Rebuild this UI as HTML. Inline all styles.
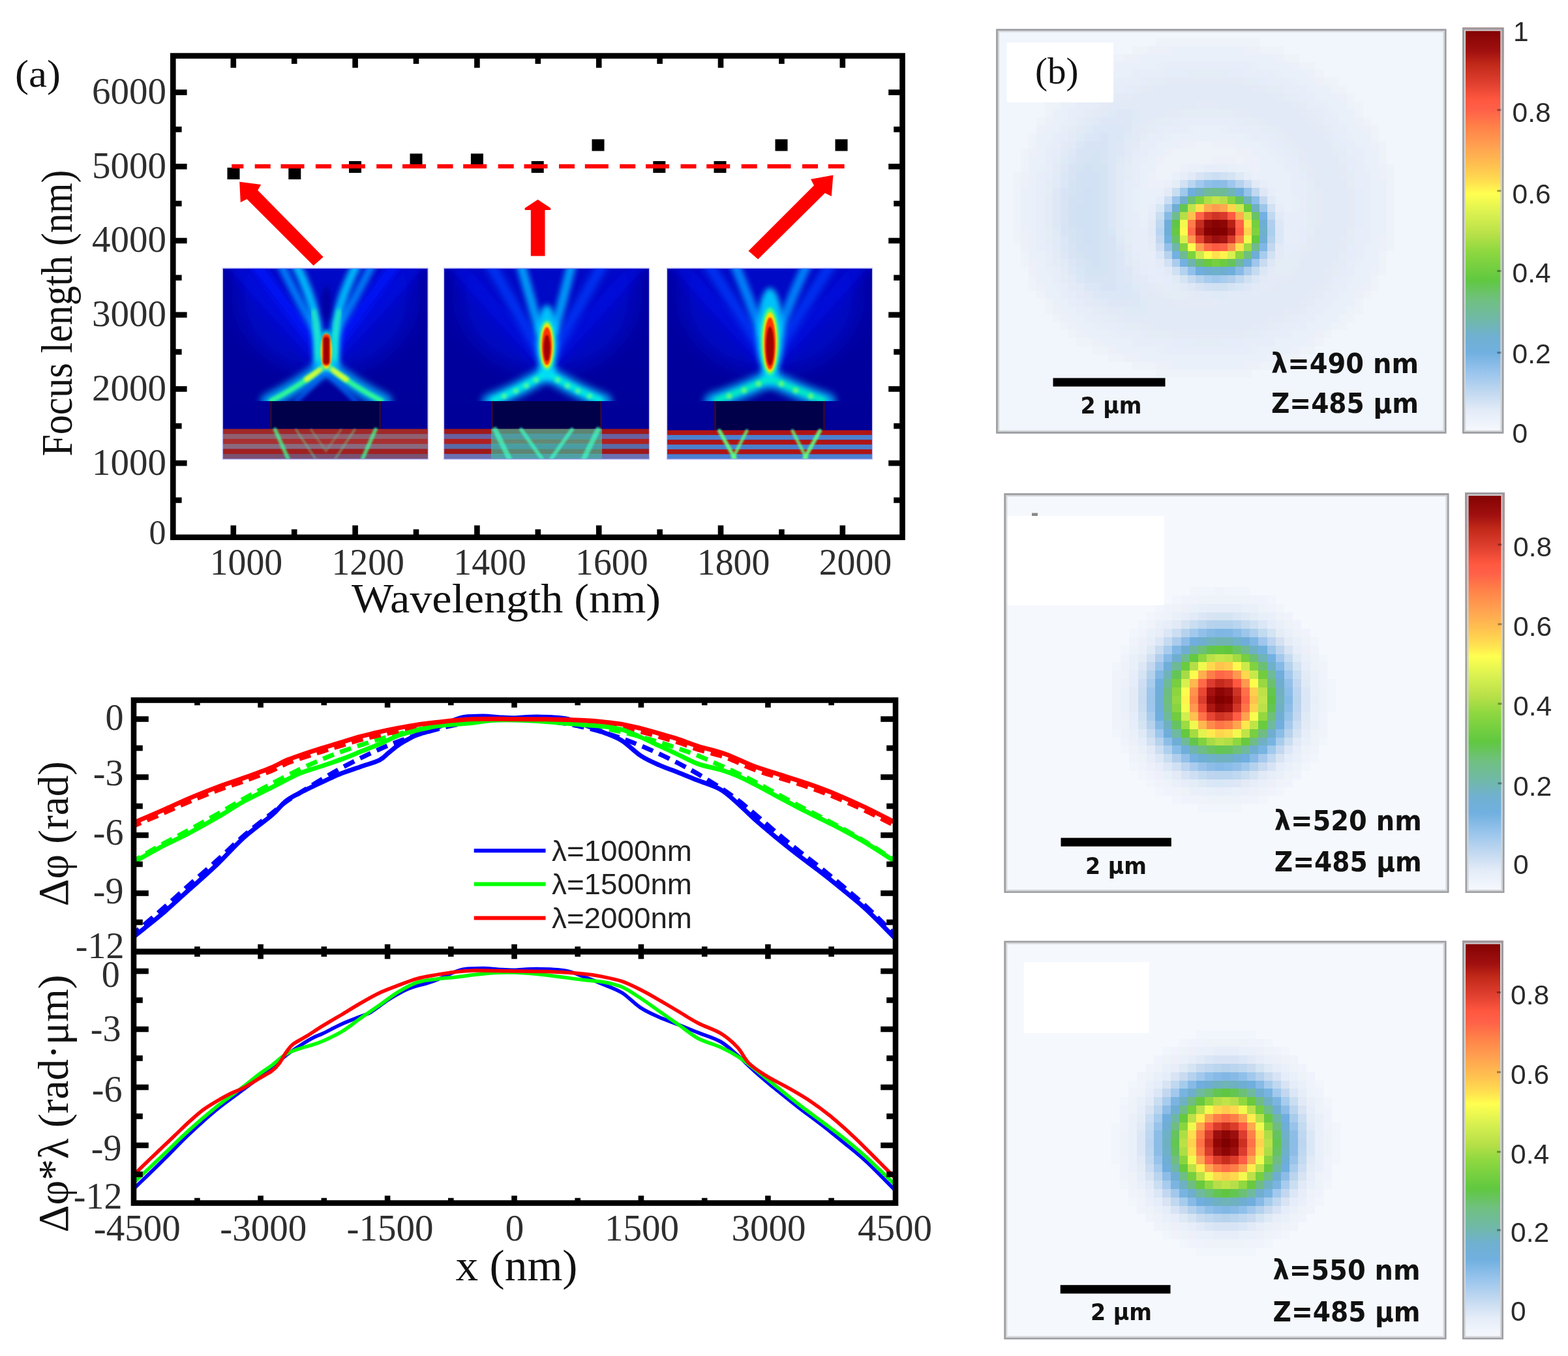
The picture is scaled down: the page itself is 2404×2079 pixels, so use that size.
<!DOCTYPE html>
<html><head><meta charset="utf-8"><title>Figure</title>
<style>html,body{margin:0;padding:0;background:#fff;}svg{display:block;}</style>
</head><body>
<svg xmlns="http://www.w3.org/2000/svg" width="2404" height="2079" viewBox="0 0 2404 2079">
<defs><filter id="g1" x="-50%" y="-50%" width="200%" height="200%"><feGaussianBlur stdDeviation="1"/></filter><filter id="g1_5" x="-50%" y="-50%" width="200%" height="200%"><feGaussianBlur stdDeviation="1.5"/></filter><filter id="g2" x="-50%" y="-50%" width="200%" height="200%"><feGaussianBlur stdDeviation="2"/></filter><filter id="g3" x="-50%" y="-50%" width="200%" height="200%"><feGaussianBlur stdDeviation="3"/></filter><filter id="g4" x="-50%" y="-50%" width="200%" height="200%"><feGaussianBlur stdDeviation="4"/></filter><filter id="g6" x="-50%" y="-50%" width="200%" height="200%"><feGaussianBlur stdDeviation="6"/></filter><filter id="g9" x="-50%" y="-50%" width="200%" height="200%"><feGaussianBlur stdDeviation="9"/></filter><filter id="g16" x="-50%" y="-50%" width="200%" height="200%"><feGaussianBlur stdDeviation="16"/></filter><clipPath id="ci"><rect x="0" y="0" width="314" height="292"/></clipPath><clipPath id="cf"><rect x="0" y="0" width="314" height="203.5"/></clipPath><linearGradient id="ibg" x1="0" y1="0" x2="0" y2="1"><stop offset="0" stop-color="#0000a6"/><stop offset="0.7" stop-color="#00009a"/><stop offset="1" stop-color="#000094"/></linearGradient><linearGradient id="cb" x1="0" y1="0" x2="0" y2="1"><stop offset="0.0" stop-color="#800000"/><stop offset="0.057" stop-color="#a01010"/><stop offset="0.089" stop-color="#c02818"/><stop offset="0.137" stop-color="#e04030"/><stop offset="0.178" stop-color="#ff5840"/><stop offset="0.202" stop-color="#ff6048"/><stop offset="0.242" stop-color="#ff8048"/><stop offset="0.291" stop-color="#ffa050"/><stop offset="0.339" stop-color="#ffc050"/><stop offset="0.38" stop-color="#ffe050"/><stop offset="0.409" stop-color="#ffff50"/><stop offset="0.46" stop-color="#d8f050"/><stop offset="0.509" stop-color="#b8e048"/><stop offset="0.549" stop-color="#90d840"/><stop offset="0.622" stop-color="#60c840"/><stop offset="0.67" stop-color="#70c080"/><stop offset="0.719" stop-color="#70b8a8"/><stop offset="0.759" stop-color="#70b0d0"/><stop offset="0.8" stop-color="#70b0e0"/><stop offset="0.848" stop-color="#98c4ec"/><stop offset="0.897" stop-color="#c0d8f0"/><stop offset="0.945" stop-color="#e4ecf8"/><stop offset="1.0" stop-color="#f8fafe"/></linearGradient></defs>
<rect width="2404" height="2079" fill="#fff"/>
<g transform="translate(341.8,411.6)"><g clip-path="url(#ci)">
<rect width="314" height="292" fill="url(#ibg)"/>
<g clip-path="url(#cf)">
<ellipse cx="158" cy="40" rx="135" ry="120" fill="#0018f0" opacity="0.45" filter="url(#g16)"/>
<path d="M150,140 L15,-8" fill="none" stroke="#0010f0" stroke-width="20" stroke-linecap="round" opacity="0.6" filter="url(#g9)"/>
<path d="M166,140 L300,-8" fill="none" stroke="#0010f0" stroke-width="20" stroke-linecap="round" opacity="0.6" filter="url(#g9)"/>
<path d="M150,125 L48,-8" fill="none" stroke="#0018ff" stroke-width="18" stroke-linecap="round" opacity="0.85" filter="url(#g6)"/>
<path d="M166,125 L266,-8" fill="none" stroke="#0018ff" stroke-width="18" stroke-linecap="round" opacity="0.85" filter="url(#g6)"/>
<path d="M147,105 Q118,55 88,-8" fill="none" stroke="#0090ff" stroke-width="12" stroke-linecap="round" opacity="0.9" filter="url(#g4)"/>
<path d="M169,105 Q198,55 230,-8" fill="none" stroke="#0090ff" stroke-width="12" stroke-linecap="round" opacity="0.9" filter="url(#g4)"/>
<path d="M146,150 L144,82 Q134,38 111,-8" fill="none" stroke="#00c8ff" stroke-width="14" stroke-linecap="round" opacity="0.95" filter="url(#g4)"/>
<path d="M171,150 L173,82 Q183,38 206,-8" fill="none" stroke="#00c8ff" stroke-width="14" stroke-linecap="round" opacity="0.95" filter="url(#g4)"/>
<path d="M146,140 L144.5,100 Q142.5,82 139,66" fill="none" stroke="#30ffb0" stroke-width="8" stroke-linecap="round" opacity="0.75" filter="url(#g3)"/>
<path d="M171,140 L172.5,100 Q174.5,82 178,66" fill="none" stroke="#30ffb0" stroke-width="8" stroke-linecap="round" opacity="0.75" filter="url(#g3)"/>
<ellipse cx="158.5" cy="55" rx="7" ry="28" fill="#00009a" opacity="0.9" filter="url(#g4)"/>
<path d="M70,204 Q112,184 156,150" fill="none" stroke="#00b8ff" stroke-width="24" stroke-linecap="round" opacity="0.85" filter="url(#g6)"/>
<path d="M247,204 Q205,184 161,150" fill="none" stroke="#00b8ff" stroke-width="24" stroke-linecap="round" opacity="0.85" filter="url(#g6)"/>
<path d="M74,203 Q114,182 156,151" fill="none" stroke="#30ff90" stroke-width="8" stroke-linecap="round" opacity="0.95" filter="url(#g2)"/>
<path d="M243,203 Q203,182 161,151" fill="none" stroke="#30ff90" stroke-width="8" stroke-linecap="round" opacity="0.95" filter="url(#g2)"/>
<path d="M128,170 Q142,161 156,151" fill="none" stroke="#e0ff30" stroke-width="8" stroke-linecap="round" opacity="0.95" filter="url(#g2)"/>
<path d="M189,170 Q175,161 161,151" fill="none" stroke="#e0ff30" stroke-width="8" stroke-linecap="round" opacity="0.95" filter="url(#g2)"/>
<path d="M112,204 L158,158 L204,204" fill="none" stroke="#0070ff" stroke-width="7" stroke-linecap="round" opacity="0.75" filter="url(#g3)"/>
<path d="M158.5,160 L158.5,186" fill="none" stroke="#0080ff" stroke-width="8" stroke-linecap="round" opacity="0.8" filter="url(#g3)"/>
<ellipse cx="158.5" cy="126" rx="13" ry="32" fill="#00e8e0" opacity="0.85" filter="url(#g3)"/>
<ellipse cx="158.5" cy="127" rx="8.5" ry="27" fill="#ffe000" filter="url(#g1_5)"/>
<rect x="152.5" y="100.5" width="12" height="49" rx="6" fill="#ff3a00" filter="url(#g1)"/>
<rect x="154" y="105" width="9" height="42" rx="4.5" fill="#a00000" filter="url(#g1)"/>
</g>
<rect x="72" y="203.5" width="170.5" height="42.5" fill="#00004a"/>
<rect x="72" y="203.5" width="3" height="42.5" fill="#3a0a30" opacity="0.8"/>
<rect x="239.5" y="203.5" width="3" height="42.5" fill="#3a0a30" opacity="0.8"/>
<rect x="0" y="246" width="314" height="8.2" fill="#a02828"/>
<rect x="0" y="253.7" width="314" height="8.2" fill="#906070"/>
<rect x="0" y="261.3" width="314" height="8.2" fill="#a83030"/>
<rect x="0" y="269" width="314" height="8.2" fill="#8a6a80"/>
<rect x="0" y="276.7" width="314" height="8.2" fill="#a02020"/>
<rect x="0" y="284.3" width="314" height="8.2" fill="#7a5070"/>
<path d="M80,247 L100,292" fill="none" stroke="#40ff90" stroke-width="6" stroke-linecap="round" opacity="0.75" filter="url(#g1_5)"/>
<path d="M234,247 L214,292" fill="none" stroke="#40ff90" stroke-width="6" stroke-linecap="round" opacity="0.75" filter="url(#g1_5)"/>
<path d="M112,247 L142,292" fill="none" stroke="#70c090" stroke-width="3" stroke-linecap="round" opacity="0.6" filter="url(#g1_5)"/>
<path d="M202,247 L172,292" fill="none" stroke="#70c090" stroke-width="3" stroke-linecap="round" opacity="0.6" filter="url(#g1_5)"/>
<path d="M135,247 L158,280 L181,247" fill="none" stroke="#80b080" stroke-width="3" stroke-linecap="round" opacity="0.5" filter="url(#g1_5)"/>
</g>
<rect x="-0.5" y="-0.5" width="315" height="293" fill="none" stroke="#9090ff" stroke-width="1.5" opacity="0.5"/>
</g>
<g transform="translate(681,411.6)"><g clip-path="url(#ci)">
<rect width="314" height="292" fill="url(#ibg)"/>
<g clip-path="url(#cf)">
<ellipse cx="158" cy="40" rx="135" ry="120" fill="#0018f0" opacity="0.45" filter="url(#g16)"/>
<path d="M150,140 L15,-8" fill="none" stroke="#0010f0" stroke-width="20" stroke-linecap="round" opacity="0.6" filter="url(#g9)"/>
<path d="M166,140 L300,-8" fill="none" stroke="#0010f0" stroke-width="20" stroke-linecap="round" opacity="0.6" filter="url(#g9)"/>
<path d="M148,130 L70,-8" fill="none" stroke="#0040ff" stroke-width="16" stroke-linecap="round" opacity="0.8" filter="url(#g6)"/>
<path d="M166,130 L244,-8" fill="none" stroke="#0040ff" stroke-width="16" stroke-linecap="round" opacity="0.8" filter="url(#g6)"/>
<path d="M146,95 Q132,45 117,-8" fill="none" stroke="#00b0ff" stroke-width="14" stroke-linecap="round" opacity="0.9" filter="url(#g4)"/>
<path d="M169,95 Q183,45 196,-8" fill="none" stroke="#00b0ff" stroke-width="14" stroke-linecap="round" opacity="0.9" filter="url(#g4)"/>
<path d="M70,204 Q112,188 157,160" fill="none" stroke="#00c0ff" stroke-width="24" stroke-linecap="round" opacity="0.85" filter="url(#g6)"/>
<path d="M245,204 Q203,188 158,160" fill="none" stroke="#00c0ff" stroke-width="24" stroke-linecap="round" opacity="0.85" filter="url(#g6)"/>
<path d="M76,202 Q114,186 156,161" fill="none" stroke="#00f0e0" stroke-width="10" stroke-linecap="round" opacity="0.95" filter="url(#g3)"/>
<path d="M239,202 Q201,186 159,161" fill="none" stroke="#00f0e0" stroke-width="10" stroke-linecap="round" opacity="0.95" filter="url(#g3)"/>
<ellipse cx="92" cy="196" rx="4" ry="4" fill="#60ff90" opacity="0.8" filter="url(#g2)"/>
<ellipse cx="223" cy="196" rx="4" ry="4" fill="#60ff90" opacity="0.8" filter="url(#g2)"/>
<ellipse cx="110" cy="188" rx="4" ry="4" fill="#60ff90" opacity="0.8" filter="url(#g2)"/>
<ellipse cx="205" cy="188" rx="4" ry="4" fill="#60ff90" opacity="0.8" filter="url(#g2)"/>
<ellipse cx="126" cy="180" rx="4" ry="4" fill="#60ff90" opacity="0.8" filter="url(#g2)"/>
<ellipse cx="189" cy="180" rx="4" ry="4" fill="#60ff90" opacity="0.8" filter="url(#g2)"/>
<ellipse cx="141" cy="171" rx="4" ry="4" fill="#60ff90" opacity="0.8" filter="url(#g2)"/>
<ellipse cx="174" cy="171" rx="4" ry="4" fill="#60ff90" opacity="0.8" filter="url(#g2)"/>
<ellipse cx="157.5" cy="112" rx="16" ry="56" fill="#00d8ff" opacity="0.9" filter="url(#g4)"/>
<ellipse cx="157.5" cy="118" rx="12" ry="38" fill="#50ff80" filter="url(#g2)"/>
<ellipse cx="157.5" cy="118" rx="9.5" ry="34" fill="#ffe000" filter="url(#g1_5)"/>
<ellipse cx="157.5" cy="119" rx="7.5" ry="29" fill="#ff3000" filter="url(#g1)"/>
<ellipse cx="157.5" cy="122" rx="5" ry="20" fill="#a00000" filter="url(#g1)"/>
</g>
<rect x="72" y="203.5" width="170" height="42.5" fill="#00004a"/>
<rect x="72" y="203.5" width="3" height="42.5" fill="#3a0a30" opacity="0.8"/>
<rect x="239" y="203.5" width="3" height="42.5" fill="#3a0a30" opacity="0.8"/>
<rect x="0" y="246" width="314" height="8.2" fill="#a01818"/>
<rect x="0" y="253.7" width="314" height="8.2" fill="#6a60a0"/>
<rect x="0" y="261.3" width="314" height="8.2" fill="#b02020"/>
<rect x="0" y="269" width="314" height="8.2" fill="#5a6aa8"/>
<rect x="0" y="276.7" width="314" height="8.2" fill="#a01818"/>
<rect x="0" y="284.3" width="314" height="8.2" fill="#6a70b0"/>
<rect x="72" y="246" width="170" height="8.2" fill="#30d0b0" opacity="0.6"/>
<rect x="72" y="253.7" width="170" height="8.2" fill="#40c0a0" opacity="0.6"/>
<rect x="72" y="261.3" width="170" height="8.2" fill="#30d0b0" opacity="0.6"/>
<rect x="72" y="269" width="170" height="8.2" fill="#40c0a0" opacity="0.6"/>
<rect x="72" y="276.7" width="170" height="8.2" fill="#30d0b0" opacity="0.6"/>
<rect x="72" y="284.3" width="170" height="8.2" fill="#40c0a0" opacity="0.6"/>
<path d="M78,247 L100,292" fill="none" stroke="#40ffc0" stroke-width="8" stroke-linecap="round" opacity="0.7" filter="url(#g1_5)"/>
<path d="M236,247 L214,292" fill="none" stroke="#40ffc0" stroke-width="8" stroke-linecap="round" opacity="0.7" filter="url(#g1_5)"/>
<path d="M118,247 L150,292" fill="none" stroke="#40ffc0" stroke-width="6" stroke-linecap="round" opacity="0.7" filter="url(#g1_5)"/>
<path d="M196,247 L164,292" fill="none" stroke="#40ffc0" stroke-width="6" stroke-linecap="round" opacity="0.7" filter="url(#g1_5)"/>
</g>
<rect x="-0.5" y="-0.5" width="315" height="293" fill="none" stroke="#9090ff" stroke-width="1.5" opacity="0.5"/>
</g>
<g transform="translate(1023,411.6)"><g clip-path="url(#ci)">
<rect width="314" height="292" fill="url(#ibg)"/>
<g clip-path="url(#cf)">
<ellipse cx="158" cy="40" rx="135" ry="120" fill="#0018f0" opacity="0.45" filter="url(#g16)"/>
<path d="M150,140 L15,-8" fill="none" stroke="#0010f0" stroke-width="20" stroke-linecap="round" opacity="0.6" filter="url(#g9)"/>
<path d="M166,140 L300,-8" fill="none" stroke="#0010f0" stroke-width="20" stroke-linecap="round" opacity="0.6" filter="url(#g9)"/>
<path d="M150,130 L62,-8" fill="none" stroke="#0040ff" stroke-width="16" stroke-linecap="round" opacity="0.8" filter="url(#g6)"/>
<path d="M165,130 L252,-8" fill="none" stroke="#0040ff" stroke-width="16" stroke-linecap="round" opacity="0.8" filter="url(#g6)"/>
<path d="M145,100 Q125,45 103,-8" fill="none" stroke="#0090ff" stroke-width="15" stroke-linecap="round" opacity="0.9" filter="url(#g4)"/>
<path d="M170,100 Q190,45 215,-8" fill="none" stroke="#0090ff" stroke-width="15" stroke-linecap="round" opacity="0.9" filter="url(#g4)"/>
<path d="M70,204 Q112,190 157,168" fill="none" stroke="#00c0ff" stroke-width="26" stroke-linecap="round" opacity="0.85" filter="url(#g6)"/>
<path d="M245,204 Q203,190 158,168" fill="none" stroke="#00c0ff" stroke-width="26" stroke-linecap="round" opacity="0.85" filter="url(#g6)"/>
<path d="M76,202 Q114,188 156,169" fill="none" stroke="#00f0c0" stroke-width="10" stroke-linecap="round" opacity="0.95" filter="url(#g3)"/>
<path d="M239,202 Q201,188 159,169" fill="none" stroke="#00f0c0" stroke-width="10" stroke-linecap="round" opacity="0.95" filter="url(#g3)"/>
<ellipse cx="95" cy="196" rx="4.5" ry="4.5" fill="#70ff70" opacity="0.8" filter="url(#g2)"/>
<ellipse cx="220" cy="196" rx="4.5" ry="4.5" fill="#70ff70" opacity="0.8" filter="url(#g2)"/>
<ellipse cx="118" cy="187" rx="4.5" ry="4.5" fill="#70ff70" opacity="0.8" filter="url(#g2)"/>
<ellipse cx="197" cy="187" rx="4.5" ry="4.5" fill="#70ff70" opacity="0.8" filter="url(#g2)"/>
<ellipse cx="140" cy="177" rx="4.5" ry="4.5" fill="#70ff70" opacity="0.8" filter="url(#g2)"/>
<ellipse cx="175" cy="177" rx="4.5" ry="4.5" fill="#70ff70" opacity="0.8" filter="url(#g2)"/>
<ellipse cx="157.5" cy="100" rx="20" ry="70" fill="#00d8ff" opacity="0.9" filter="url(#g4)"/>
<ellipse cx="157.5" cy="112" rx="14" ry="52" fill="#40ff80" filter="url(#g2)"/>
<ellipse cx="157.5" cy="113" rx="11" ry="46" fill="#ffe000" filter="url(#g1_5)"/>
<ellipse cx="157.5" cy="115" rx="8.5" ry="40" fill="#ff3000" filter="url(#g1)"/>
<ellipse cx="157.5" cy="119" rx="6" ry="30" fill="#a00000" filter="url(#g1)"/>
</g>
<rect x="72" y="203.5" width="170" height="44.5" fill="#00004a"/>
<rect x="72" y="203.5" width="3" height="44.5" fill="#3a0a30" opacity="0.8"/>
<rect x="239" y="203.5" width="3" height="44.5" fill="#3a0a30" opacity="0.8"/>
<rect x="0" y="248" width="314" height="7.8" fill="#b01414"/>
<rect x="0" y="255.3" width="314" height="7.8" fill="#4a80d0"/>
<rect x="0" y="262.7" width="314" height="7.8" fill="#b01414"/>
<rect x="0" y="270" width="314" height="7.8" fill="#4a80d0"/>
<rect x="0" y="277.3" width="314" height="7.8" fill="#b01414"/>
<rect x="0" y="284.7" width="314" height="7.8" fill="#4a80d0"/>
<path d="M80,249 L104,292" fill="none" stroke="#60ff80" stroke-width="6" stroke-linecap="round" opacity="0.9" filter="url(#g1_5)"/>
<path d="M234,249 L210,292" fill="none" stroke="#60ff80" stroke-width="6" stroke-linecap="round" opacity="0.9" filter="url(#g1_5)"/>
<path d="M122,249 L100,292" fill="none" stroke="#60ff80" stroke-width="5" stroke-linecap="round" opacity="0.8" filter="url(#g1_5)"/>
<path d="M192,249 L214,292" fill="none" stroke="#60ff80" stroke-width="5" stroke-linecap="round" opacity="0.8" filter="url(#g1_5)"/>
</g>
<rect x="-0.5" y="-0.5" width="315" height="293" fill="none" stroke="#9090ff" stroke-width="1.5" opacity="0.5"/>
</g>
<path d="M348.5 257h19v18h-19zM442.3 257h19v18h-19zM535 247h19v18h-19zM628.5 235.5h19v18h-19zM721.9 235.5h19v18h-19zM814.7 247h19v18h-19zM907.5 213.6h19v18h-19zM1001.3 247h19v18h-19zM1094.5 247h19v18h-19zM1188.5 213.6h19v18h-19zM1280.5 213.6h19v18h-19z" fill="#000"/>
<path d="M355.2 251.7h18.1v6.6h-18.1zM430.5 251.7h36v6.6h-36zM390.7 251.7h24v6.6h-24zM523.8 251.7h36v6.6h-36zM483.9 251.7h24v6.6h-24zM617 251.7h36v6.6h-36zM577.2 251.7h24v6.6h-24zM710.2 251.7h36v6.6h-36zM670.5 251.7h24v6.6h-24zM803.5 251.7h36v6.6h-36zM763.7 251.7h24v6.6h-24zM896.8 251.7h36v6.6h-36zM857 251.7h24v6.6h-24zM990 251.7h36v6.6h-36zM950.2 251.7h24v6.6h-24zM1083.2 251.7h36v6.6h-36zM1043.5 251.7h24v6.6h-24zM1176.5 251.7h36v6.6h-36zM1136.7 251.7h24v6.6h-24zM1269.8 251.7h24.8v6.6h-24.8zM1230 251.7h24v6.6h-24z" fill="#ff0000"/>
<polygon points="367.2,278.8 400.2,283 395.2,291.8 495.7,394 480.6,407.3 378.5,305.2 368.8,310.2" fill="#ff0000"/>
<polygon points="824.5,306 844.2,319 844.2,322 835.5,322 835.5,392.4 813.8,392.4 813.8,322 804.7,322 804.7,319" fill="#ff0000"/>
<polygon points="1277.4,268.4 1274.8,301 1264.8,296 1162.2,397.4 1147.5,384.8 1248,284.3 1243,274.7" fill="#ff0000"/>
<line x1="357.8" y1="823.8" x2="357.8" y2="805.5" stroke="#000" stroke-width="8.6"/>
<line x1="357.8" y1="85.6" x2="357.8" y2="103.9" stroke="#000" stroke-width="8.6"/>
<line x1="451.2" y1="823.8" x2="451.2" y2="811.5" stroke="#000" stroke-width="8.6"/>
<line x1="451.2" y1="85.6" x2="451.2" y2="97.9" stroke="#000" stroke-width="8.6"/>
<line x1="544.6" y1="823.8" x2="544.6" y2="805.5" stroke="#000" stroke-width="8.6"/>
<line x1="544.6" y1="85.6" x2="544.6" y2="103.9" stroke="#000" stroke-width="8.6"/>
<line x1="638" y1="823.8" x2="638" y2="811.5" stroke="#000" stroke-width="8.6"/>
<line x1="638" y1="85.6" x2="638" y2="97.9" stroke="#000" stroke-width="8.6"/>
<line x1="731.4" y1="823.8" x2="731.4" y2="805.5" stroke="#000" stroke-width="8.6"/>
<line x1="731.4" y1="85.6" x2="731.4" y2="103.9" stroke="#000" stroke-width="8.6"/>
<line x1="824.8" y1="823.8" x2="824.8" y2="811.5" stroke="#000" stroke-width="8.6"/>
<line x1="824.8" y1="85.6" x2="824.8" y2="97.9" stroke="#000" stroke-width="8.6"/>
<line x1="918.2" y1="823.8" x2="918.2" y2="805.5" stroke="#000" stroke-width="8.6"/>
<line x1="918.2" y1="85.6" x2="918.2" y2="103.9" stroke="#000" stroke-width="8.6"/>
<line x1="1011.6" y1="823.8" x2="1011.6" y2="811.5" stroke="#000" stroke-width="8.6"/>
<line x1="1011.6" y1="85.6" x2="1011.6" y2="97.9" stroke="#000" stroke-width="8.6"/>
<line x1="1105" y1="823.8" x2="1105" y2="805.5" stroke="#000" stroke-width="8.6"/>
<line x1="1105" y1="85.6" x2="1105" y2="103.9" stroke="#000" stroke-width="8.6"/>
<line x1="1198.4" y1="823.8" x2="1198.4" y2="811.5" stroke="#000" stroke-width="8.6"/>
<line x1="1198.4" y1="85.6" x2="1198.4" y2="97.9" stroke="#000" stroke-width="8.6"/>
<line x1="1291.8" y1="823.8" x2="1291.8" y2="805.5" stroke="#000" stroke-width="8.6"/>
<line x1="1291.8" y1="85.6" x2="1291.8" y2="103.9" stroke="#000" stroke-width="8.6"/>
<line x1="265.3" y1="766.9" x2="278.6" y2="766.9" stroke="#000" stroke-width="8.6"/>
<line x1="1383.5" y1="766.9" x2="1370.2" y2="766.9" stroke="#000" stroke-width="8.6"/>
<line x1="265.3" y1="710.1" x2="286.6" y2="710.1" stroke="#000" stroke-width="8.6"/>
<line x1="1383.5" y1="710.1" x2="1362.2" y2="710.1" stroke="#000" stroke-width="8.6"/>
<line x1="265.3" y1="653.2" x2="278.6" y2="653.2" stroke="#000" stroke-width="8.6"/>
<line x1="1383.5" y1="653.2" x2="1370.2" y2="653.2" stroke="#000" stroke-width="8.6"/>
<line x1="265.3" y1="596.4" x2="286.6" y2="596.4" stroke="#000" stroke-width="8.6"/>
<line x1="1383.5" y1="596.4" x2="1362.2" y2="596.4" stroke="#000" stroke-width="8.6"/>
<line x1="265.3" y1="539.5" x2="278.6" y2="539.5" stroke="#000" stroke-width="8.6"/>
<line x1="1383.5" y1="539.5" x2="1370.2" y2="539.5" stroke="#000" stroke-width="8.6"/>
<line x1="265.3" y1="482.7" x2="286.6" y2="482.7" stroke="#000" stroke-width="8.6"/>
<line x1="1383.5" y1="482.7" x2="1362.2" y2="482.7" stroke="#000" stroke-width="8.6"/>
<line x1="265.3" y1="425.8" x2="278.6" y2="425.8" stroke="#000" stroke-width="8.6"/>
<line x1="1383.5" y1="425.8" x2="1370.2" y2="425.8" stroke="#000" stroke-width="8.6"/>
<line x1="265.3" y1="369" x2="286.6" y2="369" stroke="#000" stroke-width="8.6"/>
<line x1="1383.5" y1="369" x2="1362.2" y2="369" stroke="#000" stroke-width="8.6"/>
<line x1="265.3" y1="312.1" x2="278.6" y2="312.1" stroke="#000" stroke-width="8.6"/>
<line x1="1383.5" y1="312.1" x2="1370.2" y2="312.1" stroke="#000" stroke-width="8.6"/>
<line x1="265.3" y1="255.3" x2="286.6" y2="255.3" stroke="#000" stroke-width="8.6"/>
<line x1="1383.5" y1="255.3" x2="1362.2" y2="255.3" stroke="#000" stroke-width="8.6"/>
<line x1="265.3" y1="198.4" x2="278.6" y2="198.4" stroke="#000" stroke-width="8.6"/>
<line x1="1383.5" y1="198.4" x2="1370.2" y2="198.4" stroke="#000" stroke-width="8.6"/>
<line x1="265.3" y1="141.6" x2="286.6" y2="141.6" stroke="#000" stroke-width="8.6"/>
<line x1="1383.5" y1="141.6" x2="1362.2" y2="141.6" stroke="#000" stroke-width="8.6"/>
<rect x="265.3" y="85.6" width="1118.2" height="738.2" fill="none" stroke="#000" stroke-width="8.6"/>
<g font-family="'Liberation Serif','Times New Roman',serif" font-size="56" fill="#2e2e2e">
<text x="377.4" y="881" text-anchor="middle" textLength="111.5" lengthAdjust="spacingAndGlyphs">1000</text>
<text x="564.2" y="881" text-anchor="middle" textLength="111.5" lengthAdjust="spacingAndGlyphs">1200</text>
<text x="751" y="881" text-anchor="middle" textLength="111.5" lengthAdjust="spacingAndGlyphs">1400</text>
<text x="937.8" y="881" text-anchor="middle" textLength="111.5" lengthAdjust="spacingAndGlyphs">1600</text>
<text x="1124.6" y="881" text-anchor="middle" textLength="111.5" lengthAdjust="spacingAndGlyphs">1800</text>
<text x="1311.4" y="881" text-anchor="middle" textLength="111.5" lengthAdjust="spacingAndGlyphs">2000</text>
<text x="255" y="727.5" text-anchor="end" textLength="114" lengthAdjust="spacingAndGlyphs">1000</text>
<text x="255" y="613.8" text-anchor="end" textLength="114" lengthAdjust="spacingAndGlyphs">2000</text>
<text x="255" y="500.1" text-anchor="end" textLength="114" lengthAdjust="spacingAndGlyphs">3000</text>
<text x="255" y="386.4" text-anchor="end" textLength="114" lengthAdjust="spacingAndGlyphs">4000</text>
<text x="255" y="272.7" text-anchor="end" textLength="114" lengthAdjust="spacingAndGlyphs">5000</text>
<text x="255" y="159" text-anchor="end" textLength="114" lengthAdjust="spacingAndGlyphs">6000</text>
<text x="254.5" y="834" text-anchor="end" font-size="52">0</text>
</g>
<text x="539" y="938.5" font-family="'Liberation Serif','Times New Roman',serif" font-size="63" fill="#111" textLength="474" lengthAdjust="spacingAndGlyphs">Wavelength (nm)</text>
<text transform="translate(109.5,699.5) rotate(-90)" font-family="'Liberation Serif','Times New Roman',serif" font-size="67" fill="#111" textLength="439" lengthAdjust="spacingAndGlyphs">Focus length (nm)</text>
<text x="23" y="132.5" font-family="'Liberation Serif','Times New Roman',serif" font-size="60" fill="#111" textLength="70" lengthAdjust="spacingAndGlyphs">(a)</text>
<defs><clipPath id="cu"><rect x="205" y="1073" width="1168" height="386"/></clipPath><clipPath id="cl"><rect x="205" y="1459" width="1168" height="386"/></clipPath></defs>
<g clip-path="url(#cu)" fill="none" stroke-linejoin="round">
<path d="M201.3 1435.7C201.9 1435 197.3 1438.4 205 1431.6C212.7 1424.8 233.3 1407.6 247.4 1395.1C261.6 1382.7 275.7 1369.7 289.8 1357.1C303.9 1344.5 318.1 1332.4 332.2 1319.7C346.3 1306.9 360.5 1292.8 374.6 1280.6C388.7 1268.4 406.4 1255.3 417 1246.7C427.6 1238.2 431.2 1234.6 438.2 1229.4C445.3 1224.3 449.9 1221.7 459.4 1215.8C468.8 1209.9 484.2 1200.2 495 1193.8C505.8 1187.3 514.4 1182.4 524.1 1177.1C533.7 1171.8 543.3 1166.9 553 1162.1C562.6 1157.4 574.7 1152 581.9 1148.7C589.1 1145.5 591.4 1144.6 596.3 1142.6C601.1 1140.7 605.9 1138.7 610.8 1136.9C615.6 1135.1 620.5 1133.3 625.3 1131.6C630.1 1129.9 635 1128.3 639.8 1126.7C644.7 1125.2 649 1123.8 654.3 1122.3C659.7 1120.7 665.7 1119 671.8 1117.5C678 1115.9 684.7 1114.3 691.3 1112.9C697.8 1111.5 703.1 1110.4 711.2 1109.1C719.4 1107.8 730.4 1106.1 740.1 1105.1C749.9 1104.1 761.9 1103.3 770 1102.9C778 1102.4 779.6 1102.3 788.5 1102.5C797.4 1102.7 810.3 1102.7 823.4 1103.8C836.4 1105 854.8 1107.4 866.9 1109.3C879 1111.2 886.5 1113 896.1 1115.3C905.7 1117.5 915.1 1120 924.7 1122.9C934.4 1125.7 944.1 1128.9 953.8 1132.3C963.4 1135.8 973 1139.5 982.7 1143.4C992.3 1147.4 1001.9 1151.7 1011.6 1156.2C1021.3 1160.7 1030.9 1165.5 1040.6 1170.5C1050.4 1175.6 1059.4 1180.4 1070.1 1186.6C1080.7 1192.9 1094.6 1201.3 1104.7 1207.9C1114.8 1214.5 1122 1219.6 1130.6 1226.2C1139.2 1232.8 1146.4 1238.9 1156.5 1247.4C1166.6 1255.9 1179.6 1267.4 1191.1 1277.1C1202.7 1286.8 1214.2 1296.2 1225.7 1305.4C1237.3 1314.7 1248.8 1323.3 1260.4 1332.5C1271.9 1341.8 1283.3 1351.3 1294.8 1361C1306.4 1370.8 1316.2 1378.8 1329.4 1391.2C1342.7 1403.5 1366.5 1427.4 1374.4 1435.2C1382.4 1443 1376.6 1437.5 1377 1438" stroke="#0000ff" stroke-width="7" stroke-dasharray="18 10"/>
<path d="M201.3 1322C201.9 1321.6 197.3 1324.4 205 1319.9C212.7 1315.5 233.3 1303.1 247.4 1295.2C261.6 1287.3 275.7 1280.2 289.8 1272.4C303.9 1264.7 318.1 1256.7 332.2 1248.7C346.3 1240.7 360.5 1232.2 374.6 1224.3C388.7 1216.4 402.9 1208.7 417 1201.3C431.1 1193.9 446.4 1185.9 459.4 1179.6C472.4 1173.3 484.2 1168.2 495 1163.6C505.8 1159.1 514.4 1155.8 524.1 1152.2C533.7 1148.7 543.3 1145.4 553 1142.3C562.6 1139.1 572.2 1136.1 581.9 1133.3C591.5 1130.5 601.1 1127.9 610.8 1125.4C620.4 1123 630.2 1120.7 639.8 1118.6C649.5 1116.6 659.1 1114.7 668.7 1113C678.4 1111.3 688.1 1109.8 697.8 1108.6C707.4 1107.3 717 1106.2 726.7 1105.3C736.3 1104.4 745.4 1103.8 755.7 1103.3C766 1102.8 774.8 1102.3 788.5 1102.5C802.2 1102.7 820 1102.9 837.9 1104.3C855.8 1105.7 881.4 1109 895.8 1111C910.3 1112.9 915.1 1114.2 924.7 1116.1C934.4 1118 944.1 1120.1 953.8 1122.4C963.4 1124.7 973 1127.1 982.7 1129.8C992.3 1132.4 1001.9 1135.3 1011.6 1138.3C1021.3 1141.3 1030.9 1144.5 1040.6 1147.9C1050.4 1151.2 1059.4 1154.3 1070.1 1158.6C1080.7 1162.9 1094.6 1169.2 1104.7 1173.6C1114.8 1178 1122 1181.2 1130.6 1185.3C1139.2 1189.4 1146.4 1192.9 1156.5 1198.2C1166.6 1203.5 1179.6 1210.8 1191.1 1217.1C1202.7 1223.3 1214.2 1229.7 1225.7 1235.8C1237.3 1241.9 1248.8 1247.7 1260.4 1253.7C1271.9 1259.8 1283.3 1265.7 1294.8 1272.1C1306.4 1278.5 1316.2 1284.1 1329.4 1292.2C1342.7 1300.3 1366.5 1315.8 1374.4 1320.9C1382.4 1325.9 1376.6 1322.3 1377 1322.6" stroke="#00ff00" stroke-width="7" stroke-dasharray="18 10"/>
<path d="M201.3 1267.8C201.9 1267.5 197.3 1269.5 205 1266.3C212.7 1263 233.3 1254.4 247.4 1248.2C261.6 1242 275.7 1235.2 289.8 1229.2C303.9 1223.2 318.1 1217.6 332.2 1212.3C346.3 1207 360.5 1202.6 374.6 1197.4C388.7 1192.3 406.4 1185.8 417 1181.4C427.6 1177 431.2 1174.1 438.2 1171C445.3 1168 449.9 1166.5 459.4 1163.3C468.8 1160.1 484.2 1155.2 495 1151.8C505.8 1148.3 514.4 1145.8 524.1 1142.9C533.7 1139.9 543.3 1136.9 553 1134.2C562.6 1131.6 572.2 1129.3 581.9 1127.1C591.5 1125 601.1 1123 610.8 1121.2C620.4 1119.4 630.2 1117.6 639.8 1116.1C649.5 1114.7 659.1 1113.5 668.7 1112.2C678.4 1110.9 688.1 1109.3 697.8 1108.1C707.4 1106.9 713 1105.8 726.7 1104.9C740.4 1104 761.4 1102.7 779.9 1102.7C798.5 1102.7 818.6 1103.7 837.9 1104.7C857.2 1105.7 881.4 1107.6 895.8 1108.8C910.3 1109.9 915.1 1110.7 924.7 1111.8C934.4 1113 944.1 1113.7 953.8 1115.4C963.4 1117.1 973 1119.5 982.7 1121.9C992.3 1124.4 1001.9 1127.2 1011.6 1129.9C1021.3 1132.7 1030.9 1135.4 1040.6 1138.5C1050.4 1141.7 1058.1 1145.3 1070.1 1149.1C1082 1152.9 1098.3 1156.2 1112.4 1161.2C1126.6 1166.3 1140.7 1174 1154.8 1179.3C1169 1184.7 1183.1 1188.7 1197.2 1193.3C1211.4 1197.9 1225.5 1202 1239.6 1206.9C1253.7 1211.9 1267.9 1217.1 1282 1223C1296.2 1228.8 1309.7 1234.9 1324.5 1241.9C1339.4 1249 1362.3 1261 1371.1 1265.4C1379.8 1269.8 1376 1267.9 1377 1268.4" stroke="#ff0000" stroke-width="7" stroke-dasharray="18 10"/>
<path d="M201.3 1440.7C201.9 1440 197.3 1442.7 205 1436.3C212.7 1429.9 233.3 1414.2 247.4 1402.2C261.6 1390.2 275.7 1376.9 289.8 1364.2C303.9 1351.5 318.1 1339.4 332.2 1325.9C346.3 1312.5 360.5 1296.2 374.6 1283.5C388.7 1270.8 406.4 1258.9 417 1249.7C427.6 1240.5 431.2 1233.9 438.2 1228.3C445.3 1222.7 449.9 1220.8 459.4 1215.8C468.8 1210.9 484.2 1203.7 495 1198.6C505.8 1193.6 514.4 1189.4 524.1 1185.6C533.7 1181.7 543.3 1178.9 553 1175.5C562.6 1172.1 574.7 1169 581.9 1165.4C589.1 1161.8 591.4 1157.7 596.3 1153.8C601.1 1150 605.9 1145.6 610.8 1142.3C615.6 1138.9 620.5 1136.3 625.3 1133.7C630.1 1131 635 1128.2 639.8 1126.2C644.7 1124.3 649 1124 654.3 1122.1C659.7 1120.2 665.7 1117.6 671.8 1115C678 1112.3 684.7 1108.6 691.3 1106.1C697.8 1103.5 703.1 1100.9 711.2 1099.5C719.4 1098.2 730.4 1098 740.1 1098C749.9 1098.1 761.9 1099.7 770 1100.1C778 1100.6 779.6 1100.9 788.5 1100.7C797.4 1100.5 810.3 1098.8 823.4 1098.9C836.4 1099.1 854.8 1099.5 866.9 1101.6C879 1103.7 886.5 1107.9 896.1 1111.4C905.7 1114.9 915.1 1118.6 924.7 1122.7C934.4 1126.7 944.1 1129.7 953.8 1135.7C963.4 1141.8 973 1152.6 982.7 1158.9C992.3 1165.2 1001.9 1169.1 1011.6 1173.4C1021.3 1177.7 1030.9 1180.8 1040.6 1184.7C1050.4 1188.5 1059.4 1192.3 1070.1 1196.6C1080.7 1200.9 1094.6 1204.7 1104.7 1210.5C1114.8 1216.3 1122 1223.8 1130.6 1231.3C1139.2 1238.8 1146.4 1246.6 1156.5 1255.6C1166.6 1264.5 1179.6 1275.5 1191.1 1285C1202.7 1294.5 1214.2 1303.6 1225.7 1312.6C1237.3 1321.5 1248.8 1329.7 1260.4 1338.7C1271.9 1347.6 1283.3 1356.8 1294.8 1366.3C1306.4 1375.8 1316.2 1383.2 1329.4 1395.6C1342.7 1408.1 1366.5 1432.7 1374.4 1440.7C1382.4 1448.7 1376.6 1443.2 1377 1443.7" stroke="#0000ff" stroke-width="7"/>
<path d="M201.3 1323.5C201.9 1323.2 197.3 1326 205 1321.8C212.7 1317.6 233.3 1305.7 247.4 1298.3C261.6 1290.9 275.7 1284.7 289.8 1277.3C303.9 1269.8 318.1 1262 332.2 1253.8C346.3 1245.7 360.5 1236.1 374.6 1228.3C388.7 1220.5 402.9 1214.3 417 1207.2C431.1 1200.2 446.4 1191.4 459.4 1185.9C472.4 1180.3 484.2 1177.7 495 1174C505.8 1170.3 514.4 1167.5 524.1 1163.9C533.7 1160.3 543.3 1156.2 553 1152.3C562.6 1148.5 572.2 1144.9 581.9 1140.8C591.5 1136.7 601.1 1131.2 610.8 1127.7C620.4 1124.2 630.2 1122.1 639.8 1119.7C649.5 1117.3 659.1 1114.7 668.7 1113.2C678.4 1111.6 688.1 1111.4 697.8 1110.5C707.4 1109.7 717 1109.2 726.7 1108.1C736.3 1107.1 745.4 1105 755.7 1104.3C766 1103.6 774.8 1103.5 788.5 1103.9C802.2 1104.2 820 1105.2 837.9 1106.5C855.8 1107.7 881.4 1110.4 895.8 1111.6C910.3 1112.8 915.1 1112.4 924.7 1113.6C934.4 1114.8 944.1 1115.9 953.8 1118.7C963.4 1121.5 973 1126.2 982.7 1130.4C992.3 1134.6 1001.9 1139.4 1011.6 1143.8C1021.3 1148.3 1030.9 1152.7 1040.6 1157.3C1050.4 1161.8 1059.4 1167.3 1070.1 1171.1C1080.7 1175 1094.6 1177.2 1104.7 1180.2C1114.8 1183.3 1122 1185.9 1130.6 1189.5C1139.2 1193.2 1146.4 1197 1156.5 1202.2C1166.6 1207.4 1179.6 1214.6 1191.1 1220.8C1202.7 1226.9 1214.2 1233.2 1225.7 1239.2C1237.3 1245.1 1248.8 1250.6 1260.4 1256.4C1271.9 1262.2 1283.3 1267.6 1294.8 1273.8C1306.4 1280 1316.2 1285.3 1329.4 1293.4C1342.7 1301.5 1366.5 1317.1 1374.4 1322.3C1382.4 1327.4 1376.6 1323.7 1377 1324" stroke="#00ff00" stroke-width="7"/>
<path d="M201.3 1262.7C201.9 1262.5 197.3 1264.5 205 1261.2C212.7 1258 233.3 1249.3 247.4 1243.1C261.6 1237 275.7 1230.1 289.8 1224.1C303.9 1218.2 318.1 1212.5 332.2 1207.2C346.3 1201.9 360.5 1197.5 374.6 1192.4C388.7 1187.3 406.4 1180.8 417 1176.4C427.6 1172 431.2 1169 438.2 1166C445.3 1163 449.9 1161.5 459.4 1158.3C468.8 1155.1 484.2 1150.1 495 1146.7C505.8 1143.3 514.4 1140.7 524.1 1137.8C533.7 1134.9 543.3 1131.8 553 1129.2C562.6 1126.6 572.2 1124.3 581.9 1122.1C591.5 1119.9 601.1 1118 610.8 1116.1C620.4 1114.3 630.2 1112.5 639.8 1111.1C649.5 1109.7 659.1 1108.6 668.7 1107.5C678.4 1106.5 688.1 1105.4 697.8 1104.6C707.4 1103.7 713 1102.9 726.7 1102.5C740.4 1102.1 761.4 1102.3 779.9 1102.4C798.5 1102.4 818.6 1102.4 837.9 1102.8C857.2 1103.2 881.4 1103.9 895.8 1104.6C910.3 1105.2 915.1 1105.8 924.7 1106.8C934.4 1107.8 944.1 1108.7 953.8 1110.4C963.4 1112 973 1114.5 982.7 1116.9C992.3 1119.3 1001.9 1122.1 1011.6 1124.9C1021.3 1127.7 1030.9 1130.3 1040.6 1133.5C1050.4 1136.7 1058.1 1140.3 1070.1 1144C1082 1147.8 1098.3 1151.2 1112.4 1156.2C1126.6 1161.2 1140.7 1169 1154.8 1174.3C1169 1179.6 1183.1 1183.6 1197.2 1188.2C1211.4 1192.8 1225.5 1196.9 1239.6 1201.9C1253.7 1206.8 1267.9 1212.1 1282 1217.9C1296.2 1223.8 1309.7 1229.8 1324.5 1236.9C1339.4 1244 1362.3 1255.9 1371.1 1260.3C1379.8 1264.7 1376 1262.8 1377 1263.3" stroke="#ff0000" stroke-width="7"/>
</g>
<g clip-path="url(#cl)" fill="none" stroke-linejoin="round">
<path d="M201.3 1827.2C201.9 1826.5 197.3 1830.4 205 1822.8C212.7 1815.2 233.3 1795.5 247.4 1781.5C261.6 1767.6 275.7 1752.5 289.8 1739.1C303.9 1725.7 318.1 1712.8 332.2 1701.1C346.3 1689.5 364 1677.4 374.6 1669.4C385.2 1661.4 388.8 1658.7 395.9 1653.4C402.9 1648 409.9 1643.2 417 1637.3C424 1631.5 431.2 1624 438.2 1618.4C445.3 1612.7 452.3 1608.1 459.4 1603.5C466.4 1598.9 474.7 1593.9 480.6 1590.8C486.6 1587.6 487.8 1588 495 1584.5C502.3 1581.1 514.4 1574.4 524.1 1570C533.7 1565.6 545.7 1561.3 553 1558.4C560.2 1555.5 562.5 1555.2 567.4 1552.5C572.2 1549.8 577.1 1545.8 581.9 1542.4C586.7 1539 591.4 1535.4 596.3 1532.3C601.1 1529.2 605.9 1526.4 610.8 1523.7C615.6 1521 620.5 1518.4 625.3 1516.3C630.1 1514.2 635 1512.7 639.8 1511.3C644.7 1509.8 649 1509.3 654.3 1507.7C659.7 1506.1 665.7 1504 671.8 1501.5C678 1498.9 684.7 1495.1 691.3 1492.6C697.8 1490 703.1 1487.4 711.2 1486C719.4 1484.7 730.4 1484.5 740.1 1484.5C749.9 1484.6 761.9 1486.2 770 1486.6C778 1487.1 779.6 1487.4 788.5 1487.2C797.4 1487 810.3 1485.3 823.4 1485.4C836.4 1485.6 854.8 1486 866.9 1488.1C879 1490.2 886.5 1494.4 896.1 1497.9C905.7 1501.4 915.1 1505.1 924.7 1509.2C934.4 1513.2 944.1 1516.2 953.8 1522.2C963.4 1528.3 973 1539.1 982.7 1545.4C992.3 1551.7 1001.9 1555.6 1011.6 1559.9C1021.3 1564.2 1030.9 1567.3 1040.6 1571.2C1050.4 1575 1059.4 1578.8 1070.1 1583.1C1080.7 1587.4 1094.6 1591.2 1104.7 1597C1114.8 1602.8 1122 1610.3 1130.6 1617.8C1139.2 1625.3 1146.4 1633.1 1156.5 1642.1C1166.6 1651 1179.6 1662 1191.1 1671.5C1202.7 1681 1214.2 1690.1 1225.7 1699.1C1237.3 1708 1248.8 1716.2 1260.4 1725.2C1271.9 1734.1 1283.3 1743.3 1294.8 1752.8C1306.4 1762.3 1316.2 1769.7 1329.4 1782.1C1342.7 1794.6 1366.5 1819.2 1374.4 1827.2C1382.4 1835.2 1376.6 1829.7 1377 1830.2" stroke="#0000ff" stroke-width="5.5"/>
<path d="M201.3 1816.9C201.9 1816.3 197.3 1820.6 205 1813.3C212.7 1806 233.3 1786.6 247.4 1773.2C261.6 1759.8 275.7 1745.6 289.8 1732.9C303.9 1720.1 318.1 1708 332.2 1696.7C346.3 1685.4 364 1673.1 374.6 1664.9C385.2 1656.8 388.8 1653.3 395.9 1648C402.9 1642.7 409.9 1638.5 417 1633.2C424 1627.9 431.2 1620.5 438.2 1616.3C445.3 1612 452.3 1610.2 459.4 1607.7C466.4 1605.2 474.7 1603.4 480.6 1601.4C486.6 1599.5 487.8 1599.4 495 1596.1C502.3 1592.8 514.4 1587.4 524.1 1581.6C533.7 1575.7 543.3 1567.9 553 1561.1C562.6 1554.3 572.2 1547.6 581.9 1540.9C591.5 1534.2 601.1 1526.5 610.8 1520.7C620.4 1515 630.2 1509.5 639.8 1506.2C649.5 1502.9 659.1 1502.5 668.7 1501.2C678.4 1499.8 688.1 1499.3 697.8 1498.2C707.4 1497.1 717 1495.7 726.7 1494.6C736.3 1493.5 745.4 1492.3 755.7 1491.7C766 1491.1 774.8 1490.5 788.5 1491.1C802.2 1491.6 820 1493 837.9 1494.9C855.8 1496.9 881.4 1500.9 895.8 1502.6C910.3 1504.4 915.1 1503.8 924.7 1505.6C934.4 1507.4 944.1 1509.1 953.8 1513.3C963.4 1517.5 973 1524.6 982.7 1530.8C992.3 1537.1 1001.9 1544.3 1011.6 1551C1021.3 1557.7 1030.9 1564.4 1040.6 1571.2C1050.4 1578 1059.4 1586.2 1070.1 1592C1080.7 1597.7 1094.6 1601 1104.7 1605.6C1114.8 1610.2 1122 1614.1 1130.6 1619.5C1139.2 1625 1146.4 1630.7 1156.5 1638.5C1166.6 1646.3 1179.6 1657.2 1191.1 1666.4C1202.7 1675.7 1214.2 1685.1 1225.7 1694C1237.3 1702.9 1248.8 1711.2 1260.4 1719.8C1271.9 1728.5 1283.3 1736.7 1294.8 1745.9C1306.4 1755.2 1316.2 1763.2 1329.4 1775.3C1342.7 1787.4 1366.5 1811 1374.4 1818.6C1382.4 1826.3 1376.6 1820.9 1377 1821.3" stroke="#00ff00" stroke-width="5.5"/>
<path d="M201.3 1806.5C201.9 1805.7 200.9 1806 205 1801.7C209.2 1797.4 219.1 1787.5 226.2 1780.7C233.2 1773.8 240.4 1767.2 247.4 1760.5C254.5 1753.8 261.5 1747 268.6 1740.3C275.6 1733.6 282.7 1726.5 289.8 1720.1C296.9 1713.8 303.9 1707.3 310.9 1702C318 1696.7 325.1 1692.6 332.2 1688.4C339.3 1684.2 346.3 1680.3 353.3 1676.8C360.4 1673.3 367.5 1671.1 374.6 1667.3C381.7 1663.6 388.8 1658.5 395.9 1654.3C402.9 1650 411.7 1645.7 417 1641.8C422.3 1637.9 424.1 1635.7 427.6 1631.1C431.2 1626.5 434.7 1619.2 438.2 1614.2C441.8 1609.3 443.4 1605.7 448.7 1601.4C454 1597.2 462.3 1593.5 470 1588.7C477.7 1583.9 486 1578.2 495 1572.7C504 1567.1 514.4 1561.2 524.1 1555.5C533.7 1549.7 543.3 1543.5 553 1538C562.6 1532.4 572.2 1526.8 581.9 1522.2C591.5 1517.7 601.1 1514.3 610.8 1510.7C620.4 1507 630.2 1502.9 639.8 1500.3C649.5 1497.6 659.1 1496.3 668.7 1494.6C678.4 1493 688.1 1491.3 697.8 1490.2C707.4 1489.1 713 1488.4 726.7 1488.1C740.4 1487.9 761.4 1488.5 779.9 1488.7C798.5 1489 818.6 1488.9 837.9 1489.6C857.2 1490.3 881.4 1491.8 895.8 1493.2C910.3 1494.5 915.1 1495.7 924.7 1497.6C934.4 1499.5 944.1 1501.4 953.8 1504.7C963.4 1508.1 973 1512.9 982.7 1517.8C992.3 1522.6 1001.9 1528.3 1011.6 1533.8C1021.3 1539.3 1030.9 1545.2 1040.6 1551C1050.4 1556.8 1059.4 1563 1070.1 1568.5C1080.7 1574.1 1094.6 1578.1 1104.7 1584.2C1114.8 1590.4 1123.4 1598 1130.6 1605.6C1137.8 1613.2 1140.8 1622.7 1148 1629.9C1155.2 1637.2 1163.7 1642.6 1173.8 1648.9C1183.8 1655.3 1196.8 1661.3 1208.4 1667.9C1219.9 1674.5 1231.4 1680.9 1243 1688.7C1254.5 1696.5 1266.1 1705.2 1277.6 1714.8C1289.1 1724.3 1300.7 1735 1312.2 1745.9C1323.7 1756.9 1336.4 1770 1346.8 1780.4C1357.2 1790.7 1369.4 1803.2 1374.4 1808.2C1379.5 1813.3 1376.6 1810.5 1377 1810.9" stroke="#ff0000" stroke-width="5.5"/>
</g>
<line x1="302.4" y1="1073.5" x2="302.4" y2="1081.3" stroke="#000" stroke-width="8.6"/>
<line x1="302.4" y1="1451.2" x2="302.4" y2="1466.8" stroke="#000" stroke-width="8.6"/>
<line x1="302.4" y1="1844.5" x2="302.4" y2="1836.7" stroke="#000" stroke-width="8.6"/>
<line x1="399.6" y1="1073.5" x2="399.6" y2="1084.8" stroke="#000" stroke-width="8.6"/>
<line x1="399.6" y1="1447.7" x2="399.6" y2="1470.3" stroke="#000" stroke-width="8.6"/>
<line x1="399.6" y1="1844.5" x2="399.6" y2="1833.2" stroke="#000" stroke-width="8.6"/>
<line x1="496.8" y1="1073.5" x2="496.8" y2="1081.3" stroke="#000" stroke-width="8.6"/>
<line x1="496.8" y1="1451.2" x2="496.8" y2="1466.8" stroke="#000" stroke-width="8.6"/>
<line x1="496.8" y1="1844.5" x2="496.8" y2="1836.7" stroke="#000" stroke-width="8.6"/>
<line x1="594.1" y1="1073.5" x2="594.1" y2="1084.8" stroke="#000" stroke-width="8.6"/>
<line x1="594.1" y1="1447.7" x2="594.1" y2="1470.3" stroke="#000" stroke-width="8.6"/>
<line x1="594.1" y1="1844.5" x2="594.1" y2="1833.2" stroke="#000" stroke-width="8.6"/>
<line x1="691.3" y1="1073.5" x2="691.3" y2="1081.3" stroke="#000" stroke-width="8.6"/>
<line x1="691.3" y1="1451.2" x2="691.3" y2="1466.8" stroke="#000" stroke-width="8.6"/>
<line x1="691.3" y1="1844.5" x2="691.3" y2="1836.7" stroke="#000" stroke-width="8.6"/>
<line x1="788.5" y1="1073.5" x2="788.5" y2="1084.8" stroke="#000" stroke-width="8.6"/>
<line x1="788.5" y1="1447.7" x2="788.5" y2="1470.3" stroke="#000" stroke-width="8.6"/>
<line x1="788.5" y1="1844.5" x2="788.5" y2="1833.2" stroke="#000" stroke-width="8.6"/>
<line x1="885.7" y1="1073.5" x2="885.7" y2="1081.3" stroke="#000" stroke-width="8.6"/>
<line x1="885.7" y1="1451.2" x2="885.7" y2="1466.8" stroke="#000" stroke-width="8.6"/>
<line x1="885.7" y1="1844.5" x2="885.7" y2="1836.7" stroke="#000" stroke-width="8.6"/>
<line x1="982.9" y1="1073.5" x2="982.9" y2="1084.8" stroke="#000" stroke-width="8.6"/>
<line x1="982.9" y1="1447.7" x2="982.9" y2="1470.3" stroke="#000" stroke-width="8.6"/>
<line x1="982.9" y1="1844.5" x2="982.9" y2="1833.2" stroke="#000" stroke-width="8.6"/>
<line x1="1080.2" y1="1073.5" x2="1080.2" y2="1081.3" stroke="#000" stroke-width="8.6"/>
<line x1="1080.2" y1="1451.2" x2="1080.2" y2="1466.8" stroke="#000" stroke-width="8.6"/>
<line x1="1080.2" y1="1844.5" x2="1080.2" y2="1836.7" stroke="#000" stroke-width="8.6"/>
<line x1="1177.4" y1="1073.5" x2="1177.4" y2="1084.8" stroke="#000" stroke-width="8.6"/>
<line x1="1177.4" y1="1447.7" x2="1177.4" y2="1470.3" stroke="#000" stroke-width="8.6"/>
<line x1="1177.4" y1="1844.5" x2="1177.4" y2="1833.2" stroke="#000" stroke-width="8.6"/>
<line x1="1274.6" y1="1073.5" x2="1274.6" y2="1081.3" stroke="#000" stroke-width="8.6"/>
<line x1="1274.6" y1="1451.2" x2="1274.6" y2="1466.8" stroke="#000" stroke-width="8.6"/>
<line x1="1274.6" y1="1844.5" x2="1274.6" y2="1836.7" stroke="#000" stroke-width="8.6"/>
<line x1="205" y1="1102.5" x2="227.8" y2="1102.5" stroke="#000" stroke-width="8.6"/>
<line x1="1373" y1="1102.5" x2="1350.2" y2="1102.5" stroke="#000" stroke-width="8.6"/>
<line x1="205" y1="1147" x2="218.8" y2="1147" stroke="#000" stroke-width="8.6"/>
<line x1="1373" y1="1147" x2="1359.2" y2="1147" stroke="#000" stroke-width="8.6"/>
<line x1="205" y1="1191.5" x2="227.8" y2="1191.5" stroke="#000" stroke-width="8.6"/>
<line x1="1373" y1="1191.5" x2="1350.2" y2="1191.5" stroke="#000" stroke-width="8.6"/>
<line x1="205" y1="1236" x2="218.8" y2="1236" stroke="#000" stroke-width="8.6"/>
<line x1="1373" y1="1236" x2="1359.2" y2="1236" stroke="#000" stroke-width="8.6"/>
<line x1="205" y1="1280.5" x2="227.8" y2="1280.5" stroke="#000" stroke-width="8.6"/>
<line x1="1373" y1="1280.5" x2="1350.2" y2="1280.5" stroke="#000" stroke-width="8.6"/>
<line x1="205" y1="1325" x2="218.8" y2="1325" stroke="#000" stroke-width="8.6"/>
<line x1="1373" y1="1325" x2="1359.2" y2="1325" stroke="#000" stroke-width="8.6"/>
<line x1="205" y1="1369.5" x2="227.8" y2="1369.5" stroke="#000" stroke-width="8.6"/>
<line x1="1373" y1="1369.5" x2="1350.2" y2="1369.5" stroke="#000" stroke-width="8.6"/>
<line x1="205" y1="1414" x2="218.8" y2="1414" stroke="#000" stroke-width="8.6"/>
<line x1="1373" y1="1414" x2="1359.2" y2="1414" stroke="#000" stroke-width="8.6"/>
<line x1="205" y1="1489" x2="227.8" y2="1489" stroke="#000" stroke-width="8.6"/>
<line x1="1373" y1="1489" x2="1350.2" y2="1489" stroke="#000" stroke-width="8.6"/>
<line x1="205" y1="1533.5" x2="218.8" y2="1533.5" stroke="#000" stroke-width="8.6"/>
<line x1="1373" y1="1533.5" x2="1359.2" y2="1533.5" stroke="#000" stroke-width="8.6"/>
<line x1="205" y1="1578" x2="227.8" y2="1578" stroke="#000" stroke-width="8.6"/>
<line x1="1373" y1="1578" x2="1350.2" y2="1578" stroke="#000" stroke-width="8.6"/>
<line x1="205" y1="1622.5" x2="218.8" y2="1622.5" stroke="#000" stroke-width="8.6"/>
<line x1="1373" y1="1622.5" x2="1359.2" y2="1622.5" stroke="#000" stroke-width="8.6"/>
<line x1="205" y1="1667" x2="227.8" y2="1667" stroke="#000" stroke-width="8.6"/>
<line x1="1373" y1="1667" x2="1350.2" y2="1667" stroke="#000" stroke-width="8.6"/>
<line x1="205" y1="1711.5" x2="218.8" y2="1711.5" stroke="#000" stroke-width="8.6"/>
<line x1="1373" y1="1711.5" x2="1359.2" y2="1711.5" stroke="#000" stroke-width="8.6"/>
<line x1="205" y1="1756" x2="227.8" y2="1756" stroke="#000" stroke-width="8.6"/>
<line x1="1373" y1="1756" x2="1350.2" y2="1756" stroke="#000" stroke-width="8.6"/>
<line x1="205" y1="1800.5" x2="218.8" y2="1800.5" stroke="#000" stroke-width="8.6"/>
<line x1="1373" y1="1800.5" x2="1359.2" y2="1800.5" stroke="#000" stroke-width="8.6"/>
<rect x="205.0" y="1073.5" width="1168.0" height="771.0" fill="none" stroke="#000" stroke-width="8.6"/>
<line x1="205" y1="1459" x2="1373" y2="1459" stroke="#000" stroke-width="9.2"/>
<g font-family="'Liberation Serif','Times New Roman',serif" font-size="56" fill="#2e2e2e" text-anchor="end">
<text x="189.5" y="1119.4">0</text>
<text x="189.5" y="1203.9">-3</text>
<text x="189.5" y="1295">-6</text>
<text x="189.5" y="1384.6">-9</text>
<text x="190.4" y="1468.7">-12</text>
<text x="183.7" y="1512.5">0</text>
<text x="185.5" y="1596">-3</text>
<text x="187.4" y="1689">-6</text>
<text x="186.5" y="1778.5">-9</text>
<text x="187.4" y="1853.3">-12</text>
</g>
<g font-family="'Liberation Serif','Times New Roman',serif" font-size="57" fill="#2e2e2e" text-anchor="middle">
<text x="210.3" y="1902">-4500</text>
<text x="403.7" y="1902">-3000</text>
<text x="598" y="1902">-1500</text>
<text x="789" y="1902">0</text>
<text x="984" y="1902">1500</text>
<text x="1178.5" y="1902">3000</text>
<text x="1372" y="1902">4500</text>
</g>
<text x="698.5" y="1962.6" font-family="'Liberation Serif','Times New Roman',serif" font-size="67" fill="#111" textLength="187" lengthAdjust="spacingAndGlyphs">x (nm)</text>
<text transform="translate(104,1389.5) rotate(-90)" font-family="'Liberation Serif','Times New Roman',serif" font-size="66" fill="#111" textLength="222.5" lengthAdjust="spacingAndGlyphs">Δφ (rad)</text>
<text transform="translate(104,1889.4) rotate(-90)" font-family="'Liberation Serif','Times New Roman',serif" font-size="66" fill="#111" textLength="395" lengthAdjust="spacingAndGlyphs">Δφ*λ (rad·μm)</text>
<line x1="726.7" y1="1304.2" x2="836.5" y2="1304.2" stroke="#0000ff" stroke-width="6"/>
<line x1="726.7" y1="1355.6" x2="836.5" y2="1355.6" stroke="#00ff00" stroke-width="6"/>
<line x1="726.7" y1="1407.5" x2="836.5" y2="1407.5" stroke="#ff0000" stroke-width="6"/>
<g font-family="'Liberation Sans',Arial,sans-serif" font-size="45" fill="#222">
<text x="846" y="1319.5" textLength="215" lengthAdjust="spacingAndGlyphs">λ=1000nm</text>
<text x="846" y="1371" textLength="215" lengthAdjust="spacingAndGlyphs">λ=1500nm</text>
<text x="846" y="1422.5" textLength="215" lengthAdjust="spacingAndGlyphs">λ=2000nm</text>
</g>
<rect x="1527.1" y="44.3" width="690.5" height="620.5" fill="#f1f5fc"/>
<path d="M1772.4 58.6h12.2v12.1h-12.2zM1784.6 58.6h12.2v12.1h-12.2zM1796.8 58.6h12.2v12.1h-12.2zM1809 58.6h12.2v12.1h-12.2zM1821.2 58.6h12.2v12.1h-12.2zM1833.4 58.6h12.2v12.1h-12.2zM1845.6 58.6h12.2v12.1h-12.2zM1857.8 58.6h12.2v12.1h-12.2zM1870 58.6h12.2v12.1h-12.2zM1882.2 58.6h12.2v12.1h-12.2zM1894.4 58.6h12.2v12.1h-12.2zM1906.6 58.6h12.2v12.1h-12.2zM1918.8 58.6h12.2v12.1h-12.2zM1735.8 70.6h12.2v12.1h-12.2zM1748 70.6h12.2v12.1h-12.2zM1931 70.6h12.2v12.1h-12.2zM1943.2 70.6h12.2v12.1h-12.2zM1955.4 70.6h12.2v12.1h-12.2zM1699.2 82.8h12.2v12.1h-12.2zM1711.4 82.8h12.2v12.1h-12.2zM1967.6 82.8h12.2v12.1h-12.2zM1979.8 82.8h12.2v12.1h-12.2zM1674.8 94.9h12.2v12.1h-12.2zM1687 94.9h12.2v12.1h-12.2zM1992 94.9h12.2v12.1h-12.2zM2004.2 94.9h12.2v12.1h-12.2zM1662.6 107h12.2v12.1h-12.2zM2016.4 107h12.2v12.1h-12.2zM1638.2 119h12.2v12.1h-12.2zM1650.4 119h12.2v12.1h-12.2zM2028.6 119h12.2v12.1h-12.2zM2040.8 119h12.2v12.1h-12.2zM1626 131.2h12.2v12.1h-12.2zM2040.8 131.2h12.2v12.1h-12.2zM2053 131.2h12.2v12.1h-12.2zM1613.8 143.2h12.2v12.1h-12.2zM2065.2 143.2h12.2v12.1h-12.2zM1601.6 155.3h12.2v12.1h-12.2zM1613.8 155.3h12.2v12.1h-12.2zM2065.2 155.3h12.2v12.1h-12.2zM2077.4 155.3h12.2v12.1h-12.2zM1601.6 167.4h12.2v12.1h-12.2zM2077.4 167.4h12.2v12.1h-12.2zM1589.4 179.5h12.2v12.1h-12.2zM2089.6 179.5h12.2v12.1h-12.2zM2101.8 191.7h12.2v12.1h-12.2zM1577.2 203.8h12.2v12.1h-12.2zM2101.8 203.8h12.2v12.1h-12.2zM1577.2 215.8h12.2v12.1h-12.2zM1833.4 215.8h12.2v12.1h-12.2zM1845.6 215.8h12.2v12.1h-12.2zM2114 215.8h12.2v12.1h-12.2zM1565 227.9h12.2v12.1h-12.2zM1796.8 227.9h12.2v12.1h-12.2zM1809 227.9h12.2v12.1h-12.2zM1821.2 227.9h12.2v12.1h-12.2zM1833.4 227.9h12.2v12.1h-12.2zM1845.6 227.9h12.2v12.1h-12.2zM1857.8 227.9h12.2v12.1h-12.2zM1870 227.9h12.2v12.1h-12.2zM1882.2 227.9h12.2v12.1h-12.2zM2114 227.9h12.2v12.1h-12.2zM1565 240.1h12.2v12.1h-12.2zM1784.6 240.1h12.2v12.1h-12.2zM1796.8 240.1h12.2v12.1h-12.2zM1809 240.1h12.2v12.1h-12.2zM1821.2 240.1h12.2v12.1h-12.2zM1833.4 240.1h12.2v12.1h-12.2zM1845.6 240.1h12.2v12.1h-12.2zM1894.4 240.1h12.2v12.1h-12.2zM2114 240.1h12.2v12.1h-12.2zM1565 252.1h12.2v12.1h-12.2zM1772.4 252.1h12.2v12.1h-12.2zM1784.6 252.1h12.2v12.1h-12.2zM1796.8 252.1h12.2v12.1h-12.2zM2126.2 252.1h12.2v12.1h-12.2zM1552.8 264.2h12.2v12.1h-12.2zM1772.4 264.2h12.2v12.1h-12.2zM1784.6 264.2h12.2v12.1h-12.2zM2126.2 264.2h12.2v12.1h-12.2zM1552.8 276.3h12.2v12.1h-12.2zM2126.2 276.3h12.2v12.1h-12.2zM1552.8 288.4h12.2v12.1h-12.2zM2126.2 288.4h12.2v12.1h-12.2zM1552.8 300.6h12.2v12.1h-12.2zM2126.2 300.6h12.2v12.1h-12.2zM1552.8 312.6h12.2v12.1h-12.2zM2126.2 312.6h12.2v12.1h-12.2zM1552.8 324.8h12.2v12.1h-12.2zM2126.2 324.8h12.2v12.1h-12.2zM1552.8 336.8h12.2v12.1h-12.2zM2126.2 336.8h12.2v12.1h-12.2zM1552.8 348.9h12.2v12.1h-12.2zM2126.2 348.9h12.2v12.1h-12.2zM1552.8 361.1h12.2v12.1h-12.2zM2126.2 361.1h12.2v12.1h-12.2zM2126.2 373.1h12.2v12.1h-12.2zM1565 385.2h12.2v12.1h-12.2zM2114 385.2h12.2v12.1h-12.2zM1565 397.3h12.2v12.1h-12.2zM2114 397.3h12.2v12.1h-12.2zM2114 409.4h12.2v12.1h-12.2zM1577.2 421.6h12.2v12.1h-12.2zM2101.8 421.6h12.2v12.1h-12.2zM1577.2 433.6h12.2v12.1h-12.2zM2101.8 433.6h12.2v12.1h-12.2zM1589.4 445.8h12.2v12.1h-12.2zM2089.6 445.8h12.2v12.1h-12.2zM1601.6 457.8h12.2v12.1h-12.2zM2077.4 457.8h12.2v12.1h-12.2zM1601.6 469.9h12.2v12.1h-12.2zM2065.2 469.9h12.2v12.1h-12.2zM2077.4 469.9h12.2v12.1h-12.2zM1613.8 482.1h12.2v12.1h-12.2zM2053 482.1h12.2v12.1h-12.2zM2065.2 482.1h12.2v12.1h-12.2zM1626 494.1h12.2v12.1h-12.2zM2040.8 494.1h12.2v12.1h-12.2zM2053 494.1h12.2v12.1h-12.2zM1638.2 506.2h12.2v12.1h-12.2zM2028.6 506.2h12.2v12.1h-12.2zM1650.4 518.4h12.2v12.1h-12.2zM1662.6 518.4h12.2v12.1h-12.2zM2016.4 518.4h12.2v12.1h-12.2zM1674.8 530.5h12.2v12.1h-12.2zM1687 530.5h12.2v12.1h-12.2zM1992 530.5h12.2v12.1h-12.2zM2004.2 530.5h12.2v12.1h-12.2zM1699.2 542.6h12.2v12.1h-12.2zM1711.4 542.6h12.2v12.1h-12.2zM1967.6 542.6h12.2v12.1h-12.2zM1979.8 542.6h12.2v12.1h-12.2zM1735.8 554.7h12.2v12.1h-12.2zM1748 554.7h12.2v12.1h-12.2zM1760.2 554.7h12.2v12.1h-12.2zM1931 554.7h12.2v12.1h-12.2zM1943.2 554.7h12.2v12.1h-12.2zM1772.4 566.8h12.2v12.1h-12.2zM1784.6 566.8h12.2v12.1h-12.2zM1796.8 566.8h12.2v12.1h-12.2zM1809 566.8h12.2v12.1h-12.2zM1821.2 566.8h12.2v12.1h-12.2zM1833.4 566.8h12.2v12.1h-12.2zM1845.6 566.8h12.2v12.1h-12.2zM1857.8 566.8h12.2v12.1h-12.2zM1870 566.8h12.2v12.1h-12.2zM1882.2 566.8h12.2v12.1h-12.2zM1894.4 566.8h12.2v12.1h-12.2zM1906.6 566.8h12.2v12.1h-12.2z" fill="#edf3f9" shape-rendering="crispEdges"/>
<path d="M1760.2 70.6h12.2v12.1h-12.2zM1772.4 70.6h12.2v12.1h-12.2zM1784.6 70.6h12.2v12.1h-12.2zM1906.6 70.6h12.2v12.1h-12.2zM1918.8 70.6h12.2v12.1h-12.2zM1723.6 82.8h12.2v12.1h-12.2zM1735.8 82.8h12.2v12.1h-12.2zM1955.4 82.8h12.2v12.1h-12.2zM1699.2 94.9h12.2v12.1h-12.2zM1979.8 94.9h12.2v12.1h-12.2zM1674.8 107h12.2v12.1h-12.2zM2004.2 107h12.2v12.1h-12.2zM1662.6 119h12.2v12.1h-12.2zM2016.4 119h12.2v12.1h-12.2zM1638.2 131.2h12.2v12.1h-12.2zM1626 143.2h12.2v12.1h-12.2zM2053 143.2h12.2v12.1h-12.2zM1601.6 179.5h12.2v12.1h-12.2zM2077.4 179.5h12.2v12.1h-12.2zM1589.4 191.7h12.2v12.1h-12.2zM2089.6 191.7h12.2v12.1h-12.2zM1809 215.8h12.2v12.1h-12.2zM1821.2 215.8h12.2v12.1h-12.2zM1857.8 215.8h12.2v12.1h-12.2zM1870 215.8h12.2v12.1h-12.2zM1882.2 215.8h12.2v12.1h-12.2zM2101.8 215.8h12.2v12.1h-12.2zM1577.2 227.9h12.2v12.1h-12.2zM1784.6 227.9h12.2v12.1h-12.2zM1894.4 227.9h12.2v12.1h-12.2zM1906.6 227.9h12.2v12.1h-12.2zM1772.4 240.1h12.2v12.1h-12.2zM1857.8 240.1h12.2v12.1h-12.2zM1870 240.1h12.2v12.1h-12.2zM1882.2 240.1h12.2v12.1h-12.2zM1906.6 240.1h12.2v12.1h-12.2zM1918.8 240.1h12.2v12.1h-12.2zM1809 252.1h12.2v12.1h-12.2zM1918.8 252.1h12.2v12.1h-12.2zM2114 252.1h12.2v12.1h-12.2zM1565 264.2h12.2v12.1h-12.2zM1760.2 264.2h12.2v12.1h-12.2zM2114 264.2h12.2v12.1h-12.2zM1565 276.3h12.2v12.1h-12.2zM1760.2 276.3h12.2v12.1h-12.2zM1772.4 276.3h12.2v12.1h-12.2zM1565 348.9h12.2v12.1h-12.2zM1565 361.1h12.2v12.1h-12.2zM2114 361.1h12.2v12.1h-12.2zM1565 373.1h12.2v12.1h-12.2zM2114 373.1h12.2v12.1h-12.2zM1577.2 397.3h12.2v12.1h-12.2zM1577.2 409.4h12.2v12.1h-12.2zM2101.8 409.4h12.2v12.1h-12.2zM1589.4 433.6h12.2v12.1h-12.2zM2089.6 433.6h12.2v12.1h-12.2zM2077.4 445.8h12.2v12.1h-12.2zM1613.8 469.9h12.2v12.1h-12.2zM1626 482.1h12.2v12.1h-12.2zM1638.2 494.1h12.2v12.1h-12.2zM1650.4 506.2h12.2v12.1h-12.2zM2016.4 506.2h12.2v12.1h-12.2zM1674.8 518.4h12.2v12.1h-12.2zM2004.2 518.4h12.2v12.1h-12.2zM1699.2 530.5h12.2v12.1h-12.2zM1979.8 530.5h12.2v12.1h-12.2zM1723.6 542.6h12.2v12.1h-12.2zM1735.8 542.6h12.2v12.1h-12.2zM1943.2 542.6h12.2v12.1h-12.2zM1955.4 542.6h12.2v12.1h-12.2zM1772.4 554.7h12.2v12.1h-12.2zM1784.6 554.7h12.2v12.1h-12.2zM1906.6 554.7h12.2v12.1h-12.2zM1918.8 554.7h12.2v12.1h-12.2z" fill="#edf0f9" shape-rendering="crispEdges"/>
<path d="M1796.8 70.6h12.2v12.1h-12.2zM1809 70.6h12.2v12.1h-12.2zM1821.2 70.6h12.2v12.1h-12.2zM1833.4 70.6h12.2v12.1h-12.2zM1845.6 70.6h12.2v12.1h-12.2zM1857.8 70.6h12.2v12.1h-12.2zM1870 70.6h12.2v12.1h-12.2zM1882.2 70.6h12.2v12.1h-12.2zM1894.4 70.6h12.2v12.1h-12.2zM1748 82.8h12.2v12.1h-12.2zM1760.2 82.8h12.2v12.1h-12.2zM1772.4 82.8h12.2v12.1h-12.2zM1784.6 82.8h12.2v12.1h-12.2zM1796.8 82.8h12.2v12.1h-12.2zM1809 82.8h12.2v12.1h-12.2zM1821.2 82.8h12.2v12.1h-12.2zM1833.4 82.8h12.2v12.1h-12.2zM1845.6 82.8h12.2v12.1h-12.2zM1857.8 82.8h12.2v12.1h-12.2zM1870 82.8h12.2v12.1h-12.2zM1882.2 82.8h12.2v12.1h-12.2zM1894.4 82.8h12.2v12.1h-12.2zM1906.6 82.8h12.2v12.1h-12.2zM1918.8 82.8h12.2v12.1h-12.2zM1931 82.8h12.2v12.1h-12.2zM1943.2 82.8h12.2v12.1h-12.2zM1711.4 94.9h12.2v12.1h-12.2zM1723.6 94.9h12.2v12.1h-12.2zM1735.8 94.9h12.2v12.1h-12.2zM1748 94.9h12.2v12.1h-12.2zM1760.2 94.9h12.2v12.1h-12.2zM1931 94.9h12.2v12.1h-12.2zM1943.2 94.9h12.2v12.1h-12.2zM1955.4 94.9h12.2v12.1h-12.2zM1967.6 94.9h12.2v12.1h-12.2zM1687 107h12.2v12.1h-12.2zM1699.2 107h12.2v12.1h-12.2zM1711.4 107h12.2v12.1h-12.2zM1723.6 107h12.2v12.1h-12.2zM1967.6 107h12.2v12.1h-12.2zM1979.8 107h12.2v12.1h-12.2zM1992 107h12.2v12.1h-12.2zM1674.8 119h12.2v12.1h-12.2zM1687 119h12.2v12.1h-12.2zM1992 119h12.2v12.1h-12.2zM2004.2 119h12.2v12.1h-12.2zM1650.4 131.2h12.2v12.1h-12.2zM1662.6 131.2h12.2v12.1h-12.2zM1674.8 131.2h12.2v12.1h-12.2zM2004.2 131.2h12.2v12.1h-12.2zM2016.4 131.2h12.2v12.1h-12.2zM2028.6 131.2h12.2v12.1h-12.2zM1638.2 143.2h12.2v12.1h-12.2zM1650.4 143.2h12.2v12.1h-12.2zM2016.4 143.2h12.2v12.1h-12.2zM2028.6 143.2h12.2v12.1h-12.2zM2040.8 143.2h12.2v12.1h-12.2zM1626 155.3h12.2v12.1h-12.2zM1638.2 155.3h12.2v12.1h-12.2zM2040.8 155.3h12.2v12.1h-12.2zM2053 155.3h12.2v12.1h-12.2zM1613.8 167.4h12.2v12.1h-12.2zM1626 167.4h12.2v12.1h-12.2zM2053 167.4h12.2v12.1h-12.2zM2065.2 167.4h12.2v12.1h-12.2zM1613.8 179.5h12.2v12.1h-12.2zM2053 179.5h12.2v12.1h-12.2zM2065.2 179.5h12.2v12.1h-12.2zM1601.6 191.7h12.2v12.1h-12.2zM1613.8 191.7h12.2v12.1h-12.2zM1833.4 191.7h12.2v12.1h-12.2zM1845.6 191.7h12.2v12.1h-12.2zM1857.8 191.7h12.2v12.1h-12.2zM2065.2 191.7h12.2v12.1h-12.2zM2077.4 191.7h12.2v12.1h-12.2zM1589.4 203.8h12.2v12.1h-12.2zM1601.6 203.8h12.2v12.1h-12.2zM1796.8 203.8h12.2v12.1h-12.2zM1809 203.8h12.2v12.1h-12.2zM1821.2 203.8h12.2v12.1h-12.2zM1833.4 203.8h12.2v12.1h-12.2zM1845.6 203.8h12.2v12.1h-12.2zM1857.8 203.8h12.2v12.1h-12.2zM1870 203.8h12.2v12.1h-12.2zM1882.2 203.8h12.2v12.1h-12.2zM1894.4 203.8h12.2v12.1h-12.2zM2077.4 203.8h12.2v12.1h-12.2zM2089.6 203.8h12.2v12.1h-12.2zM1589.4 215.8h12.2v12.1h-12.2zM1772.4 215.8h12.2v12.1h-12.2zM1784.6 215.8h12.2v12.1h-12.2zM1796.8 215.8h12.2v12.1h-12.2zM1894.4 215.8h12.2v12.1h-12.2zM1906.6 215.8h12.2v12.1h-12.2zM1918.8 215.8h12.2v12.1h-12.2zM2077.4 215.8h12.2v12.1h-12.2zM2089.6 215.8h12.2v12.1h-12.2zM1589.4 227.9h12.2v12.1h-12.2zM1760.2 227.9h12.2v12.1h-12.2zM1772.4 227.9h12.2v12.1h-12.2zM1918.8 227.9h12.2v12.1h-12.2zM1931 227.9h12.2v12.1h-12.2zM2089.6 227.9h12.2v12.1h-12.2zM2101.8 227.9h12.2v12.1h-12.2zM1577.2 240.1h12.2v12.1h-12.2zM1589.4 240.1h12.2v12.1h-12.2zM1760.2 240.1h12.2v12.1h-12.2zM1931 240.1h12.2v12.1h-12.2zM1943.2 240.1h12.2v12.1h-12.2zM2089.6 240.1h12.2v12.1h-12.2zM2101.8 240.1h12.2v12.1h-12.2zM1577.2 252.1h12.2v12.1h-12.2zM1748 252.1h12.2v12.1h-12.2zM1760.2 252.1h12.2v12.1h-12.2zM1821.2 252.1h12.2v12.1h-12.2zM1833.4 252.1h12.2v12.1h-12.2zM1894.4 252.1h12.2v12.1h-12.2zM1906.6 252.1h12.2v12.1h-12.2zM1931 252.1h12.2v12.1h-12.2zM1943.2 252.1h12.2v12.1h-12.2zM1955.4 252.1h12.2v12.1h-12.2zM2101.8 252.1h12.2v12.1h-12.2zM1577.2 264.2h12.2v12.1h-12.2zM1748 264.2h12.2v12.1h-12.2zM1796.8 264.2h12.2v12.1h-12.2zM1918.8 264.2h12.2v12.1h-12.2zM1931 264.2h12.2v12.1h-12.2zM1943.2 264.2h12.2v12.1h-12.2zM1955.4 264.2h12.2v12.1h-12.2zM1967.6 264.2h12.2v12.1h-12.2zM2101.8 264.2h12.2v12.1h-12.2zM1577.2 276.3h12.2v12.1h-12.2zM1748 276.3h12.2v12.1h-12.2zM1784.6 276.3h12.2v12.1h-12.2zM1943.2 276.3h12.2v12.1h-12.2zM1955.4 276.3h12.2v12.1h-12.2zM1967.6 276.3h12.2v12.1h-12.2zM2101.8 276.3h12.2v12.1h-12.2zM2114 276.3h12.2v12.1h-12.2zM1565 288.4h12.2v12.1h-12.2zM1577.2 288.4h12.2v12.1h-12.2zM1748 288.4h12.2v12.1h-12.2zM1760.2 288.4h12.2v12.1h-12.2zM1772.4 288.4h12.2v12.1h-12.2zM1955.4 288.4h12.2v12.1h-12.2zM1967.6 288.4h12.2v12.1h-12.2zM2101.8 288.4h12.2v12.1h-12.2zM2114 288.4h12.2v12.1h-12.2zM1565 300.6h12.2v12.1h-12.2zM1577.2 300.6h12.2v12.1h-12.2zM1748 300.6h12.2v12.1h-12.2zM1760.2 300.6h12.2v12.1h-12.2zM1967.6 300.6h12.2v12.1h-12.2zM2101.8 300.6h12.2v12.1h-12.2zM2114 300.6h12.2v12.1h-12.2zM1565 312.6h12.2v12.1h-12.2zM1577.2 312.6h12.2v12.1h-12.2zM1748 312.6h12.2v12.1h-12.2zM1967.6 312.6h12.2v12.1h-12.2zM2101.8 312.6h12.2v12.1h-12.2zM2114 312.6h12.2v12.1h-12.2zM1565 324.8h12.2v12.1h-12.2zM1577.2 324.8h12.2v12.1h-12.2zM1748 324.8h12.2v12.1h-12.2zM2101.8 324.8h12.2v12.1h-12.2zM2114 324.8h12.2v12.1h-12.2zM1565 336.8h12.2v12.1h-12.2zM1577.2 336.8h12.2v12.1h-12.2zM2101.8 336.8h12.2v12.1h-12.2zM2114 336.8h12.2v12.1h-12.2zM1577.2 348.9h12.2v12.1h-12.2zM2101.8 348.9h12.2v12.1h-12.2zM2114 348.9h12.2v12.1h-12.2zM1577.2 361.1h12.2v12.1h-12.2zM2101.8 361.1h12.2v12.1h-12.2zM1577.2 373.1h12.2v12.1h-12.2zM2089.6 373.1h12.2v12.1h-12.2zM2101.8 373.1h12.2v12.1h-12.2zM1577.2 385.2h12.2v12.1h-12.2zM1589.4 385.2h12.2v12.1h-12.2zM2089.6 385.2h12.2v12.1h-12.2zM2101.8 385.2h12.2v12.1h-12.2zM1589.4 397.3h12.2v12.1h-12.2zM2089.6 397.3h12.2v12.1h-12.2zM2101.8 397.3h12.2v12.1h-12.2zM1589.4 409.4h12.2v12.1h-12.2zM2077.4 409.4h12.2v12.1h-12.2zM2089.6 409.4h12.2v12.1h-12.2zM1589.4 421.6h12.2v12.1h-12.2zM1601.6 421.6h12.2v12.1h-12.2zM2077.4 421.6h12.2v12.1h-12.2zM2089.6 421.6h12.2v12.1h-12.2zM1601.6 433.6h12.2v12.1h-12.2zM2065.2 433.6h12.2v12.1h-12.2zM2077.4 433.6h12.2v12.1h-12.2zM1601.6 445.8h12.2v12.1h-12.2zM1613.8 445.8h12.2v12.1h-12.2zM2053 445.8h12.2v12.1h-12.2zM2065.2 445.8h12.2v12.1h-12.2zM1613.8 457.8h12.2v12.1h-12.2zM1626 457.8h12.2v12.1h-12.2zM2040.8 457.8h12.2v12.1h-12.2zM2053 457.8h12.2v12.1h-12.2zM2065.2 457.8h12.2v12.1h-12.2zM1626 469.9h12.2v12.1h-12.2zM1638.2 469.9h12.2v12.1h-12.2zM2028.6 469.9h12.2v12.1h-12.2zM2040.8 469.9h12.2v12.1h-12.2zM2053 469.9h12.2v12.1h-12.2zM1638.2 482.1h12.2v12.1h-12.2zM1650.4 482.1h12.2v12.1h-12.2zM2016.4 482.1h12.2v12.1h-12.2zM2028.6 482.1h12.2v12.1h-12.2zM2040.8 482.1h12.2v12.1h-12.2zM1650.4 494.1h12.2v12.1h-12.2zM1662.6 494.1h12.2v12.1h-12.2zM2004.2 494.1h12.2v12.1h-12.2zM2016.4 494.1h12.2v12.1h-12.2zM2028.6 494.1h12.2v12.1h-12.2zM1662.6 506.2h12.2v12.1h-12.2zM1674.8 506.2h12.2v12.1h-12.2zM1687 506.2h12.2v12.1h-12.2zM1979.8 506.2h12.2v12.1h-12.2zM1992 506.2h12.2v12.1h-12.2zM2004.2 506.2h12.2v12.1h-12.2zM1687 518.4h12.2v12.1h-12.2zM1699.2 518.4h12.2v12.1h-12.2zM1711.4 518.4h12.2v12.1h-12.2zM1723.6 518.4h12.2v12.1h-12.2zM1955.4 518.4h12.2v12.1h-12.2zM1967.6 518.4h12.2v12.1h-12.2zM1979.8 518.4h12.2v12.1h-12.2zM1992 518.4h12.2v12.1h-12.2zM1711.4 530.5h12.2v12.1h-12.2zM1723.6 530.5h12.2v12.1h-12.2zM1735.8 530.5h12.2v12.1h-12.2zM1748 530.5h12.2v12.1h-12.2zM1760.2 530.5h12.2v12.1h-12.2zM1931 530.5h12.2v12.1h-12.2zM1943.2 530.5h12.2v12.1h-12.2zM1955.4 530.5h12.2v12.1h-12.2zM1967.6 530.5h12.2v12.1h-12.2zM1748 542.6h12.2v12.1h-12.2zM1760.2 542.6h12.2v12.1h-12.2zM1772.4 542.6h12.2v12.1h-12.2zM1784.6 542.6h12.2v12.1h-12.2zM1796.8 542.6h12.2v12.1h-12.2zM1809 542.6h12.2v12.1h-12.2zM1821.2 542.6h12.2v12.1h-12.2zM1833.4 542.6h12.2v12.1h-12.2zM1845.6 542.6h12.2v12.1h-12.2zM1857.8 542.6h12.2v12.1h-12.2zM1870 542.6h12.2v12.1h-12.2zM1882.2 542.6h12.2v12.1h-12.2zM1894.4 542.6h12.2v12.1h-12.2zM1906.6 542.6h12.2v12.1h-12.2zM1918.8 542.6h12.2v12.1h-12.2zM1931 542.6h12.2v12.1h-12.2zM1796.8 554.7h12.2v12.1h-12.2zM1809 554.7h12.2v12.1h-12.2zM1821.2 554.7h12.2v12.1h-12.2zM1833.4 554.7h12.2v12.1h-12.2zM1845.6 554.7h12.2v12.1h-12.2zM1857.8 554.7h12.2v12.1h-12.2zM1870 554.7h12.2v12.1h-12.2zM1882.2 554.7h12.2v12.1h-12.2zM1894.4 554.7h12.2v12.1h-12.2z" fill="#eaf0f9" shape-rendering="crispEdges"/>
<path d="M1772.4 94.9h12.2v12.1h-12.2zM1918.8 94.9h12.2v12.1h-12.2zM1955.4 107h12.2v12.1h-12.2zM1699.2 119h12.2v12.1h-12.2zM1979.8 119h12.2v12.1h-12.2zM1662.6 143.2h12.2v12.1h-12.2zM2028.6 155.3h12.2v12.1h-12.2zM2040.8 167.4h12.2v12.1h-12.2zM1626 179.5h12.2v12.1h-12.2zM1821.2 191.7h12.2v12.1h-12.2zM1870 191.7h12.2v12.1h-12.2zM1784.6 203.8h12.2v12.1h-12.2zM1906.6 203.8h12.2v12.1h-12.2zM2065.2 203.8h12.2v12.1h-12.2zM1601.6 215.8h12.2v12.1h-12.2zM1931 215.8h12.2v12.1h-12.2zM1943.2 227.9h12.2v12.1h-12.2zM1748 240.1h12.2v12.1h-12.2zM1955.4 240.1h12.2v12.1h-12.2zM1589.4 252.1h12.2v12.1h-12.2zM1882.2 252.1h12.2v12.1h-12.2zM2089.6 252.1h12.2v12.1h-12.2zM1735.8 288.4h12.2v12.1h-12.2zM1735.8 300.6h12.2v12.1h-12.2zM1955.4 300.6h12.2v12.1h-12.2zM1979.8 300.6h12.2v12.1h-12.2zM1735.8 312.6h12.2v12.1h-12.2zM1979.8 312.6h12.2v12.1h-12.2zM1748 336.8h12.2v12.1h-12.2zM2077.4 397.3h12.2v12.1h-12.2zM1601.6 409.4h12.2v12.1h-12.2zM2065.2 421.6h12.2v12.1h-12.2zM1613.8 433.6h12.2v12.1h-12.2zM1674.8 494.1h12.2v12.1h-12.2zM1699.2 506.2h12.2v12.1h-12.2zM1772.4 530.5h12.2v12.1h-12.2zM1918.8 530.5h12.2v12.1h-12.2z" fill="#e7f0f9" shape-rendering="crispEdges"/>
<path d="M1784.6 94.9h12.2v12.1h-12.2zM1796.8 94.9h12.2v12.1h-12.2zM1809 94.9h12.2v12.1h-12.2zM1821.2 94.9h12.2v12.1h-12.2zM1833.4 94.9h12.2v12.1h-12.2zM1845.6 94.9h12.2v12.1h-12.2zM1857.8 94.9h12.2v12.1h-12.2zM1870 94.9h12.2v12.1h-12.2zM1882.2 94.9h12.2v12.1h-12.2zM1894.4 94.9h12.2v12.1h-12.2zM1906.6 94.9h12.2v12.1h-12.2zM1735.8 107h12.2v12.1h-12.2zM1748 107h12.2v12.1h-12.2zM1760.2 107h12.2v12.1h-12.2zM1772.4 107h12.2v12.1h-12.2zM1906.6 107h12.2v12.1h-12.2zM1918.8 107h12.2v12.1h-12.2zM1931 107h12.2v12.1h-12.2zM1943.2 107h12.2v12.1h-12.2zM1711.4 119h12.2v12.1h-12.2zM1723.6 119h12.2v12.1h-12.2zM1735.8 119h12.2v12.1h-12.2zM1943.2 119h12.2v12.1h-12.2zM1955.4 119h12.2v12.1h-12.2zM1967.6 119h12.2v12.1h-12.2zM1687 131.2h12.2v12.1h-12.2zM1699.2 131.2h12.2v12.1h-12.2zM1711.4 131.2h12.2v12.1h-12.2zM1967.6 131.2h12.2v12.1h-12.2zM1979.8 131.2h12.2v12.1h-12.2zM1992 131.2h12.2v12.1h-12.2zM1674.8 143.2h12.2v12.1h-12.2zM1687 143.2h12.2v12.1h-12.2zM1992 143.2h12.2v12.1h-12.2zM2004.2 143.2h12.2v12.1h-12.2zM1650.4 155.3h12.2v12.1h-12.2zM1662.6 155.3h12.2v12.1h-12.2zM2004.2 155.3h12.2v12.1h-12.2zM2016.4 155.3h12.2v12.1h-12.2zM1638.2 167.4h12.2v12.1h-12.2zM1650.4 167.4h12.2v12.1h-12.2zM2028.6 167.4h12.2v12.1h-12.2zM1638.2 179.5h12.2v12.1h-12.2zM1809 179.5h12.2v12.1h-12.2zM1821.2 179.5h12.2v12.1h-12.2zM1833.4 179.5h12.2v12.1h-12.2zM1845.6 179.5h12.2v12.1h-12.2zM1857.8 179.5h12.2v12.1h-12.2zM1870 179.5h12.2v12.1h-12.2zM1882.2 179.5h12.2v12.1h-12.2zM2028.6 179.5h12.2v12.1h-12.2zM2040.8 179.5h12.2v12.1h-12.2zM1626 191.7h12.2v12.1h-12.2zM1784.6 191.7h12.2v12.1h-12.2zM1796.8 191.7h12.2v12.1h-12.2zM1809 191.7h12.2v12.1h-12.2zM1882.2 191.7h12.2v12.1h-12.2zM1894.4 191.7h12.2v12.1h-12.2zM1906.6 191.7h12.2v12.1h-12.2zM1918.8 191.7h12.2v12.1h-12.2zM2040.8 191.7h12.2v12.1h-12.2zM2053 191.7h12.2v12.1h-12.2zM1613.8 203.8h12.2v12.1h-12.2zM1760.2 203.8h12.2v12.1h-12.2zM1772.4 203.8h12.2v12.1h-12.2zM1918.8 203.8h12.2v12.1h-12.2zM1931 203.8h12.2v12.1h-12.2zM2053 203.8h12.2v12.1h-12.2zM1613.8 215.8h12.2v12.1h-12.2zM1748 215.8h12.2v12.1h-12.2zM1760.2 215.8h12.2v12.1h-12.2zM1943.2 215.8h12.2v12.1h-12.2zM2065.2 215.8h12.2v12.1h-12.2zM1601.6 227.9h12.2v12.1h-12.2zM1748 227.9h12.2v12.1h-12.2zM1955.4 227.9h12.2v12.1h-12.2zM2065.2 227.9h12.2v12.1h-12.2zM2077.4 227.9h12.2v12.1h-12.2zM1601.6 240.1h12.2v12.1h-12.2zM1735.8 240.1h12.2v12.1h-12.2zM1967.6 240.1h12.2v12.1h-12.2zM2077.4 240.1h12.2v12.1h-12.2zM1601.6 252.1h12.2v12.1h-12.2zM1735.8 252.1h12.2v12.1h-12.2zM1845.6 252.1h12.2v12.1h-12.2zM1857.8 252.1h12.2v12.1h-12.2zM1870 252.1h12.2v12.1h-12.2zM1967.6 252.1h12.2v12.1h-12.2zM1979.8 252.1h12.2v12.1h-12.2zM2077.4 252.1h12.2v12.1h-12.2zM1589.4 264.2h12.2v12.1h-12.2zM1735.8 264.2h12.2v12.1h-12.2zM1809 264.2h12.2v12.1h-12.2zM1906.6 264.2h12.2v12.1h-12.2zM1979.8 264.2h12.2v12.1h-12.2zM2077.4 264.2h12.2v12.1h-12.2zM2089.6 264.2h12.2v12.1h-12.2zM1589.4 276.3h12.2v12.1h-12.2zM1735.8 276.3h12.2v12.1h-12.2zM1931 276.3h12.2v12.1h-12.2zM1979.8 276.3h12.2v12.1h-12.2zM1992 276.3h12.2v12.1h-12.2zM2077.4 276.3h12.2v12.1h-12.2zM2089.6 276.3h12.2v12.1h-12.2zM1589.4 288.4h12.2v12.1h-12.2zM1943.2 288.4h12.2v12.1h-12.2zM1979.8 288.4h12.2v12.1h-12.2zM1992 288.4h12.2v12.1h-12.2zM2089.6 288.4h12.2v12.1h-12.2zM1589.4 300.6h12.2v12.1h-12.2zM1992 300.6h12.2v12.1h-12.2zM2089.6 300.6h12.2v12.1h-12.2zM1589.4 312.6h12.2v12.1h-12.2zM1760.2 312.6h12.2v12.1h-12.2zM1955.4 312.6h12.2v12.1h-12.2zM1992 312.6h12.2v12.1h-12.2zM2089.6 312.6h12.2v12.1h-12.2zM1589.4 324.8h12.2v12.1h-12.2zM1735.8 324.8h12.2v12.1h-12.2zM1967.6 324.8h12.2v12.1h-12.2zM1979.8 324.8h12.2v12.1h-12.2zM1992 324.8h12.2v12.1h-12.2zM2089.6 324.8h12.2v12.1h-12.2zM1589.4 336.8h12.2v12.1h-12.2zM1735.8 336.8h12.2v12.1h-12.2zM1967.6 336.8h12.2v12.1h-12.2zM1979.8 336.8h12.2v12.1h-12.2zM1992 336.8h12.2v12.1h-12.2zM2089.6 336.8h12.2v12.1h-12.2zM1589.4 348.9h12.2v12.1h-12.2zM1735.8 348.9h12.2v12.1h-12.2zM1748 348.9h12.2v12.1h-12.2zM1967.6 348.9h12.2v12.1h-12.2zM1979.8 348.9h12.2v12.1h-12.2zM2077.4 348.9h12.2v12.1h-12.2zM2089.6 348.9h12.2v12.1h-12.2zM1589.4 361.1h12.2v12.1h-12.2zM1735.8 361.1h12.2v12.1h-12.2zM1748 361.1h12.2v12.1h-12.2zM1967.6 361.1h12.2v12.1h-12.2zM1979.8 361.1h12.2v12.1h-12.2zM2077.4 361.1h12.2v12.1h-12.2zM2089.6 361.1h12.2v12.1h-12.2zM1589.4 373.1h12.2v12.1h-12.2zM1735.8 373.1h12.2v12.1h-12.2zM1748 373.1h12.2v12.1h-12.2zM2077.4 373.1h12.2v12.1h-12.2zM1601.6 385.2h12.2v12.1h-12.2zM1748 385.2h12.2v12.1h-12.2zM1760.2 385.2h12.2v12.1h-12.2zM2077.4 385.2h12.2v12.1h-12.2zM1601.6 397.3h12.2v12.1h-12.2zM1748 397.3h12.2v12.1h-12.2zM1760.2 397.3h12.2v12.1h-12.2zM2065.2 397.3h12.2v12.1h-12.2zM1613.8 409.4h12.2v12.1h-12.2zM1760.2 409.4h12.2v12.1h-12.2zM2065.2 409.4h12.2v12.1h-12.2zM1613.8 421.6h12.2v12.1h-12.2zM1772.4 421.6h12.2v12.1h-12.2zM2053 421.6h12.2v12.1h-12.2zM1626 433.6h12.2v12.1h-12.2zM2040.8 433.6h12.2v12.1h-12.2zM2053 433.6h12.2v12.1h-12.2zM1626 445.8h12.2v12.1h-12.2zM2028.6 445.8h12.2v12.1h-12.2zM2040.8 445.8h12.2v12.1h-12.2zM1638.2 457.8h12.2v12.1h-12.2zM2016.4 457.8h12.2v12.1h-12.2zM2028.6 457.8h12.2v12.1h-12.2zM1650.4 469.9h12.2v12.1h-12.2zM1662.6 469.9h12.2v12.1h-12.2zM2004.2 469.9h12.2v12.1h-12.2zM2016.4 469.9h12.2v12.1h-12.2zM1662.6 482.1h12.2v12.1h-12.2zM1674.8 482.1h12.2v12.1h-12.2zM1992 482.1h12.2v12.1h-12.2zM2004.2 482.1h12.2v12.1h-12.2zM1687 494.1h12.2v12.1h-12.2zM1699.2 494.1h12.2v12.1h-12.2zM1967.6 494.1h12.2v12.1h-12.2zM1979.8 494.1h12.2v12.1h-12.2zM1992 494.1h12.2v12.1h-12.2zM1711.4 506.2h12.2v12.1h-12.2zM1723.6 506.2h12.2v12.1h-12.2zM1735.8 506.2h12.2v12.1h-12.2zM1943.2 506.2h12.2v12.1h-12.2zM1955.4 506.2h12.2v12.1h-12.2zM1967.6 506.2h12.2v12.1h-12.2zM1735.8 518.4h12.2v12.1h-12.2zM1748 518.4h12.2v12.1h-12.2zM1760.2 518.4h12.2v12.1h-12.2zM1772.4 518.4h12.2v12.1h-12.2zM1784.6 518.4h12.2v12.1h-12.2zM1906.6 518.4h12.2v12.1h-12.2zM1918.8 518.4h12.2v12.1h-12.2zM1931 518.4h12.2v12.1h-12.2zM1943.2 518.4h12.2v12.1h-12.2zM1784.6 530.5h12.2v12.1h-12.2zM1796.8 530.5h12.2v12.1h-12.2zM1809 530.5h12.2v12.1h-12.2zM1821.2 530.5h12.2v12.1h-12.2zM1833.4 530.5h12.2v12.1h-12.2zM1845.6 530.5h12.2v12.1h-12.2zM1857.8 530.5h12.2v12.1h-12.2zM1870 530.5h12.2v12.1h-12.2zM1882.2 530.5h12.2v12.1h-12.2zM1894.4 530.5h12.2v12.1h-12.2zM1906.6 530.5h12.2v12.1h-12.2z" fill="#e7edf9" shape-rendering="crispEdges"/>
<path d="M1784.6 107h12.2v12.1h-12.2zM1796.8 107h12.2v12.1h-12.2zM1809 107h12.2v12.1h-12.2zM1882.2 107h12.2v12.1h-12.2zM1894.4 107h12.2v12.1h-12.2zM1748 119h12.2v12.1h-12.2zM1931 119h12.2v12.1h-12.2zM1723.6 131.2h12.2v12.1h-12.2zM1979.8 143.2h12.2v12.1h-12.2zM1674.8 155.3h12.2v12.1h-12.2zM2016.4 167.4h12.2v12.1h-12.2zM1796.8 179.5h12.2v12.1h-12.2zM1894.4 179.5h12.2v12.1h-12.2zM1772.4 191.7h12.2v12.1h-12.2zM1626 203.8h12.2v12.1h-12.2zM1943.2 203.8h12.2v12.1h-12.2zM2040.8 203.8h12.2v12.1h-12.2zM1955.4 215.8h12.2v12.1h-12.2zM2053 215.8h12.2v12.1h-12.2zM1613.8 227.9h12.2v12.1h-12.2zM1735.8 227.9h12.2v12.1h-12.2zM1967.6 227.9h12.2v12.1h-12.2zM1979.8 240.1h12.2v12.1h-12.2zM2065.2 240.1h12.2v12.1h-12.2zM2065.2 252.1h12.2v12.1h-12.2zM1601.6 264.2h12.2v12.1h-12.2zM1992 264.2h12.2v12.1h-12.2zM1723.6 276.3h12.2v12.1h-12.2zM1723.6 288.4h12.2v12.1h-12.2zM2077.4 288.4h12.2v12.1h-12.2zM1723.6 300.6h12.2v12.1h-12.2zM1772.4 300.6h12.2v12.1h-12.2zM2077.4 300.6h12.2v12.1h-12.2zM1723.6 312.6h12.2v12.1h-12.2zM2077.4 312.6h12.2v12.1h-12.2zM1723.6 324.8h12.2v12.1h-12.2zM1760.2 324.8h12.2v12.1h-12.2zM2077.4 324.8h12.2v12.1h-12.2zM1723.6 336.8h12.2v12.1h-12.2zM2077.4 336.8h12.2v12.1h-12.2zM1992 348.9h12.2v12.1h-12.2zM1992 361.1h12.2v12.1h-12.2zM1601.6 373.1h12.2v12.1h-12.2zM1967.6 373.1h12.2v12.1h-12.2zM1979.8 373.1h12.2v12.1h-12.2zM2065.2 373.1h12.2v12.1h-12.2zM1735.8 385.2h12.2v12.1h-12.2zM1967.6 385.2h12.2v12.1h-12.2zM2065.2 385.2h12.2v12.1h-12.2zM1748 409.4h12.2v12.1h-12.2zM1772.4 409.4h12.2v12.1h-12.2zM2053 409.4h12.2v12.1h-12.2zM1760.2 421.6h12.2v12.1h-12.2zM1784.6 421.6h12.2v12.1h-12.2zM2040.8 421.6h12.2v12.1h-12.2zM1784.6 433.6h12.2v12.1h-12.2zM1638.2 445.8h12.2v12.1h-12.2zM1650.4 457.8h12.2v12.1h-12.2zM1687 482.1h12.2v12.1h-12.2zM1979.8 482.1h12.2v12.1h-12.2zM1711.4 494.1h12.2v12.1h-12.2zM1955.4 494.1h12.2v12.1h-12.2zM1748 506.2h12.2v12.1h-12.2zM1931 506.2h12.2v12.1h-12.2zM1796.8 518.4h12.2v12.1h-12.2zM1809 518.4h12.2v12.1h-12.2zM1821.2 518.4h12.2v12.1h-12.2zM1870 518.4h12.2v12.1h-12.2zM1882.2 518.4h12.2v12.1h-12.2zM1894.4 518.4h12.2v12.1h-12.2z" fill="#e4edf9" shape-rendering="crispEdges"/>
<path d="M1821.2 107h12.2v12.1h-12.2zM1833.4 107h12.2v12.1h-12.2zM1845.6 107h12.2v12.1h-12.2zM1857.8 107h12.2v12.1h-12.2zM1870 107h12.2v12.1h-12.2zM1760.2 119h12.2v12.1h-12.2zM1772.4 119h12.2v12.1h-12.2zM1906.6 119h12.2v12.1h-12.2zM1918.8 119h12.2v12.1h-12.2zM1735.8 131.2h12.2v12.1h-12.2zM1943.2 131.2h12.2v12.1h-12.2zM1955.4 131.2h12.2v12.1h-12.2zM1699.2 143.2h12.2v12.1h-12.2zM1967.6 143.2h12.2v12.1h-12.2zM1992 155.3h12.2v12.1h-12.2zM1662.6 167.4h12.2v12.1h-12.2zM1809 167.4h12.2v12.1h-12.2zM1821.2 167.4h12.2v12.1h-12.2zM1833.4 167.4h12.2v12.1h-12.2zM1845.6 167.4h12.2v12.1h-12.2zM1857.8 167.4h12.2v12.1h-12.2zM1870 167.4h12.2v12.1h-12.2zM1882.2 167.4h12.2v12.1h-12.2zM2004.2 167.4h12.2v12.1h-12.2zM1650.4 179.5h12.2v12.1h-12.2zM1772.4 179.5h12.2v12.1h-12.2zM1784.6 179.5h12.2v12.1h-12.2zM1906.6 179.5h12.2v12.1h-12.2zM1918.8 179.5h12.2v12.1h-12.2zM2016.4 179.5h12.2v12.1h-12.2zM1638.2 191.7h12.2v12.1h-12.2zM1760.2 191.7h12.2v12.1h-12.2zM1931 191.7h12.2v12.1h-12.2zM1943.2 191.7h12.2v12.1h-12.2zM2028.6 191.7h12.2v12.1h-12.2zM1748 203.8h12.2v12.1h-12.2zM1955.4 203.8h12.2v12.1h-12.2zM1967.6 215.8h12.2v12.1h-12.2zM2040.8 215.8h12.2v12.1h-12.2zM1979.8 227.9h12.2v12.1h-12.2zM2053 227.9h12.2v12.1h-12.2zM1613.8 240.1h12.2v12.1h-12.2zM2053 240.1h12.2v12.1h-12.2zM1723.6 252.1h12.2v12.1h-12.2zM1992 252.1h12.2v12.1h-12.2zM1723.6 264.2h12.2v12.1h-12.2zM2065.2 264.2h12.2v12.1h-12.2zM1601.6 276.3h12.2v12.1h-12.2zM1796.8 276.3h12.2v12.1h-12.2zM2004.2 276.3h12.2v12.1h-12.2zM2065.2 276.3h12.2v12.1h-12.2zM1601.6 288.4h12.2v12.1h-12.2zM2004.2 288.4h12.2v12.1h-12.2zM2004.2 300.6h12.2v12.1h-12.2zM2004.2 312.6h12.2v12.1h-12.2zM2004.2 324.8h12.2v12.1h-12.2zM2004.2 336.8h12.2v12.1h-12.2zM1601.6 348.9h12.2v12.1h-12.2zM1723.6 348.9h12.2v12.1h-12.2zM2004.2 348.9h12.2v12.1h-12.2zM2065.2 348.9h12.2v12.1h-12.2zM1601.6 361.1h12.2v12.1h-12.2zM1723.6 361.1h12.2v12.1h-12.2zM2065.2 361.1h12.2v12.1h-12.2zM1760.2 373.1h12.2v12.1h-12.2zM1992 373.1h12.2v12.1h-12.2zM1979.8 385.2h12.2v12.1h-12.2zM2053 385.2h12.2v12.1h-12.2zM1613.8 397.3h12.2v12.1h-12.2zM1735.8 397.3h12.2v12.1h-12.2zM1955.4 397.3h12.2v12.1h-12.2zM1967.6 397.3h12.2v12.1h-12.2zM1979.8 397.3h12.2v12.1h-12.2zM2053 397.3h12.2v12.1h-12.2zM1955.4 409.4h12.2v12.1h-12.2zM1967.6 409.4h12.2v12.1h-12.2zM2040.8 409.4h12.2v12.1h-12.2zM1626 421.6h12.2v12.1h-12.2zM1772.4 433.6h12.2v12.1h-12.2zM1796.8 433.6h12.2v12.1h-12.2zM2028.6 433.6h12.2v12.1h-12.2zM1784.6 445.8h12.2v12.1h-12.2zM1796.8 445.8h12.2v12.1h-12.2zM1809 445.8h12.2v12.1h-12.2zM2016.4 445.8h12.2v12.1h-12.2zM2004.2 457.8h12.2v12.1h-12.2zM1674.8 469.9h12.2v12.1h-12.2zM1992 469.9h12.2v12.1h-12.2zM1699.2 482.1h12.2v12.1h-12.2zM1967.6 482.1h12.2v12.1h-12.2zM1723.6 494.1h12.2v12.1h-12.2zM1735.8 494.1h12.2v12.1h-12.2zM1943.2 494.1h12.2v12.1h-12.2zM1760.2 506.2h12.2v12.1h-12.2zM1772.4 506.2h12.2v12.1h-12.2zM1784.6 506.2h12.2v12.1h-12.2zM1906.6 506.2h12.2v12.1h-12.2zM1918.8 506.2h12.2v12.1h-12.2zM1833.4 518.4h12.2v12.1h-12.2zM1845.6 518.4h12.2v12.1h-12.2zM1857.8 518.4h12.2v12.1h-12.2z" fill="#e4edf6" shape-rendering="crispEdges"/>
<path d="M1784.6 119h12.2v12.1h-12.2zM1796.8 119h12.2v12.1h-12.2zM1809 119h12.2v12.1h-12.2zM1821.2 119h12.2v12.1h-12.2zM1833.4 119h12.2v12.1h-12.2zM1845.6 119h12.2v12.1h-12.2zM1857.8 119h12.2v12.1h-12.2zM1870 119h12.2v12.1h-12.2zM1882.2 119h12.2v12.1h-12.2zM1894.4 119h12.2v12.1h-12.2zM1748 131.2h12.2v12.1h-12.2zM1760.2 131.2h12.2v12.1h-12.2zM1918.8 131.2h12.2v12.1h-12.2zM1931 131.2h12.2v12.1h-12.2zM1711.4 143.2h12.2v12.1h-12.2zM1723.6 143.2h12.2v12.1h-12.2zM1955.4 143.2h12.2v12.1h-12.2zM1687 155.3h12.2v12.1h-12.2zM1833.4 155.3h12.2v12.1h-12.2zM1845.6 155.3h12.2v12.1h-12.2zM1857.8 155.3h12.2v12.1h-12.2zM1979.8 155.3h12.2v12.1h-12.2zM1674.8 167.4h12.2v12.1h-12.2zM1784.6 167.4h12.2v12.1h-12.2zM1796.8 167.4h12.2v12.1h-12.2zM1894.4 167.4h12.2v12.1h-12.2zM1906.6 167.4h12.2v12.1h-12.2zM1992 167.4h12.2v12.1h-12.2zM1760.2 179.5h12.2v12.1h-12.2zM1931 179.5h12.2v12.1h-12.2zM2004.2 179.5h12.2v12.1h-12.2zM1748 191.7h12.2v12.1h-12.2zM1955.4 191.7h12.2v12.1h-12.2zM2016.4 191.7h12.2v12.1h-12.2zM1638.2 203.8h12.2v12.1h-12.2zM1967.6 203.8h12.2v12.1h-12.2zM2028.6 203.8h12.2v12.1h-12.2zM1626 215.8h12.2v12.1h-12.2zM1735.8 215.8h12.2v12.1h-12.2zM1979.8 215.8h12.2v12.1h-12.2zM1992 227.9h12.2v12.1h-12.2zM2040.8 227.9h12.2v12.1h-12.2zM1723.6 240.1h12.2v12.1h-12.2zM1992 240.1h12.2v12.1h-12.2zM1613.8 252.1h12.2v12.1h-12.2zM2004.2 252.1h12.2v12.1h-12.2zM2053 252.1h12.2v12.1h-12.2zM2004.2 264.2h12.2v12.1h-12.2zM2053 264.2h12.2v12.1h-12.2zM1784.6 288.4h12.2v12.1h-12.2zM2016.4 288.4h12.2v12.1h-12.2zM2065.2 288.4h12.2v12.1h-12.2zM1601.6 300.6h12.2v12.1h-12.2zM2016.4 300.6h12.2v12.1h-12.2zM2065.2 300.6h12.2v12.1h-12.2zM1601.6 312.6h12.2v12.1h-12.2zM2016.4 312.6h12.2v12.1h-12.2zM2065.2 312.6h12.2v12.1h-12.2zM1601.6 324.8h12.2v12.1h-12.2zM2016.4 324.8h12.2v12.1h-12.2zM2065.2 324.8h12.2v12.1h-12.2zM1601.6 336.8h12.2v12.1h-12.2zM1760.2 336.8h12.2v12.1h-12.2zM2016.4 336.8h12.2v12.1h-12.2zM2065.2 336.8h12.2v12.1h-12.2zM1760.2 361.1h12.2v12.1h-12.2zM2004.2 361.1h12.2v12.1h-12.2zM2053 361.1h12.2v12.1h-12.2zM1723.6 373.1h12.2v12.1h-12.2zM2004.2 373.1h12.2v12.1h-12.2zM2053 373.1h12.2v12.1h-12.2zM1613.8 385.2h12.2v12.1h-12.2zM1955.4 385.2h12.2v12.1h-12.2zM1992 385.2h12.2v12.1h-12.2zM1772.4 397.3h12.2v12.1h-12.2zM2040.8 397.3h12.2v12.1h-12.2zM1626 409.4h12.2v12.1h-12.2zM1735.8 409.4h12.2v12.1h-12.2zM1943.2 409.4h12.2v12.1h-12.2zM1979.8 409.4h12.2v12.1h-12.2zM2028.6 409.4h12.2v12.1h-12.2zM1748 421.6h12.2v12.1h-12.2zM1943.2 421.6h12.2v12.1h-12.2zM1955.4 421.6h12.2v12.1h-12.2zM1967.6 421.6h12.2v12.1h-12.2zM2028.6 421.6h12.2v12.1h-12.2zM1638.2 433.6h12.2v12.1h-12.2zM1760.2 433.6h12.2v12.1h-12.2zM1931 433.6h12.2v12.1h-12.2zM1943.2 433.6h12.2v12.1h-12.2zM2016.4 433.6h12.2v12.1h-12.2zM1650.4 445.8h12.2v12.1h-12.2zM1772.4 445.8h12.2v12.1h-12.2zM1821.2 445.8h12.2v12.1h-12.2zM1918.8 445.8h12.2v12.1h-12.2zM2004.2 445.8h12.2v12.1h-12.2zM1662.6 457.8h12.2v12.1h-12.2zM1796.8 457.8h12.2v12.1h-12.2zM1809 457.8h12.2v12.1h-12.2zM1821.2 457.8h12.2v12.1h-12.2zM1833.4 457.8h12.2v12.1h-12.2zM1845.6 457.8h12.2v12.1h-12.2zM1857.8 457.8h12.2v12.1h-12.2zM1992 457.8h12.2v12.1h-12.2zM1687 469.9h12.2v12.1h-12.2zM1967.6 469.9h12.2v12.1h-12.2zM1979.8 469.9h12.2v12.1h-12.2zM1711.4 482.1h12.2v12.1h-12.2zM1943.2 482.1h12.2v12.1h-12.2zM1955.4 482.1h12.2v12.1h-12.2zM1748 494.1h12.2v12.1h-12.2zM1760.2 494.1h12.2v12.1h-12.2zM1918.8 494.1h12.2v12.1h-12.2zM1931 494.1h12.2v12.1h-12.2zM1796.8 506.2h12.2v12.1h-12.2zM1809 506.2h12.2v12.1h-12.2zM1821.2 506.2h12.2v12.1h-12.2zM1833.4 506.2h12.2v12.1h-12.2zM1845.6 506.2h12.2v12.1h-12.2zM1857.8 506.2h12.2v12.1h-12.2zM1870 506.2h12.2v12.1h-12.2zM1882.2 506.2h12.2v12.1h-12.2zM1894.4 506.2h12.2v12.1h-12.2z" fill="#e4eaf6" shape-rendering="crispEdges"/>
<path d="M1772.4 131.2h12.2v12.1h-12.2zM1784.6 131.2h12.2v12.1h-12.2zM1796.8 131.2h12.2v12.1h-12.2zM1809 131.2h12.2v12.1h-12.2zM1821.2 131.2h12.2v12.1h-12.2zM1833.4 131.2h12.2v12.1h-12.2zM1845.6 131.2h12.2v12.1h-12.2zM1857.8 131.2h12.2v12.1h-12.2zM1870 131.2h12.2v12.1h-12.2zM1882.2 131.2h12.2v12.1h-12.2zM1894.4 131.2h12.2v12.1h-12.2zM1906.6 131.2h12.2v12.1h-12.2zM1735.8 143.2h12.2v12.1h-12.2zM1748 143.2h12.2v12.1h-12.2zM1760.2 143.2h12.2v12.1h-12.2zM1772.4 143.2h12.2v12.1h-12.2zM1784.6 143.2h12.2v12.1h-12.2zM1796.8 143.2h12.2v12.1h-12.2zM1809 143.2h12.2v12.1h-12.2zM1821.2 143.2h12.2v12.1h-12.2zM1833.4 143.2h12.2v12.1h-12.2zM1845.6 143.2h12.2v12.1h-12.2zM1857.8 143.2h12.2v12.1h-12.2zM1870 143.2h12.2v12.1h-12.2zM1882.2 143.2h12.2v12.1h-12.2zM1894.4 143.2h12.2v12.1h-12.2zM1906.6 143.2h12.2v12.1h-12.2zM1918.8 143.2h12.2v12.1h-12.2zM1931 143.2h12.2v12.1h-12.2zM1943.2 143.2h12.2v12.1h-12.2zM1699.2 155.3h12.2v12.1h-12.2zM1711.4 155.3h12.2v12.1h-12.2zM1723.6 155.3h12.2v12.1h-12.2zM1735.8 155.3h12.2v12.1h-12.2zM1748 155.3h12.2v12.1h-12.2zM1760.2 155.3h12.2v12.1h-12.2zM1772.4 155.3h12.2v12.1h-12.2zM1784.6 155.3h12.2v12.1h-12.2zM1796.8 155.3h12.2v12.1h-12.2zM1809 155.3h12.2v12.1h-12.2zM1821.2 155.3h12.2v12.1h-12.2zM1870 155.3h12.2v12.1h-12.2zM1882.2 155.3h12.2v12.1h-12.2zM1894.4 155.3h12.2v12.1h-12.2zM1906.6 155.3h12.2v12.1h-12.2zM1918.8 155.3h12.2v12.1h-12.2zM1931 155.3h12.2v12.1h-12.2zM1943.2 155.3h12.2v12.1h-12.2zM1955.4 155.3h12.2v12.1h-12.2zM1967.6 155.3h12.2v12.1h-12.2zM1687 167.4h12.2v12.1h-12.2zM1748 167.4h12.2v12.1h-12.2zM1760.2 167.4h12.2v12.1h-12.2zM1772.4 167.4h12.2v12.1h-12.2zM1918.8 167.4h12.2v12.1h-12.2zM1931 167.4h12.2v12.1h-12.2zM1943.2 167.4h12.2v12.1h-12.2zM1955.4 167.4h12.2v12.1h-12.2zM1967.6 167.4h12.2v12.1h-12.2zM1979.8 167.4h12.2v12.1h-12.2zM1662.6 179.5h12.2v12.1h-12.2zM1748 179.5h12.2v12.1h-12.2zM1943.2 179.5h12.2v12.1h-12.2zM1955.4 179.5h12.2v12.1h-12.2zM1967.6 179.5h12.2v12.1h-12.2zM1979.8 179.5h12.2v12.1h-12.2zM1992 179.5h12.2v12.1h-12.2zM1650.4 191.7h12.2v12.1h-12.2zM1735.8 191.7h12.2v12.1h-12.2zM1967.6 191.7h12.2v12.1h-12.2zM1979.8 191.7h12.2v12.1h-12.2zM1992 191.7h12.2v12.1h-12.2zM2004.2 191.7h12.2v12.1h-12.2zM1735.8 203.8h12.2v12.1h-12.2zM1979.8 203.8h12.2v12.1h-12.2zM1992 203.8h12.2v12.1h-12.2zM2004.2 203.8h12.2v12.1h-12.2zM2016.4 203.8h12.2v12.1h-12.2zM1638.2 215.8h12.2v12.1h-12.2zM1723.6 215.8h12.2v12.1h-12.2zM1992 215.8h12.2v12.1h-12.2zM2004.2 215.8h12.2v12.1h-12.2zM2016.4 215.8h12.2v12.1h-12.2zM2028.6 215.8h12.2v12.1h-12.2zM1626 227.9h12.2v12.1h-12.2zM1723.6 227.9h12.2v12.1h-12.2zM2004.2 227.9h12.2v12.1h-12.2zM2016.4 227.9h12.2v12.1h-12.2zM2028.6 227.9h12.2v12.1h-12.2zM2004.2 240.1h12.2v12.1h-12.2zM2016.4 240.1h12.2v12.1h-12.2zM2028.6 240.1h12.2v12.1h-12.2zM2040.8 240.1h12.2v12.1h-12.2zM1711.4 252.1h12.2v12.1h-12.2zM2016.4 252.1h12.2v12.1h-12.2zM2028.6 252.1h12.2v12.1h-12.2zM2040.8 252.1h12.2v12.1h-12.2zM1613.8 264.2h12.2v12.1h-12.2zM1711.4 264.2h12.2v12.1h-12.2zM1821.2 264.2h12.2v12.1h-12.2zM2016.4 264.2h12.2v12.1h-12.2zM2028.6 264.2h12.2v12.1h-12.2zM2040.8 264.2h12.2v12.1h-12.2zM1613.8 276.3h12.2v12.1h-12.2zM1711.4 276.3h12.2v12.1h-12.2zM1918.8 276.3h12.2v12.1h-12.2zM2016.4 276.3h12.2v12.1h-12.2zM2028.6 276.3h12.2v12.1h-12.2zM2040.8 276.3h12.2v12.1h-12.2zM2053 276.3h12.2v12.1h-12.2zM1711.4 288.4h12.2v12.1h-12.2zM2028.6 288.4h12.2v12.1h-12.2zM2040.8 288.4h12.2v12.1h-12.2zM2053 288.4h12.2v12.1h-12.2zM1711.4 300.6h12.2v12.1h-12.2zM1943.2 300.6h12.2v12.1h-12.2zM2028.6 300.6h12.2v12.1h-12.2zM2040.8 300.6h12.2v12.1h-12.2zM2053 300.6h12.2v12.1h-12.2zM1711.4 312.6h12.2v12.1h-12.2zM2028.6 312.6h12.2v12.1h-12.2zM2040.8 312.6h12.2v12.1h-12.2zM2053 312.6h12.2v12.1h-12.2zM1711.4 324.8h12.2v12.1h-12.2zM1955.4 324.8h12.2v12.1h-12.2zM2028.6 324.8h12.2v12.1h-12.2zM2040.8 324.8h12.2v12.1h-12.2zM2053 324.8h12.2v12.1h-12.2zM1711.4 336.8h12.2v12.1h-12.2zM2028.6 336.8h12.2v12.1h-12.2zM2040.8 336.8h12.2v12.1h-12.2zM2053 336.8h12.2v12.1h-12.2zM1711.4 348.9h12.2v12.1h-12.2zM1760.2 348.9h12.2v12.1h-12.2zM2016.4 348.9h12.2v12.1h-12.2zM2028.6 348.9h12.2v12.1h-12.2zM2040.8 348.9h12.2v12.1h-12.2zM2053 348.9h12.2v12.1h-12.2zM1613.8 361.1h12.2v12.1h-12.2zM2016.4 361.1h12.2v12.1h-12.2zM2028.6 361.1h12.2v12.1h-12.2zM2040.8 361.1h12.2v12.1h-12.2zM1613.8 373.1h12.2v12.1h-12.2zM1955.4 373.1h12.2v12.1h-12.2zM2016.4 373.1h12.2v12.1h-12.2zM2028.6 373.1h12.2v12.1h-12.2zM2040.8 373.1h12.2v12.1h-12.2zM1723.6 385.2h12.2v12.1h-12.2zM2004.2 385.2h12.2v12.1h-12.2zM2016.4 385.2h12.2v12.1h-12.2zM2028.6 385.2h12.2v12.1h-12.2zM2040.8 385.2h12.2v12.1h-12.2zM1626 397.3h12.2v12.1h-12.2zM1723.6 397.3h12.2v12.1h-12.2zM1992 397.3h12.2v12.1h-12.2zM2004.2 397.3h12.2v12.1h-12.2zM2016.4 397.3h12.2v12.1h-12.2zM2028.6 397.3h12.2v12.1h-12.2zM1784.6 409.4h12.2v12.1h-12.2zM1992 409.4h12.2v12.1h-12.2zM2004.2 409.4h12.2v12.1h-12.2zM2016.4 409.4h12.2v12.1h-12.2zM1638.2 421.6h12.2v12.1h-12.2zM1735.8 421.6h12.2v12.1h-12.2zM1796.8 421.6h12.2v12.1h-12.2zM1931 421.6h12.2v12.1h-12.2zM1979.8 421.6h12.2v12.1h-12.2zM1992 421.6h12.2v12.1h-12.2zM2004.2 421.6h12.2v12.1h-12.2zM2016.4 421.6h12.2v12.1h-12.2zM1650.4 433.6h12.2v12.1h-12.2zM1748 433.6h12.2v12.1h-12.2zM1809 433.6h12.2v12.1h-12.2zM1918.8 433.6h12.2v12.1h-12.2zM1955.4 433.6h12.2v12.1h-12.2zM1967.6 433.6h12.2v12.1h-12.2zM1979.8 433.6h12.2v12.1h-12.2zM1992 433.6h12.2v12.1h-12.2zM2004.2 433.6h12.2v12.1h-12.2zM1662.6 445.8h12.2v12.1h-12.2zM1748 445.8h12.2v12.1h-12.2zM1760.2 445.8h12.2v12.1h-12.2zM1833.4 445.8h12.2v12.1h-12.2zM1845.6 445.8h12.2v12.1h-12.2zM1882.2 445.8h12.2v12.1h-12.2zM1894.4 445.8h12.2v12.1h-12.2zM1906.6 445.8h12.2v12.1h-12.2zM1931 445.8h12.2v12.1h-12.2zM1943.2 445.8h12.2v12.1h-12.2zM1955.4 445.8h12.2v12.1h-12.2zM1967.6 445.8h12.2v12.1h-12.2zM1979.8 445.8h12.2v12.1h-12.2zM1992 445.8h12.2v12.1h-12.2zM1674.8 457.8h12.2v12.1h-12.2zM1760.2 457.8h12.2v12.1h-12.2zM1772.4 457.8h12.2v12.1h-12.2zM1784.6 457.8h12.2v12.1h-12.2zM1870 457.8h12.2v12.1h-12.2zM1882.2 457.8h12.2v12.1h-12.2zM1894.4 457.8h12.2v12.1h-12.2zM1906.6 457.8h12.2v12.1h-12.2zM1918.8 457.8h12.2v12.1h-12.2zM1931 457.8h12.2v12.1h-12.2zM1943.2 457.8h12.2v12.1h-12.2zM1955.4 457.8h12.2v12.1h-12.2zM1967.6 457.8h12.2v12.1h-12.2zM1979.8 457.8h12.2v12.1h-12.2zM1699.2 469.9h12.2v12.1h-12.2zM1711.4 469.9h12.2v12.1h-12.2zM1760.2 469.9h12.2v12.1h-12.2zM1772.4 469.9h12.2v12.1h-12.2zM1784.6 469.9h12.2v12.1h-12.2zM1796.8 469.9h12.2v12.1h-12.2zM1809 469.9h12.2v12.1h-12.2zM1821.2 469.9h12.2v12.1h-12.2zM1833.4 469.9h12.2v12.1h-12.2zM1845.6 469.9h12.2v12.1h-12.2zM1857.8 469.9h12.2v12.1h-12.2zM1870 469.9h12.2v12.1h-12.2zM1882.2 469.9h12.2v12.1h-12.2zM1894.4 469.9h12.2v12.1h-12.2zM1906.6 469.9h12.2v12.1h-12.2zM1918.8 469.9h12.2v12.1h-12.2zM1931 469.9h12.2v12.1h-12.2zM1943.2 469.9h12.2v12.1h-12.2zM1955.4 469.9h12.2v12.1h-12.2zM1723.6 482.1h12.2v12.1h-12.2zM1735.8 482.1h12.2v12.1h-12.2zM1748 482.1h12.2v12.1h-12.2zM1760.2 482.1h12.2v12.1h-12.2zM1772.4 482.1h12.2v12.1h-12.2zM1784.6 482.1h12.2v12.1h-12.2zM1796.8 482.1h12.2v12.1h-12.2zM1809 482.1h12.2v12.1h-12.2zM1821.2 482.1h12.2v12.1h-12.2zM1833.4 482.1h12.2v12.1h-12.2zM1845.6 482.1h12.2v12.1h-12.2zM1857.8 482.1h12.2v12.1h-12.2zM1870 482.1h12.2v12.1h-12.2zM1882.2 482.1h12.2v12.1h-12.2zM1894.4 482.1h12.2v12.1h-12.2zM1906.6 482.1h12.2v12.1h-12.2zM1918.8 482.1h12.2v12.1h-12.2zM1931 482.1h12.2v12.1h-12.2zM1772.4 494.1h12.2v12.1h-12.2zM1784.6 494.1h12.2v12.1h-12.2zM1796.8 494.1h12.2v12.1h-12.2zM1809 494.1h12.2v12.1h-12.2zM1821.2 494.1h12.2v12.1h-12.2zM1833.4 494.1h12.2v12.1h-12.2zM1845.6 494.1h12.2v12.1h-12.2zM1857.8 494.1h12.2v12.1h-12.2zM1870 494.1h12.2v12.1h-12.2zM1882.2 494.1h12.2v12.1h-12.2zM1894.4 494.1h12.2v12.1h-12.2zM1906.6 494.1h12.2v12.1h-12.2z" fill="#e1eaf6" shape-rendering="crispEdges"/>
<path d="M1699.2 167.4h12.2v12.1h-12.2zM1735.8 167.4h12.2v12.1h-12.2zM1674.8 179.5h12.2v12.1h-12.2zM1735.8 179.5h12.2v12.1h-12.2zM1662.6 191.7h12.2v12.1h-12.2zM1650.4 203.8h12.2v12.1h-12.2zM1723.6 203.8h12.2v12.1h-12.2zM1626 240.1h12.2v12.1h-12.2zM1711.4 240.1h12.2v12.1h-12.2zM1894.4 264.2h12.2v12.1h-12.2zM1613.8 348.9h12.2v12.1h-12.2zM1711.4 361.1h12.2v12.1h-12.2zM1735.8 433.6h12.2v12.1h-12.2zM1857.8 445.8h12.2v12.1h-12.2zM1870 445.8h12.2v12.1h-12.2zM1687 457.8h12.2v12.1h-12.2zM1748 457.8h12.2v12.1h-12.2zM1723.6 469.9h12.2v12.1h-12.2zM1735.8 469.9h12.2v12.1h-12.2zM1748 469.9h12.2v12.1h-12.2z" fill="#deeaf6" shape-rendering="crispEdges"/>
<path d="M1711.4 167.4h12.2v12.1h-12.2zM1723.6 167.4h12.2v12.1h-12.2zM1687 179.5h12.2v12.1h-12.2zM1699.2 179.5h12.2v12.1h-12.2zM1711.4 179.5h12.2v12.1h-12.2zM1723.6 179.5h12.2v12.1h-12.2zM1723.6 191.7h12.2v12.1h-12.2zM1711.4 215.8h12.2v12.1h-12.2zM1638.2 227.9h12.2v12.1h-12.2zM1711.4 227.9h12.2v12.1h-12.2zM1626 252.1h12.2v12.1h-12.2zM1613.8 288.4h12.2v12.1h-12.2zM1931 288.4h12.2v12.1h-12.2zM1613.8 300.6h12.2v12.1h-12.2zM1613.8 312.6h12.2v12.1h-12.2zM1613.8 324.8h12.2v12.1h-12.2zM1613.8 336.8h12.2v12.1h-12.2zM1955.4 336.8h12.2v12.1h-12.2zM1711.4 373.1h12.2v12.1h-12.2zM1626 385.2h12.2v12.1h-12.2zM1943.2 397.3h12.2v12.1h-12.2zM1638.2 409.4h12.2v12.1h-12.2zM1723.6 409.4h12.2v12.1h-12.2zM1723.6 421.6h12.2v12.1h-12.2zM1821.2 433.6h12.2v12.1h-12.2zM1906.6 433.6h12.2v12.1h-12.2zM1674.8 445.8h12.2v12.1h-12.2zM1735.8 445.8h12.2v12.1h-12.2zM1699.2 457.8h12.2v12.1h-12.2zM1711.4 457.8h12.2v12.1h-12.2zM1723.6 457.8h12.2v12.1h-12.2zM1735.8 457.8h12.2v12.1h-12.2z" fill="#dee7f6" shape-rendering="crispEdges"/>
<path d="M1674.8 191.7h12.2v12.1h-12.2zM1687 191.7h12.2v12.1h-12.2zM1699.2 191.7h12.2v12.1h-12.2zM1711.4 191.7h12.2v12.1h-12.2zM1662.6 203.8h12.2v12.1h-12.2zM1674.8 203.8h12.2v12.1h-12.2zM1699.2 203.8h12.2v12.1h-12.2zM1711.4 203.8h12.2v12.1h-12.2zM1650.4 215.8h12.2v12.1h-12.2zM1699.2 215.8h12.2v12.1h-12.2zM1699.2 227.9h12.2v12.1h-12.2zM1638.2 240.1h12.2v12.1h-12.2zM1699.2 240.1h12.2v12.1h-12.2zM1699.2 252.1h12.2v12.1h-12.2zM1626 264.2h12.2v12.1h-12.2zM1699.2 264.2h12.2v12.1h-12.2zM1626 276.3h12.2v12.1h-12.2zM1699.2 276.3h12.2v12.1h-12.2zM1699.2 288.4h12.2v12.1h-12.2zM1699.2 300.6h12.2v12.1h-12.2zM1699.2 312.6h12.2v12.1h-12.2zM1699.2 324.8h12.2v12.1h-12.2zM1699.2 336.8h12.2v12.1h-12.2zM1955.4 348.9h12.2v12.1h-12.2zM1626 361.1h12.2v12.1h-12.2zM1955.4 361.1h12.2v12.1h-12.2zM1626 373.1h12.2v12.1h-12.2zM1711.4 385.2h12.2v12.1h-12.2zM1772.4 385.2h12.2v12.1h-12.2zM1638.2 397.3h12.2v12.1h-12.2zM1711.4 397.3h12.2v12.1h-12.2zM1711.4 409.4h12.2v12.1h-12.2zM1931 409.4h12.2v12.1h-12.2zM1650.4 421.6h12.2v12.1h-12.2zM1711.4 421.6h12.2v12.1h-12.2zM1918.8 421.6h12.2v12.1h-12.2zM1662.6 433.6h12.2v12.1h-12.2zM1674.8 433.6h12.2v12.1h-12.2zM1711.4 433.6h12.2v12.1h-12.2zM1723.6 433.6h12.2v12.1h-12.2zM1687 445.8h12.2v12.1h-12.2zM1699.2 445.8h12.2v12.1h-12.2zM1711.4 445.8h12.2v12.1h-12.2zM1723.6 445.8h12.2v12.1h-12.2z" fill="#dbe7f6" shape-rendering="crispEdges"/>
<path d="M1687 203.8h12.2v12.1h-12.2zM1662.6 215.8h12.2v12.1h-12.2zM1687 215.8h12.2v12.1h-12.2zM1650.4 227.9h12.2v12.1h-12.2zM1638.2 252.1h12.2v12.1h-12.2zM1833.4 264.2h12.2v12.1h-12.2zM1626 288.4h12.2v12.1h-12.2zM1626 300.6h12.2v12.1h-12.2zM1626 336.8h12.2v12.1h-12.2zM1626 348.9h12.2v12.1h-12.2zM1699.2 361.1h12.2v12.1h-12.2zM1699.2 373.1h12.2v12.1h-12.2zM1638.2 385.2h12.2v12.1h-12.2zM1662.6 421.6h12.2v12.1h-12.2zM1687 433.6h12.2v12.1h-12.2zM1699.2 433.6h12.2v12.1h-12.2z" fill="#d8e4f6" shape-rendering="crispEdges"/>
<path d="M1674.8 215.8h12.2v12.1h-12.2zM1662.6 227.9h12.2v12.1h-12.2zM1687 227.9h12.2v12.1h-12.2zM1650.4 240.1h12.2v12.1h-12.2zM1687 240.1h12.2v12.1h-12.2zM1638.2 264.2h12.2v12.1h-12.2zM1626 312.6h12.2v12.1h-12.2zM1626 324.8h12.2v12.1h-12.2zM1638.2 373.1h12.2v12.1h-12.2zM1699.2 385.2h12.2v12.1h-12.2zM1650.4 397.3h12.2v12.1h-12.2zM1699.2 397.3h12.2v12.1h-12.2zM1699.2 409.4h12.2v12.1h-12.2zM1674.8 421.6h12.2v12.1h-12.2zM1687 421.6h12.2v12.1h-12.2zM1699.2 421.6h12.2v12.1h-12.2zM1833.4 433.6h12.2v12.1h-12.2z" fill="#d8e4f3" shape-rendering="crispEdges"/>
<path d="M1674.8 227.9h12.2v12.1h-12.2zM1662.6 240.1h12.2v12.1h-12.2zM1674.8 240.1h12.2v12.1h-12.2zM1650.4 252.1h12.2v12.1h-12.2zM1674.8 252.1h12.2v12.1h-12.2zM1687 252.1h12.2v12.1h-12.2zM1687 264.2h12.2v12.1h-12.2zM1882.2 264.2h12.2v12.1h-12.2zM1638.2 276.3h12.2v12.1h-12.2zM1687 276.3h12.2v12.1h-12.2zM1638.2 288.4h12.2v12.1h-12.2zM1687 288.4h12.2v12.1h-12.2zM1687 300.6h12.2v12.1h-12.2zM1687 312.6h12.2v12.1h-12.2zM1687 324.8h12.2v12.1h-12.2zM1687 336.8h12.2v12.1h-12.2zM1638.2 348.9h12.2v12.1h-12.2zM1687 348.9h12.2v12.1h-12.2zM1638.2 361.1h12.2v12.1h-12.2zM1687 361.1h12.2v12.1h-12.2zM1687 373.1h12.2v12.1h-12.2zM1650.4 385.2h12.2v12.1h-12.2zM1687 385.2h12.2v12.1h-12.2zM1662.6 397.3h12.2v12.1h-12.2zM1687 397.3h12.2v12.1h-12.2zM1662.6 409.4h12.2v12.1h-12.2zM1674.8 409.4h12.2v12.1h-12.2zM1687 409.4h12.2v12.1h-12.2zM1809 421.6h12.2v12.1h-12.2zM1882.2 433.6h12.2v12.1h-12.2z" fill="#d5e4f3" shape-rendering="crispEdges"/>
<path d="M1662.6 252.1h12.2v12.1h-12.2zM1650.4 264.2h12.2v12.1h-12.2zM1662.6 264.2h12.2v12.1h-12.2zM1674.8 264.2h12.2v12.1h-12.2zM1650.4 276.3h12.2v12.1h-12.2zM1662.6 276.3h12.2v12.1h-12.2zM1674.8 276.3h12.2v12.1h-12.2zM1809 276.3h12.2v12.1h-12.2zM1650.4 288.4h12.2v12.1h-12.2zM1674.8 288.4h12.2v12.1h-12.2zM1638.2 300.6h12.2v12.1h-12.2zM1650.4 300.6h12.2v12.1h-12.2zM1674.8 300.6h12.2v12.1h-12.2zM1638.2 312.6h12.2v12.1h-12.2zM1674.8 312.6h12.2v12.1h-12.2zM1943.2 312.6h12.2v12.1h-12.2zM1638.2 324.8h12.2v12.1h-12.2zM1674.8 324.8h12.2v12.1h-12.2zM1638.2 336.8h12.2v12.1h-12.2zM1674.8 336.8h12.2v12.1h-12.2zM1650.4 348.9h12.2v12.1h-12.2zM1674.8 348.9h12.2v12.1h-12.2zM1650.4 361.1h12.2v12.1h-12.2zM1674.8 361.1h12.2v12.1h-12.2zM1650.4 373.1h12.2v12.1h-12.2zM1662.6 373.1h12.2v12.1h-12.2zM1674.8 373.1h12.2v12.1h-12.2zM1662.6 385.2h12.2v12.1h-12.2zM1674.8 385.2h12.2v12.1h-12.2zM1943.2 385.2h12.2v12.1h-12.2zM1674.8 397.3h12.2v12.1h-12.2zM1784.6 397.3h12.2v12.1h-12.2zM1845.6 433.6h12.2v12.1h-12.2z" fill="#d2e1f3" shape-rendering="crispEdges"/>
<path d="M1845.6 264.2h12.2v12.1h-12.2zM1870 264.2h12.2v12.1h-12.2zM1662.6 288.4h12.2v12.1h-12.2zM1662.6 300.6h12.2v12.1h-12.2zM1650.4 312.6h12.2v12.1h-12.2zM1662.6 312.6h12.2v12.1h-12.2zM1650.4 324.8h12.2v12.1h-12.2zM1662.6 324.8h12.2v12.1h-12.2zM1650.4 336.8h12.2v12.1h-12.2zM1662.6 336.8h12.2v12.1h-12.2zM1662.6 348.9h12.2v12.1h-12.2zM1662.6 361.1h12.2v12.1h-12.2zM1796.8 409.4h12.2v12.1h-12.2zM1906.6 421.6h12.2v12.1h-12.2zM1857.8 433.6h12.2v12.1h-12.2zM1870 433.6h12.2v12.1h-12.2z" fill="#cfe1f3" shape-rendering="crispEdges"/>
<path d="M1857.8 264.2h12.2v12.1h-12.2zM1906.6 276.3h12.2v12.1h-12.2zM1784.6 300.6h12.2v12.1h-12.2z" fill="#ccdef3" shape-rendering="crispEdges"/>
<path d="M1821.2 276.3h12.2v12.1h-12.2zM1772.4 348.9h12.2v12.1h-12.2z" fill="#bad5f0" shape-rendering="crispEdges"/>
<path d="M1833.4 276.3h12.2v12.1h-12.2zM1857.8 421.6h12.2v12.1h-12.2z" fill="#a2c9ed" shape-rendering="crispEdges"/>
<path d="M1845.6 276.3h12.2v12.1h-12.2zM1821.2 409.4h12.2v12.1h-12.2z" fill="#90c0ea" shape-rendering="crispEdges"/>
<path d="M1857.8 276.3h12.2v12.1h-12.2z" fill="#87bde7" shape-rendering="crispEdges"/>
<path d="M1870 276.3h12.2v12.1h-12.2z" fill="#8dbde7" shape-rendering="crispEdges"/>
<path d="M1882.2 276.3h12.2v12.1h-12.2zM1918.8 397.3h12.2v12.1h-12.2z" fill="#9fc6ed" shape-rendering="crispEdges"/>
<path d="M1894.4 276.3h12.2v12.1h-12.2zM1784.6 385.2h12.2v12.1h-12.2zM1833.4 421.6h12.2v12.1h-12.2z" fill="#b7d2ed" shape-rendering="crispEdges"/>
<path d="M1796.8 288.4h12.2v12.1h-12.2zM1772.4 324.8h12.2v12.1h-12.2z" fill="#c9def0" shape-rendering="crispEdges"/>
<path d="M1809 288.4h12.2v12.1h-12.2z" fill="#9fc9ed" shape-rendering="crispEdges"/>
<path d="M1821.2 288.4h12.2v12.1h-12.2zM1833.4 409.4h12.2v12.1h-12.2z" fill="#6faede" shape-rendering="crispEdges"/>
<path d="M1833.4 288.4h12.2v12.1h-12.2zM1918.8 312.6h12.2v12.1h-12.2z" fill="#6fb1c0" shape-rendering="crispEdges"/>
<path d="M1845.6 288.4h12.2v12.1h-12.2z" fill="#6fba99" shape-rendering="crispEdges"/>
<path d="M1857.8 288.4h12.2v12.1h-12.2zM1796.8 324.8h12.2v12.1h-12.2z" fill="#6fbd8d" shape-rendering="crispEdges"/>
<path d="M1870 288.4h12.2v12.1h-12.2z" fill="#6fba96" shape-rendering="crispEdges"/>
<path d="M1882.2 288.4h12.2v12.1h-12.2z" fill="#6fb4b7" shape-rendering="crispEdges"/>
<path d="M1894.4 288.4h12.2v12.1h-12.2zM1784.6 336.8h12.2v12.1h-12.2zM1906.6 397.3h12.2v12.1h-12.2zM1882.2 409.4h12.2v12.1h-12.2z" fill="#6faedb" shape-rendering="crispEdges"/>
<path d="M1906.6 288.4h12.2v12.1h-12.2z" fill="#96c3ea" shape-rendering="crispEdges"/>
<path d="M1918.8 288.4h12.2v12.1h-12.2zM1943.2 324.8h12.2v12.1h-12.2zM1772.4 336.8h12.2v12.1h-12.2zM1894.4 421.6h12.2v12.1h-12.2z" fill="#c0d8f0" shape-rendering="crispEdges"/>
<path d="M1796.8 300.6h12.2v12.1h-12.2z" fill="#99c3ea" shape-rendering="crispEdges"/>
<path d="M1809 300.6h12.2v12.1h-12.2zM1870 409.4h12.2v12.1h-12.2z" fill="#6faecf" shape-rendering="crispEdges"/>
<path d="M1821.2 300.6h12.2v12.1h-12.2z" fill="#6cc075" shape-rendering="crispEdges"/>
<path d="M1833.4 300.6h12.2v12.1h-12.2zM1918.8 348.9h12.2v12.1h-12.2zM1821.2 385.2h12.2v12.1h-12.2z" fill="#7ed23f" shape-rendering="crispEdges"/>
<path d="M1845.6 300.6h12.2v12.1h-12.2z" fill="#aede45" shape-rendering="crispEdges"/>
<path d="M1857.8 300.6h12.2v12.1h-12.2zM1821.2 312.6h12.2v12.1h-12.2z" fill="#c0e448" shape-rendering="crispEdges"/>
<path d="M1870 300.6h12.2v12.1h-12.2z" fill="#b7de48" shape-rendering="crispEdges"/>
<path d="M1882.2 300.6h12.2v12.1h-12.2z" fill="#87d53f" shape-rendering="crispEdges"/>
<path d="M1894.4 300.6h12.2v12.1h-12.2zM1882.2 397.3h12.2v12.1h-12.2z" fill="#66c35d" shape-rendering="crispEdges"/>
<path d="M1906.6 300.6h12.2v12.1h-12.2z" fill="#6fb4bd" shape-rendering="crispEdges"/>
<path d="M1918.8 300.6h12.2v12.1h-12.2z" fill="#8abde7" shape-rendering="crispEdges"/>
<path d="M1931 300.6h12.2v12.1h-12.2zM1772.4 361.1h12.2v12.1h-12.2zM1943.2 373.1h12.2v12.1h-12.2z" fill="#c3d8f0" shape-rendering="crispEdges"/>
<path d="M1772.4 312.6h12.2v12.1h-12.2zM1699.2 348.9h12.2v12.1h-12.2zM1650.4 409.4h12.2v12.1h-12.2zM1894.4 433.6h12.2v12.1h-12.2z" fill="#d8e7f6" shape-rendering="crispEdges"/>
<path d="M1784.6 312.6h12.2v12.1h-12.2zM1796.8 397.3h12.2v12.1h-12.2zM1906.6 409.4h12.2v12.1h-12.2z" fill="#abcced" shape-rendering="crispEdges"/>
<path d="M1796.8 312.6h12.2v12.1h-12.2zM1931 336.8h12.2v12.1h-12.2zM1845.6 409.4h12.2v12.1h-12.2z" fill="#6faed2" shape-rendering="crispEdges"/>
<path d="M1809 312.6h12.2v12.1h-12.2z" fill="#63c651" shape-rendering="crispEdges"/>
<path d="M1833.4 312.6h12.2v12.1h-12.2zM1894.4 373.1h12.2v12.1h-12.2zM1857.8 385.2h12.2v12.1h-12.2z" fill="#ffe14e" shape-rendering="crispEdges"/>
<path d="M1845.6 312.6h12.2v12.1h-12.2zM1894.4 324.8h12.2v12.1h-12.2z" fill="#ffab4e" shape-rendering="crispEdges"/>
<path d="M1857.8 312.6h12.2v12.1h-12.2zM1833.4 373.1h12.2v12.1h-12.2z" fill="#ff9c4e" shape-rendering="crispEdges"/>
<path d="M1870 312.6h12.2v12.1h-12.2z" fill="#ffa84e" shape-rendering="crispEdges"/>
<path d="M1882.2 312.6h12.2v12.1h-12.2zM1906.6 348.9h12.2v12.1h-12.2z" fill="#ffd54e" shape-rendering="crispEdges"/>
<path d="M1894.4 312.6h12.2v12.1h-12.2zM1833.4 385.2h12.2v12.1h-12.2z" fill="#cfea4e" shape-rendering="crispEdges"/>
<path d="M1906.6 312.6h12.2v12.1h-12.2zM1845.6 397.3h12.2v12.1h-12.2z" fill="#69c93f" shape-rendering="crispEdges"/>
<path d="M1931 312.6h12.2v12.1h-12.2z" fill="#9cc6ea" shape-rendering="crispEdges"/>
<path d="M1784.6 324.8h12.2v12.1h-12.2z" fill="#84bae4" shape-rendering="crispEdges"/>
<path d="M1809 324.8h12.2v12.1h-12.2z" fill="#b4de48" shape-rendering="crispEdges"/>
<path d="M1821.2 324.8h12.2v12.1h-12.2z" fill="#ffc04e" shape-rendering="crispEdges"/>
<path d="M1833.4 324.8h12.2v12.1h-12.2zM1894.4 336.8h12.2v12.1h-12.2z" fill="#ff6348" shape-rendering="crispEdges"/>
<path d="M1845.6 324.8h12.2v12.1h-12.2z" fill="#de3f2d" shape-rendering="crispEdges"/>
<path d="M1857.8 324.8h12.2v12.1h-12.2z" fill="#cf3324" shape-rendering="crispEdges"/>
<path d="M1870 324.8h12.2v12.1h-12.2z" fill="#d8392a" shape-rendering="crispEdges"/>
<path d="M1882.2 324.8h12.2v12.1h-12.2zM1894.4 348.9h12.2v12.1h-12.2zM1857.8 373.1h12.2v12.1h-12.2z" fill="#ff5a42" shape-rendering="crispEdges"/>
<path d="M1906.6 324.8h12.2v12.1h-12.2z" fill="#ccea4b" shape-rendering="crispEdges"/>
<path d="M1918.8 324.8h12.2v12.1h-12.2z" fill="#69c369" shape-rendering="crispEdges"/>
<path d="M1931 324.8h12.2v12.1h-12.2zM1784.6 361.1h12.2v12.1h-12.2zM1796.8 385.2h12.2v12.1h-12.2zM1809 397.3h12.2v12.1h-12.2z" fill="#72b1e1" shape-rendering="crispEdges"/>
<path d="M1796.8 336.8h12.2v12.1h-12.2z" fill="#60c645" shape-rendering="crispEdges"/>
<path d="M1809 336.8h12.2v12.1h-12.2zM1906.6 361.1h12.2v12.1h-12.2z" fill="#f3f94e" shape-rendering="crispEdges"/>
<path d="M1821.2 336.8h12.2v12.1h-12.2z" fill="#ff7b48" shape-rendering="crispEdges"/>
<path d="M1833.4 336.8h12.2v12.1h-12.2z" fill="#c62d1e" shape-rendering="crispEdges"/>
<path d="M1845.6 336.8h12.2v12.1h-12.2z" fill="#900909" shape-rendering="crispEdges"/>
<path d="M1857.8 336.8h12.2v12.1h-12.2zM1845.6 348.9h12.2v12.1h-12.2z" fill="#870303" shape-rendering="crispEdges"/>
<path d="M1870 336.8h12.2v12.1h-12.2z" fill="#8d0606" shape-rendering="crispEdges"/>
<path d="M1882.2 336.8h12.2v12.1h-12.2z" fill="#ba2115" shape-rendering="crispEdges"/>
<path d="M1906.6 336.8h12.2v12.1h-12.2z" fill="#ffe74e" shape-rendering="crispEdges"/>
<path d="M1918.8 336.8h12.2v12.1h-12.2zM1857.8 397.3h12.2v12.1h-12.2z" fill="#75cf3f" shape-rendering="crispEdges"/>
<path d="M1943.2 336.8h12.2v12.1h-12.2zM1882.2 421.6h12.2v12.1h-12.2z" fill="#b1cfed" shape-rendering="crispEdges"/>
<path d="M1784.6 348.9h12.2v12.1h-12.2zM1918.8 385.2h12.2v12.1h-12.2z" fill="#6faed8" shape-rendering="crispEdges"/>
<path d="M1796.8 348.9h12.2v12.1h-12.2z" fill="#66c93f" shape-rendering="crispEdges"/>
<path d="M1809 348.9h12.2v12.1h-12.2z" fill="#fff94e" shape-rendering="crispEdges"/>
<path d="M1821.2 348.9h12.2v12.1h-12.2zM1845.6 373.1h12.2v12.1h-12.2z" fill="#ff6948" shape-rendering="crispEdges"/>
<path d="M1833.4 348.9h12.2v12.1h-12.2z" fill="#b41e15" shape-rendering="crispEdges"/>
<path d="M1857.8 348.9h12.2v12.1h-12.2z" fill="#7e0000" shape-rendering="crispEdges"/>
<path d="M1870 348.9h12.2v12.1h-12.2z" fill="#840000" shape-rendering="crispEdges"/>
<path d="M1882.2 348.9h12.2v12.1h-12.2z" fill="#a2120f" shape-rendering="crispEdges"/>
<path d="M1931 348.9h12.2v12.1h-12.2z" fill="#6fb1c9" shape-rendering="crispEdges"/>
<path d="M1943.2 348.9h12.2v12.1h-12.2z" fill="#abcfed" shape-rendering="crispEdges"/>
<path d="M1796.8 361.1h12.2v12.1h-12.2z" fill="#69c363" shape-rendering="crispEdges"/>
<path d="M1809 361.1h12.2v12.1h-12.2zM1882.2 385.2h12.2v12.1h-12.2z" fill="#d8f04e" shape-rendering="crispEdges"/>
<path d="M1821.2 361.1h12.2v12.1h-12.2z" fill="#ff964e" shape-rendering="crispEdges"/>
<path d="M1833.4 361.1h12.2v12.1h-12.2z" fill="#e44230" shape-rendering="crispEdges"/>
<path d="M1845.6 361.1h12.2v12.1h-12.2z" fill="#ae1b12" shape-rendering="crispEdges"/>
<path d="M1857.8 361.1h12.2v12.1h-12.2z" fill="#9c0f0f" shape-rendering="crispEdges"/>
<path d="M1870 361.1h12.2v12.1h-12.2z" fill="#a51512" shape-rendering="crispEdges"/>
<path d="M1882.2 361.1h12.2v12.1h-12.2z" fill="#d5392a" shape-rendering="crispEdges"/>
<path d="M1894.4 361.1h12.2v12.1h-12.2z" fill="#ff8148" shape-rendering="crispEdges"/>
<path d="M1918.8 361.1h12.2v12.1h-12.2z" fill="#63c93f" shape-rendering="crispEdges"/>
<path d="M1931 361.1h12.2v12.1h-12.2z" fill="#6faed5" shape-rendering="crispEdges"/>
<path d="M1943.2 361.1h12.2v12.1h-12.2zM1809 409.4h12.2v12.1h-12.2z" fill="#b4d2ed" shape-rendering="crispEdges"/>
<path d="M1772.4 373.1h12.2v12.1h-12.2z" fill="#cfdef3" shape-rendering="crispEdges"/>
<path d="M1784.6 373.1h12.2v12.1h-12.2z" fill="#93c0ea" shape-rendering="crispEdges"/>
<path d="M1796.8 373.1h12.2v12.1h-12.2z" fill="#6fb7ab" shape-rendering="crispEdges"/>
<path d="M1809 373.1h12.2v12.1h-12.2z" fill="#84d23f" shape-rendering="crispEdges"/>
<path d="M1821.2 373.1h12.2v12.1h-12.2z" fill="#fcff4e" shape-rendering="crispEdges"/>
<path d="M1870 373.1h12.2v12.1h-12.2z" fill="#ff6048" shape-rendering="crispEdges"/>
<path d="M1882.2 373.1h12.2v12.1h-12.2z" fill="#ff904b" shape-rendering="crispEdges"/>
<path d="M1906.6 373.1h12.2v12.1h-12.2z" fill="#9fdb42" shape-rendering="crispEdges"/>
<path d="M1918.8 373.1h12.2v12.1h-12.2z" fill="#6fba90" shape-rendering="crispEdges"/>
<path d="M1931 373.1h12.2v12.1h-12.2z" fill="#81b7e4" shape-rendering="crispEdges"/>
<path d="M1809 385.2h12.2v12.1h-12.2z" fill="#6fba93" shape-rendering="crispEdges"/>
<path d="M1845.6 385.2h12.2v12.1h-12.2z" fill="#fffc4e" shape-rendering="crispEdges"/>
<path d="M1870 385.2h12.2v12.1h-12.2z" fill="#fff34e" shape-rendering="crispEdges"/>
<path d="M1894.4 385.2h12.2v12.1h-12.2z" fill="#8dd53f" shape-rendering="crispEdges"/>
<path d="M1906.6 385.2h12.2v12.1h-12.2z" fill="#6fc07e" shape-rendering="crispEdges"/>
<path d="M1931 385.2h12.2v12.1h-12.2zM1845.6 421.6h12.2v12.1h-12.2zM1870 421.6h12.2v12.1h-12.2z" fill="#a8cced" shape-rendering="crispEdges"/>
<path d="M1821.2 397.3h12.2v12.1h-12.2z" fill="#6fb4ae" shape-rendering="crispEdges"/>
<path d="M1833.4 397.3h12.2v12.1h-12.2z" fill="#69c06c" shape-rendering="crispEdges"/>
<path d="M1870 397.3h12.2v12.1h-12.2z" fill="#6ccc3f" shape-rendering="crispEdges"/>
<path d="M1894.4 397.3h12.2v12.1h-12.2z" fill="#6fb79f" shape-rendering="crispEdges"/>
<path d="M1931 397.3h12.2v12.1h-12.2z" fill="#c9dbf0" shape-rendering="crispEdges"/>
<path d="M1857.8 409.4h12.2v12.1h-12.2z" fill="#6fb1cc" shape-rendering="crispEdges"/>
<path d="M1894.4 409.4h12.2v12.1h-12.2z" fill="#87bae7" shape-rendering="crispEdges"/>
<path d="M1918.8 409.4h12.2v12.1h-12.2zM1821.2 421.6h12.2v12.1h-12.2z" fill="#c6dbf0" shape-rendering="crispEdges"/>
<rect x="1543.6" y="65.4" width="163.4" height="91.6" fill="#fff"/>
<rect x="1528.5" y="45.7" width="687.7" height="617.7" fill="none" stroke="#9c9ea2" stroke-width="2.8"/>
<rect x="1531" y="48.2" width="682.7" height="612.7" fill="none" stroke="#d2d4d6" stroke-width="2.2"/>
<text x="1587" y="128" font-family="'Liberation Serif','Times New Roman',serif" font-size="57" fill="#111">(b)</text>
<rect x="1614.5" y="579.6" width="172" height="13" fill="#000"/>
<g font-family="'DejaVu Sans',Verdana,sans-serif" font-weight="bold" fill="#111">
<text x="1949" y="572.1" font-size="43" textLength="226" lengthAdjust="spacingAndGlyphs">λ=490 nm</text>
<text x="1949" y="633" font-size="43" textLength="226" lengthAdjust="spacingAndGlyphs">Z=485 μm</text>
<text x="1656.5" y="634.4" font-size="36" textLength="94" lengthAdjust="spacingAndGlyphs">2 μm</text>
</g>
<rect x="2242" y="42.5" width="63.4" height="622.3" fill="url(#cb)"/>
<rect x="2243.4" y="43.9" width="60.6" height="619.5" fill="none" stroke="#9c9ea2" stroke-width="2.8"/>
<rect x="2245.9" y="46.4" width="55.6" height="614.5" fill="none" stroke="#d2d4d6" stroke-width="2.2"/>
<rect x="2295.4" y="167.1" width="6" height="3" fill="#000" opacity="0.35"/>
<rect x="2295.4" y="291.2" width="6" height="3" fill="#000" opacity="0.35"/>
<rect x="2295.4" y="414" width="6" height="3" fill="#000" opacity="0.35"/>
<rect x="2295.4" y="539.2" width="6" height="3" fill="#000" opacity="0.35"/>
<g font-family="'Liberation Sans',Arial,sans-serif" font-size="42.5" fill="#2a2a2a">
<text x="2320" y="62.7">1</text>
<text x="2318.5" y="187.3">0.8</text>
<text x="2318.5" y="311.5">0.6</text>
<text x="2318.5" y="432.8">0.4</text>
<text x="2318.5" y="557">0.2</text>
<text x="2318.5" y="678.5">0</text>
</g>
<rect x="1539.3" y="756.2" width="682.2" height="612.8" fill="#f5f8fd"/>
<path d="M1823.8 900.2h13.2v12.8h-13.2zM1837 900.2h13.2v12.8h-13.2zM1850.2 900.2h13.2v12.8h-13.2zM1876.6 900.2h13.2v12.8h-13.2zM1889.8 900.2h13.2v12.8h-13.2zM1903 900.2h13.2v12.8h-13.2zM1797.4 913h13.2v12.8h-13.2zM1942.6 913h13.2v12.8h-13.2zM1771 925.8h13.2v12.8h-13.2zM1955.8 925.8h13.2v12.8h-13.2zM1757.8 938.6h13.2v12.8h-13.2zM1744.6 951.4h13.2v12.8h-13.2zM1731.4 964.2h13.2v12.8h-13.2zM2008.6 977h13.2v12.8h-13.2zM1718.2 989.8h13.2v12.8h-13.2zM2021.8 1002.6h13.2v12.8h-13.2zM1705 1015.4h13.2v12.8h-13.2zM2035 1041h13.2v12.8h-13.2zM2035 1053.8h13.2v12.8h-13.2zM2035 1066.6h13.2v12.8h-13.2zM2035 1079.4h13.2v12.8h-13.2zM1705 1117.8h13.2v12.8h-13.2zM2021.8 1130.6h13.2v12.8h-13.2zM1718.2 1143.4h13.2v12.8h-13.2zM2008.6 1156.2h13.2v12.8h-13.2zM1731.4 1169h13.2v12.8h-13.2zM1995.4 1169h13.2v12.8h-13.2zM1744.6 1181.8h13.2v12.8h-13.2zM1757.8 1194.6h13.2v12.8h-13.2zM1771 1207.4h13.2v12.8h-13.2zM1955.8 1207.4h13.2v12.8h-13.2zM1797.4 1220.2h13.2v12.8h-13.2zM1929.4 1220.2h13.2v12.8h-13.2zM1837 1233h13.2v12.8h-13.2zM1850.2 1233h13.2v12.8h-13.2zM1863.4 1233h13.2v12.8h-13.2zM1876.6 1233h13.2v12.8h-13.2zM1889.8 1233h13.2v12.8h-13.2z" fill="#f0f6fc" shape-rendering="crispEdges"/>
<path d="M1863.4 900.2h13.2v12.8h-13.2zM1810.6 913h13.2v12.8h-13.2zM1823.8 913h13.2v12.8h-13.2zM1916.2 913h13.2v12.8h-13.2zM1929.4 913h13.2v12.8h-13.2zM1784.2 925.8h13.2v12.8h-13.2zM1942.6 925.8h13.2v12.8h-13.2zM1771 938.6h13.2v12.8h-13.2zM1969 938.6h13.2v12.8h-13.2zM1982.2 951.4h13.2v12.8h-13.2zM1744.6 964.2h13.2v12.8h-13.2zM1995.4 964.2h13.2v12.8h-13.2zM1731.4 977h13.2v12.8h-13.2zM2008.6 989.8h13.2v12.8h-13.2zM1718.2 1002.6h13.2v12.8h-13.2zM2021.8 1015.4h13.2v12.8h-13.2zM1705 1028.2h13.2v12.8h-13.2zM2021.8 1028.2h13.2v12.8h-13.2zM1705 1041h13.2v12.8h-13.2zM2021.8 1041h13.2v12.8h-13.2zM1705 1053.8h13.2v12.8h-13.2zM1705 1066.6h13.2v12.8h-13.2zM1705 1079.4h13.2v12.8h-13.2zM1705 1092.2h13.2v12.8h-13.2zM2021.8 1092.2h13.2v12.8h-13.2zM1705 1105h13.2v12.8h-13.2zM2021.8 1105h13.2v12.8h-13.2zM2021.8 1117.8h13.2v12.8h-13.2zM1718.2 1130.6h13.2v12.8h-13.2zM2008.6 1143.4h13.2v12.8h-13.2zM1731.4 1156.2h13.2v12.8h-13.2zM1995.4 1156.2h13.2v12.8h-13.2zM1744.6 1169h13.2v12.8h-13.2zM1757.8 1181.8h13.2v12.8h-13.2zM1982.2 1181.8h13.2v12.8h-13.2zM1771 1194.6h13.2v12.8h-13.2zM1969 1194.6h13.2v12.8h-13.2zM1784.2 1207.4h13.2v12.8h-13.2zM1942.6 1207.4h13.2v12.8h-13.2zM1810.6 1220.2h13.2v12.8h-13.2zM1823.8 1220.2h13.2v12.8h-13.2zM1903 1220.2h13.2v12.8h-13.2zM1916.2 1220.2h13.2v12.8h-13.2z" fill="#f0f3fc" shape-rendering="crispEdges"/>
<path d="M1837 913h13.2v12.8h-13.2zM1850.2 913h13.2v12.8h-13.2zM1863.4 913h13.2v12.8h-13.2zM1876.6 913h13.2v12.8h-13.2zM1889.8 913h13.2v12.8h-13.2zM1903 913h13.2v12.8h-13.2zM1797.4 925.8h13.2v12.8h-13.2zM1929.4 925.8h13.2v12.8h-13.2zM1784.2 938.6h13.2v12.8h-13.2zM1955.8 938.6h13.2v12.8h-13.2zM1969 951.4h13.2v12.8h-13.2zM1982.2 964.2h13.2v12.8h-13.2zM1995.4 977h13.2v12.8h-13.2zM1731.4 989.8h13.2v12.8h-13.2zM2008.6 1002.6h13.2v12.8h-13.2zM1718.2 1015.4h13.2v12.8h-13.2zM2008.6 1015.4h13.2v12.8h-13.2zM1718.2 1028.2h13.2v12.8h-13.2zM2021.8 1053.8h13.2v12.8h-13.2zM2021.8 1066.6h13.2v12.8h-13.2zM2021.8 1079.4h13.2v12.8h-13.2zM1718.2 1105h13.2v12.8h-13.2zM1718.2 1117.8h13.2v12.8h-13.2zM2008.6 1117.8h13.2v12.8h-13.2zM2008.6 1130.6h13.2v12.8h-13.2zM1731.4 1143.4h13.2v12.8h-13.2zM1995.4 1143.4h13.2v12.8h-13.2zM1744.6 1156.2h13.2v12.8h-13.2zM1982.2 1169h13.2v12.8h-13.2zM1969 1181.8h13.2v12.8h-13.2zM1784.2 1194.6h13.2v12.8h-13.2zM1810.6 1207.4h13.2v12.8h-13.2zM1929.4 1207.4h13.2v12.8h-13.2zM1850.2 1220.2h13.2v12.8h-13.2zM1863.4 1220.2h13.2v12.8h-13.2zM1876.6 1220.2h13.2v12.8h-13.2zM1889.8 1220.2h13.2v12.8h-13.2z" fill="#edf3f9" shape-rendering="crispEdges"/>
<path d="M1810.6 925.8h13.2v12.8h-13.2zM1744.6 977h13.2v12.8h-13.2zM1995.4 989.8h13.2v12.8h-13.2zM1718.2 1041h13.2v12.8h-13.2zM1718.2 1092.2h13.2v12.8h-13.2zM1731.4 1130.6h13.2v12.8h-13.2zM1757.8 1169h13.2v12.8h-13.2zM1771 1181.8h13.2v12.8h-13.2zM1942.6 1194.6h13.2v12.8h-13.2zM1916.2 1207.4h13.2v12.8h-13.2z" fill="#edf0f9" shape-rendering="crispEdges"/>
<path d="M1823.8 925.8h13.2v12.8h-13.2zM1903 925.8h13.2v12.8h-13.2zM1916.2 925.8h13.2v12.8h-13.2zM1797.4 938.6h13.2v12.8h-13.2zM1942.6 938.6h13.2v12.8h-13.2zM1771 951.4h13.2v12.8h-13.2zM1955.8 951.4h13.2v12.8h-13.2zM1757.8 964.2h13.2v12.8h-13.2zM1969 964.2h13.2v12.8h-13.2zM1982.2 977h13.2v12.8h-13.2zM1744.6 989.8h13.2v12.8h-13.2zM1731.4 1002.6h13.2v12.8h-13.2zM1995.4 1002.6h13.2v12.8h-13.2zM1731.4 1015.4h13.2v12.8h-13.2zM2008.6 1028.2h13.2v12.8h-13.2zM2008.6 1041h13.2v12.8h-13.2zM1718.2 1053.8h13.2v12.8h-13.2zM2008.6 1053.8h13.2v12.8h-13.2zM1718.2 1066.6h13.2v12.8h-13.2zM1718.2 1079.4h13.2v12.8h-13.2zM2008.6 1079.4h13.2v12.8h-13.2zM2008.6 1092.2h13.2v12.8h-13.2zM2008.6 1105h13.2v12.8h-13.2zM1731.4 1117.8h13.2v12.8h-13.2zM1995.4 1130.6h13.2v12.8h-13.2zM1744.6 1143.4h13.2v12.8h-13.2zM1982.2 1156.2h13.2v12.8h-13.2zM1969 1169h13.2v12.8h-13.2zM1955.8 1181.8h13.2v12.8h-13.2zM1797.4 1194.6h13.2v12.8h-13.2zM1929.4 1194.6h13.2v12.8h-13.2zM1823.8 1207.4h13.2v12.8h-13.2zM1837 1207.4h13.2v12.8h-13.2zM1889.8 1207.4h13.2v12.8h-13.2zM1903 1207.4h13.2v12.8h-13.2z" fill="#eaf0f9" shape-rendering="crispEdges"/>
<path d="M1837 925.8h13.2v12.8h-13.2zM1929.4 938.6h13.2v12.8h-13.2zM2008.6 1066.6h13.2v12.8h-13.2zM1784.2 1181.8h13.2v12.8h-13.2zM1850.2 1207.4h13.2v12.8h-13.2zM1876.6 1207.4h13.2v12.8h-13.2z" fill="#e7f0f9" shape-rendering="crispEdges"/>
<path d="M1850.2 925.8h13.2v12.8h-13.2zM1863.4 925.8h13.2v12.8h-13.2zM1876.6 925.8h13.2v12.8h-13.2zM1889.8 925.8h13.2v12.8h-13.2zM1810.6 938.6h13.2v12.8h-13.2zM1784.2 951.4h13.2v12.8h-13.2zM1771 964.2h13.2v12.8h-13.2zM1757.8 977h13.2v12.8h-13.2zM1982.2 989.8h13.2v12.8h-13.2zM1995.4 1015.4h13.2v12.8h-13.2zM1731.4 1028.2h13.2v12.8h-13.2zM1731.4 1105h13.2v12.8h-13.2zM1995.4 1117.8h13.2v12.8h-13.2zM1982.2 1143.4h13.2v12.8h-13.2zM1757.8 1156.2h13.2v12.8h-13.2zM1771 1169h13.2v12.8h-13.2zM1942.6 1181.8h13.2v12.8h-13.2zM1810.6 1194.6h13.2v12.8h-13.2zM1916.2 1194.6h13.2v12.8h-13.2zM1863.4 1207.4h13.2v12.8h-13.2z" fill="#e7edf9" shape-rendering="crispEdges"/>
<path d="M1823.8 938.6h13.2v12.8h-13.2zM1797.4 951.4h13.2v12.8h-13.2zM1982.2 1130.6h13.2v12.8h-13.2zM1757.8 1143.4h13.2v12.8h-13.2zM1929.4 1181.8h13.2v12.8h-13.2z" fill="#e1eaf6" shape-rendering="crispEdges"/>
<path d="M1837 938.6h13.2v12.8h-13.2zM1889.8 938.6h13.2v12.8h-13.2zM1929.4 951.4h13.2v12.8h-13.2zM1784.2 964.2h13.2v12.8h-13.2zM1771 977h13.2v12.8h-13.2zM1995.4 1053.8h13.2v12.8h-13.2zM1995.4 1066.6h13.2v12.8h-13.2zM1995.4 1079.4h13.2v12.8h-13.2zM1969 1143.4h13.2v12.8h-13.2zM1850.2 1194.6h13.2v12.8h-13.2zM1876.6 1194.6h13.2v12.8h-13.2z" fill="#dbe7f6" shape-rendering="crispEdges"/>
<path d="M1850.2 938.6h13.2v12.8h-13.2zM1969 989.8h13.2v12.8h-13.2zM1955.8 1156.2h13.2v12.8h-13.2z" fill="#d8e4f3" shape-rendering="crispEdges"/>
<path d="M1863.4 938.6h13.2v12.8h-13.2zM1876.6 938.6h13.2v12.8h-13.2zM1810.6 951.4h13.2v12.8h-13.2zM1942.6 964.2h13.2v12.8h-13.2zM1982.2 1015.4h13.2v12.8h-13.2zM1744.6 1028.2h13.2v12.8h-13.2zM1744.6 1105h13.2v12.8h-13.2zM1982.2 1117.8h13.2v12.8h-13.2zM1916.2 1181.8h13.2v12.8h-13.2z" fill="#d5e4f3" shape-rendering="crispEdges"/>
<path d="M1903 938.6h13.2v12.8h-13.2zM1757.8 989.8h13.2v12.8h-13.2zM1982.2 1002.6h13.2v12.8h-13.2zM1995.4 1041h13.2v12.8h-13.2zM1995.4 1092.2h13.2v12.8h-13.2zM1744.6 1117.8h13.2v12.8h-13.2zM1837 1194.6h13.2v12.8h-13.2z" fill="#deeaf6" shape-rendering="crispEdges"/>
<path d="M1916.2 938.6h13.2v12.8h-13.2zM1955.8 964.2h13.2v12.8h-13.2zM1969 977h13.2v12.8h-13.2zM1744.6 1002.6h13.2v12.8h-13.2zM1823.8 1194.6h13.2v12.8h-13.2z" fill="#e4edf6" shape-rendering="crispEdges"/>
<path d="M1757.8 951.4h13.2v12.8h-13.2zM1955.8 1194.6h13.2v12.8h-13.2zM1797.4 1207.4h13.2v12.8h-13.2zM1837 1220.2h13.2v12.8h-13.2z" fill="#f0f3f9" shape-rendering="crispEdges"/>
<path d="M1823.8 951.4h13.2v12.8h-13.2zM1982.2 1028.2h13.2v12.8h-13.2zM1744.6 1053.8h13.2v12.8h-13.2zM1744.6 1079.4h13.2v12.8h-13.2zM1969 1130.6h13.2v12.8h-13.2zM1784.2 1156.2h13.2v12.8h-13.2zM1903 1181.8h13.2v12.8h-13.2z" fill="#c9def0" shape-rendering="crispEdges"/>
<path d="M1837 951.4h13.2v12.8h-13.2zM1942.6 1156.2h13.2v12.8h-13.2zM1889.8 1181.8h13.2v12.8h-13.2z" fill="#c0d8f0" shape-rendering="crispEdges"/>
<path d="M1850.2 951.4h13.2v12.8h-13.2zM1810.6 964.2h13.2v12.8h-13.2zM1757.8 1105h13.2v12.8h-13.2zM1969 1117.8h13.2v12.8h-13.2zM1771 1130.6h13.2v12.8h-13.2z" fill="#b7d2ed" shape-rendering="crispEdges"/>
<path d="M1863.4 951.4h13.2v12.8h-13.2zM1876.6 951.4h13.2v12.8h-13.2zM1969 1015.4h13.2v12.8h-13.2zM1757.8 1028.2h13.2v12.8h-13.2zM1916.2 1169h13.2v12.8h-13.2z" fill="#b4d2ed" shape-rendering="crispEdges"/>
<path d="M1889.8 951.4h13.2v12.8h-13.2zM1876.6 1181.8h13.2v12.8h-13.2z" fill="#bad5f0" shape-rendering="crispEdges"/>
<path d="M1903 951.4h13.2v12.8h-13.2zM1784.2 977h13.2v12.8h-13.2zM1969 1002.6h13.2v12.8h-13.2zM1757.8 1117.8h13.2v12.8h-13.2z" fill="#c6dbf0" shape-rendering="crispEdges"/>
<path d="M1916.2 951.4h13.2v12.8h-13.2zM1744.6 1092.2h13.2v12.8h-13.2zM1797.4 1169h13.2v12.8h-13.2z" fill="#cfe1f3" shape-rendering="crispEdges"/>
<path d="M1942.6 951.4h13.2v12.8h-13.2zM1731.4 1041h13.2v12.8h-13.2zM1731.4 1092.2h13.2v12.8h-13.2zM1744.6 1130.6h13.2v12.8h-13.2zM1969 1156.2h13.2v12.8h-13.2zM1955.8 1169h13.2v12.8h-13.2z" fill="#e4edf9" shape-rendering="crispEdges"/>
<path d="M1797.4 964.2h13.2v12.8h-13.2zM1982.2 1105h13.2v12.8h-13.2zM1771 1143.4h13.2v12.8h-13.2z" fill="#ccdef3" shape-rendering="crispEdges"/>
<path d="M1823.8 964.2h13.2v12.8h-13.2zM1955.8 1002.6h13.2v12.8h-13.2zM1969 1028.2h13.2v12.8h-13.2zM1903 1169h13.2v12.8h-13.2z" fill="#a2c9ed" shape-rendering="crispEdges"/>
<path d="M1837 964.2h13.2v12.8h-13.2z" fill="#90c0ea" shape-rendering="crispEdges"/>
<path d="M1850.2 964.2h13.2v12.8h-13.2zM1771 1105h13.2v12.8h-13.2z" fill="#84bae4" shape-rendering="crispEdges"/>
<path d="M1863.4 964.2h13.2v12.8h-13.2zM1916.2 977h13.2v12.8h-13.2z" fill="#7eb7e4" shape-rendering="crispEdges"/>
<path d="M1876.6 964.2h13.2v12.8h-13.2zM1797.4 989.8h13.2v12.8h-13.2zM1771 1028.2h13.2v12.8h-13.2z" fill="#81b7e4" shape-rendering="crispEdges"/>
<path d="M1889.8 964.2h13.2v12.8h-13.2zM1969 1053.8h13.2v12.8h-13.2zM1969 1079.4h13.2v12.8h-13.2zM1955.8 1117.8h13.2v12.8h-13.2zM1876.6 1169h13.2v12.8h-13.2z" fill="#8abde7" shape-rendering="crispEdges"/>
<path d="M1903 964.2h13.2v12.8h-13.2zM1942.6 989.8h13.2v12.8h-13.2zM1757.8 1066.6h13.2v12.8h-13.2z" fill="#9cc6ea" shape-rendering="crispEdges"/>
<path d="M1916.2 964.2h13.2v12.8h-13.2zM1784.2 1143.4h13.2v12.8h-13.2z" fill="#aecfed" shape-rendering="crispEdges"/>
<path d="M1929.4 964.2h13.2v12.8h-13.2zM1837 1181.8h13.2v12.8h-13.2z" fill="#c3dbf0" shape-rendering="crispEdges"/>
<path d="M1797.4 977h13.2v12.8h-13.2zM1823.8 1169h13.2v12.8h-13.2z" fill="#abcced" shape-rendering="crispEdges"/>
<path d="M1810.6 977h13.2v12.8h-13.2zM1784.2 1130.6h13.2v12.8h-13.2zM1850.2 1169h13.2v12.8h-13.2z" fill="#8dbde7" shape-rendering="crispEdges"/>
<path d="M1823.8 977h13.2v12.8h-13.2zM1771 1041h13.2v12.8h-13.2zM1771 1092.2h13.2v12.8h-13.2zM1955.8 1105h13.2v12.8h-13.2zM1903 1156.2h13.2v12.8h-13.2z" fill="#6faede" shape-rendering="crispEdges"/>
<path d="M1837 977h13.2v12.8h-13.2zM1797.4 1002.6h13.2v12.8h-13.2zM1955.8 1041h13.2v12.8h-13.2zM1942.6 1117.8h13.2v12.8h-13.2zM1916.2 1143.4h13.2v12.8h-13.2z" fill="#6faecf" shape-rendering="crispEdges"/>
<path d="M1850.2 977h13.2v12.8h-13.2zM1784.2 1028.2h13.2v12.8h-13.2zM1955.8 1066.6h13.2v12.8h-13.2z" fill="#6fb4ba" shape-rendering="crispEdges"/>
<path d="M1863.4 977h13.2v12.8h-13.2z" fill="#6fb4b1" shape-rendering="crispEdges"/>
<path d="M1876.6 977h13.2v12.8h-13.2z" fill="#6fb4b4" shape-rendering="crispEdges"/>
<path d="M1889.8 977h13.2v12.8h-13.2zM1942.6 1015.4h13.2v12.8h-13.2zM1850.2 1156.2h13.2v12.8h-13.2z" fill="#6fb1c9" shape-rendering="crispEdges"/>
<path d="M1903 977h13.2v12.8h-13.2zM1784.2 1015.4h13.2v12.8h-13.2zM1771 1053.8h13.2v12.8h-13.2zM1771 1079.4h13.2v12.8h-13.2zM1810.6 1143.4h13.2v12.8h-13.2z" fill="#6faed8" shape-rendering="crispEdges"/>
<path d="M1929.4 977h13.2v12.8h-13.2zM1757.8 1053.8h13.2v12.8h-13.2zM1757.8 1079.4h13.2v12.8h-13.2z" fill="#9fc6ed" shape-rendering="crispEdges"/>
<path d="M1942.6 977h13.2v12.8h-13.2zM1955.8 989.8h13.2v12.8h-13.2zM1982.2 1053.8h13.2v12.8h-13.2zM1982.2 1079.4h13.2v12.8h-13.2zM1810.6 1169h13.2v12.8h-13.2zM1850.2 1181.8h13.2v12.8h-13.2z" fill="#bdd5f0" shape-rendering="crispEdges"/>
<path d="M1955.8 977h13.2v12.8h-13.2z" fill="#d5e1f3" shape-rendering="crispEdges"/>
<path d="M1771 989.8h13.2v12.8h-13.2zM1744.6 1066.6h13.2v12.8h-13.2zM1929.4 1169h13.2v12.8h-13.2z" fill="#c9dbf0" shape-rendering="crispEdges"/>
<path d="M1784.2 989.8h13.2v12.8h-13.2zM1757.8 1041h13.2v12.8h-13.2zM1757.8 1092.2h13.2v12.8h-13.2zM1955.8 1130.6h13.2v12.8h-13.2z" fill="#a8cced" shape-rendering="crispEdges"/>
<path d="M1810.6 989.8h13.2v12.8h-13.2zM1955.8 1092.2h13.2v12.8h-13.2zM1889.8 1156.2h13.2v12.8h-13.2z" fill="#6faed2" shape-rendering="crispEdges"/>
<path d="M1823.8 989.8h13.2v12.8h-13.2z" fill="#6fb7a2" shape-rendering="crispEdges"/>
<path d="M1837 989.8h13.2v12.8h-13.2z" fill="#6cc078" shape-rendering="crispEdges"/>
<path d="M1850.2 989.8h13.2v12.8h-13.2zM1823.8 1130.6h13.2v12.8h-13.2z" fill="#63c64b" shape-rendering="crispEdges"/>
<path d="M1863.4 989.8h13.2v12.8h-13.2zM1823.8 1002.6h13.2v12.8h-13.2zM1810.6 1117.8h13.2v12.8h-13.2z" fill="#63c93f" shape-rendering="crispEdges"/>
<path d="M1876.6 989.8h13.2v12.8h-13.2z" fill="#60c63f" shape-rendering="crispEdges"/>
<path d="M1889.8 989.8h13.2v12.8h-13.2z" fill="#69c366" shape-rendering="crispEdges"/>
<path d="M1903 989.8h13.2v12.8h-13.2z" fill="#6fba93" shape-rendering="crispEdges"/>
<path d="M1916.2 989.8h13.2v12.8h-13.2zM1955.8 1079.4h13.2v12.8h-13.2zM1929.4 1130.6h13.2v12.8h-13.2zM1876.6 1156.2h13.2v12.8h-13.2z" fill="#6fb1c3" shape-rendering="crispEdges"/>
<path d="M1929.4 989.8h13.2v12.8h-13.2z" fill="#6fb1de" shape-rendering="crispEdges"/>
<path d="M1757.8 1002.6h13.2v12.8h-13.2zM1757.8 1130.6h13.2v12.8h-13.2z" fill="#d2e1f3" shape-rendering="crispEdges"/>
<path d="M1771 1002.6h13.2v12.8h-13.2zM1797.4 1156.2h13.2v12.8h-13.2z" fill="#b1cfed" shape-rendering="crispEdges"/>
<path d="M1784.2 1002.6h13.2v12.8h-13.2zM1916.2 1156.2h13.2v12.8h-13.2zM1863.4 1169h13.2v12.8h-13.2z" fill="#87bae7" shape-rendering="crispEdges"/>
<path d="M1810.6 1002.6h13.2v12.8h-13.2z" fill="#6fbd8d" shape-rendering="crispEdges"/>
<path d="M1837 1002.6h13.2v12.8h-13.2zM1889.8 1130.6h13.2v12.8h-13.2z" fill="#8dd83f" shape-rendering="crispEdges"/>
<path d="M1850.2 1002.6h13.2v12.8h-13.2zM1929.4 1079.4h13.2v12.8h-13.2zM1863.4 1130.6h13.2v12.8h-13.2z" fill="#bae148" shape-rendering="crispEdges"/>
<path d="M1863.4 1002.6h13.2v12.8h-13.2z" fill="#c6e74b" shape-rendering="crispEdges"/>
<path d="M1876.6 1002.6h13.2v12.8h-13.2zM1916.2 1105h13.2v12.8h-13.2zM1903 1117.8h13.2v12.8h-13.2z" fill="#c0e448" shape-rendering="crispEdges"/>
<path d="M1889.8 1002.6h13.2v12.8h-13.2z" fill="#a2db42" shape-rendering="crispEdges"/>
<path d="M1903 1002.6h13.2v12.8h-13.2z" fill="#75cf3f" shape-rendering="crispEdges"/>
<path d="M1916.2 1002.6h13.2v12.8h-13.2zM1942.6 1041h13.2v12.8h-13.2z" fill="#6cc072" shape-rendering="crispEdges"/>
<path d="M1929.4 1002.6h13.2v12.8h-13.2z" fill="#6fb4b7" shape-rendering="crispEdges"/>
<path d="M1942.6 1002.6h13.2v12.8h-13.2z" fill="#72b1e1" shape-rendering="crispEdges"/>
<path d="M1744.6 1015.4h13.2v12.8h-13.2zM1771 1156.2h13.2v12.8h-13.2zM1784.2 1169h13.2v12.8h-13.2zM1889.8 1194.6h13.2v12.8h-13.2z" fill="#dee7f6" shape-rendering="crispEdges"/>
<path d="M1757.8 1015.4h13.2v12.8h-13.2zM1982.2 1041h13.2v12.8h-13.2zM1982.2 1092.2h13.2v12.8h-13.2zM1955.8 1143.4h13.2v12.8h-13.2z" fill="#c3d8f0" shape-rendering="crispEdges"/>
<path d="M1771 1015.4h13.2v12.8h-13.2zM1837 1169h13.2v12.8h-13.2z" fill="#99c3ea" shape-rendering="crispEdges"/>
<path d="M1797.4 1015.4h13.2v12.8h-13.2z" fill="#6fba96" shape-rendering="crispEdges"/>
<path d="M1810.6 1015.4h13.2v12.8h-13.2zM1929.4 1105h13.2v12.8h-13.2z" fill="#69cc3f" shape-rendering="crispEdges"/>
<path d="M1823.8 1015.4h13.2v12.8h-13.2z" fill="#b4de48" shape-rendering="crispEdges"/>
<path d="M1837 1015.4h13.2v12.8h-13.2zM1823.8 1105h13.2v12.8h-13.2z" fill="#f0f94e" shape-rendering="crispEdges"/>
<path d="M1850.2 1015.4h13.2v12.8h-13.2zM1903 1028.2h13.2v12.8h-13.2z" fill="#ffd84e" shape-rendering="crispEdges"/>
<path d="M1863.4 1015.4h13.2v12.8h-13.2zM1916.2 1066.6h13.2v12.8h-13.2z" fill="#ffc34e" shape-rendering="crispEdges"/>
<path d="M1876.6 1015.4h13.2v12.8h-13.2z" fill="#ffcc4e" shape-rendering="crispEdges"/>
<path d="M1889.8 1015.4h13.2v12.8h-13.2z" fill="#fff94e" shape-rendering="crispEdges"/>
<path d="M1903 1015.4h13.2v12.8h-13.2z" fill="#ccea4b" shape-rendering="crispEdges"/>
<path d="M1916.2 1015.4h13.2v12.8h-13.2zM1837 1130.6h13.2v12.8h-13.2z" fill="#81d23f" shape-rendering="crispEdges"/>
<path d="M1929.4 1015.4h13.2v12.8h-13.2z" fill="#6cc075" shape-rendering="crispEdges"/>
<path d="M1955.8 1015.4h13.2v12.8h-13.2zM1969 1066.6h13.2v12.8h-13.2z" fill="#84bae7" shape-rendering="crispEdges"/>
<path d="M1797.4 1028.2h13.2v12.8h-13.2z" fill="#63c654" shape-rendering="crispEdges"/>
<path d="M1810.6 1028.2h13.2v12.8h-13.2zM1850.2 1130.6h13.2v12.8h-13.2z" fill="#a8db45" shape-rendering="crispEdges"/>
<path d="M1823.8 1028.2h13.2v12.8h-13.2zM1810.6 1053.8h13.2v12.8h-13.2z" fill="#fcfc4e" shape-rendering="crispEdges"/>
<path d="M1837 1028.2h13.2v12.8h-13.2z" fill="#ffae4e" shape-rendering="crispEdges"/>
<path d="M1850.2 1028.2h13.2v12.8h-13.2z" fill="#ff7e48" shape-rendering="crispEdges"/>
<path d="M1863.4 1028.2h13.2v12.8h-13.2z" fill="#ff6648" shape-rendering="crispEdges"/>
<path d="M1876.6 1028.2h13.2v12.8h-13.2zM1903 1053.8h13.2v12.8h-13.2z" fill="#ff6f48" shape-rendering="crispEdges"/>
<path d="M1889.8 1028.2h13.2v12.8h-13.2zM1903 1041h13.2v12.8h-13.2zM1823.8 1079.4h13.2v12.8h-13.2z" fill="#ff994e" shape-rendering="crispEdges"/>
<path d="M1916.2 1028.2h13.2v12.8h-13.2z" fill="#c9e74b" shape-rendering="crispEdges"/>
<path d="M1929.4 1028.2h13.2v12.8h-13.2zM1797.4 1092.2h13.2v12.8h-13.2z" fill="#72cc3f" shape-rendering="crispEdges"/>
<path d="M1942.6 1028.2h13.2v12.8h-13.2zM1784.2 1041h13.2v12.8h-13.2zM1810.6 1130.6h13.2v12.8h-13.2z" fill="#6fba99" shape-rendering="crispEdges"/>
<path d="M1955.8 1028.2h13.2v12.8h-13.2zM1784.2 1117.8h13.2v12.8h-13.2z" fill="#6faedb" shape-rendering="crispEdges"/>
<path d="M1995.4 1028.2h13.2v12.8h-13.2zM1731.4 1053.8h13.2v12.8h-13.2zM1731.4 1066.6h13.2v12.8h-13.2zM1731.4 1079.4h13.2v12.8h-13.2zM1995.4 1105h13.2v12.8h-13.2zM1797.4 1181.8h13.2v12.8h-13.2zM1903 1194.6h13.2v12.8h-13.2z" fill="#e4eaf6" shape-rendering="crispEdges"/>
<path d="M1744.6 1041h13.2v12.8h-13.2zM1823.8 1181.8h13.2v12.8h-13.2z" fill="#cfdef3" shape-rendering="crispEdges"/>
<path d="M1797.4 1041h13.2v12.8h-13.2zM1916.2 1117.8h13.2v12.8h-13.2z" fill="#78cf3f" shape-rendering="crispEdges"/>
<path d="M1810.6 1041h13.2v12.8h-13.2z" fill="#d8f04e" shape-rendering="crispEdges"/>
<path d="M1823.8 1041h13.2v12.8h-13.2zM1837 1105h13.2v12.8h-13.2z" fill="#ffb74e" shape-rendering="crispEdges"/>
<path d="M1837 1041h13.2v12.8h-13.2z" fill="#ff6948" shape-rendering="crispEdges"/>
<path d="M1850.2 1041h13.2v12.8h-13.2zM1837 1066.6h13.2v12.8h-13.2z" fill="#db3c2d" shape-rendering="crispEdges"/>
<path d="M1863.4 1041h13.2v12.8h-13.2z" fill="#c32a1b" shape-rendering="crispEdges"/>
<path d="M1876.6 1041h13.2v12.8h-13.2zM1889.8 1053.8h13.2v12.8h-13.2zM1863.4 1092.2h13.2v12.8h-13.2z" fill="#cf3324" shape-rendering="crispEdges"/>
<path d="M1889.8 1041h13.2v12.8h-13.2z" fill="#ff573f" shape-rendering="crispEdges"/>
<path d="M1916.2 1041h13.2v12.8h-13.2z" fill="#fffc4e" shape-rendering="crispEdges"/>
<path d="M1929.4 1041h13.2v12.8h-13.2z" fill="#99d842" shape-rendering="crispEdges"/>
<path d="M1969 1041h13.2v12.8h-13.2zM1810.6 1156.2h13.2v12.8h-13.2zM1889.8 1169h13.2v12.8h-13.2z" fill="#93c0ea" shape-rendering="crispEdges"/>
<path d="M1784.2 1053.8h13.2v12.8h-13.2zM1929.4 1117.8h13.2v12.8h-13.2zM1916.2 1130.6h13.2v12.8h-13.2z" fill="#6fbd84" shape-rendering="crispEdges"/>
<path d="M1797.4 1053.8h13.2v12.8h-13.2z" fill="#8dd53f" shape-rendering="crispEdges"/>
<path d="M1823.8 1053.8h13.2v12.8h-13.2z" fill="#ff934b" shape-rendering="crispEdges"/>
<path d="M1837 1053.8h13.2v12.8h-13.2z" fill="#ea4833" shape-rendering="crispEdges"/>
<path d="M1850.2 1053.8h13.2v12.8h-13.2z" fill="#a5120f" shape-rendering="crispEdges"/>
<path d="M1863.4 1053.8h13.2v12.8h-13.2z" fill="#8d0606" shape-rendering="crispEdges"/>
<path d="M1876.6 1053.8h13.2v12.8h-13.2z" fill="#960c0c" shape-rendering="crispEdges"/>
<path d="M1916.2 1053.8h13.2v12.8h-13.2z" fill="#ffcf4e" shape-rendering="crispEdges"/>
<path d="M1929.4 1053.8h13.2v12.8h-13.2z" fill="#bde148" shape-rendering="crispEdges"/>
<path d="M1942.6 1053.8h13.2v12.8h-13.2z" fill="#63c64e" shape-rendering="crispEdges"/>
<path d="M1955.8 1053.8h13.2v12.8h-13.2zM1784.2 1105h13.2v12.8h-13.2zM1863.4 1156.2h13.2v12.8h-13.2z" fill="#6fb1c0" shape-rendering="crispEdges"/>
<path d="M1771 1066.6h13.2v12.8h-13.2zM1797.4 1130.6h13.2v12.8h-13.2zM1837 1156.2h13.2v12.8h-13.2z" fill="#6faed5" shape-rendering="crispEdges"/>
<path d="M1784.2 1066.6h13.2v12.8h-13.2z" fill="#6fc07e" shape-rendering="crispEdges"/>
<path d="M1797.4 1066.6h13.2v12.8h-13.2z" fill="#96d83f" shape-rendering="crispEdges"/>
<path d="M1810.6 1066.6h13.2v12.8h-13.2z" fill="#fff34e" shape-rendering="crispEdges"/>
<path d="M1823.8 1066.6h13.2v12.8h-13.2z" fill="#ff8748" shape-rendering="crispEdges"/>
<path d="M1850.2 1066.6h13.2v12.8h-13.2z" fill="#960909" shape-rendering="crispEdges"/>
<path d="M1863.4 1066.6h13.2v12.8h-13.2z" fill="#810000" shape-rendering="crispEdges"/>
<path d="M1876.6 1066.6h13.2v12.8h-13.2z" fill="#8a0303" shape-rendering="crispEdges"/>
<path d="M1889.8 1066.6h13.2v12.8h-13.2z" fill="#c02718" shape-rendering="crispEdges"/>
<path d="M1903 1066.6h13.2v12.8h-13.2z" fill="#ff6348" shape-rendering="crispEdges"/>
<path d="M1929.4 1066.6h13.2v12.8h-13.2z" fill="#c3e44b" shape-rendering="crispEdges"/>
<path d="M1942.6 1066.6h13.2v12.8h-13.2z" fill="#60c642" shape-rendering="crispEdges"/>
<path d="M1982.2 1066.6h13.2v12.8h-13.2zM1863.4 1181.8h13.2v12.8h-13.2z" fill="#bad5ed" shape-rendering="crispEdges"/>
<path d="M1784.2 1079.4h13.2v12.8h-13.2zM1837 1143.4h13.2v12.8h-13.2z" fill="#6fbd87" shape-rendering="crispEdges"/>
<path d="M1797.4 1079.4h13.2v12.8h-13.2z" fill="#8ad53f" shape-rendering="crispEdges"/>
<path d="M1810.6 1079.4h13.2v12.8h-13.2z" fill="#f6fc4e" shape-rendering="crispEdges"/>
<path d="M1837 1079.4h13.2v12.8h-13.2z" fill="#f04b36" shape-rendering="crispEdges"/>
<path d="M1850.2 1079.4h13.2v12.8h-13.2z" fill="#ab1812" shape-rendering="crispEdges"/>
<path d="M1863.4 1079.4h13.2v12.8h-13.2z" fill="#900909" shape-rendering="crispEdges"/>
<path d="M1876.6 1079.4h13.2v12.8h-13.2z" fill="#9c0c0c" shape-rendering="crispEdges"/>
<path d="M1889.8 1079.4h13.2v12.8h-13.2z" fill="#d23627" shape-rendering="crispEdges"/>
<path d="M1903 1079.4h13.2v12.8h-13.2zM1863.4 1105h13.2v12.8h-13.2z" fill="#ff7548" shape-rendering="crispEdges"/>
<path d="M1916.2 1079.4h13.2v12.8h-13.2z" fill="#ffd24e" shape-rendering="crispEdges"/>
<path d="M1942.6 1079.4h13.2v12.8h-13.2zM1863.4 1143.4h13.2v12.8h-13.2z" fill="#63c651" shape-rendering="crispEdges"/>
<path d="M1784.2 1092.2h13.2v12.8h-13.2z" fill="#6fba9c" shape-rendering="crispEdges"/>
<path d="M1810.6 1092.2h13.2v12.8h-13.2z" fill="#d2ed4e" shape-rendering="crispEdges"/>
<path d="M1823.8 1092.2h13.2v12.8h-13.2z" fill="#ffc04e" shape-rendering="crispEdges"/>
<path d="M1837 1092.2h13.2v12.8h-13.2z" fill="#ff7248" shape-rendering="crispEdges"/>
<path d="M1850.2 1092.2h13.2v12.8h-13.2z" fill="#e74533" shape-rendering="crispEdges"/>
<path d="M1876.6 1092.2h13.2v12.8h-13.2z" fill="#d83c2a" shape-rendering="crispEdges"/>
<path d="M1889.8 1092.2h13.2v12.8h-13.2z" fill="#ff5d45" shape-rendering="crispEdges"/>
<path d="M1903 1092.2h13.2v12.8h-13.2z" fill="#ffa24e" shape-rendering="crispEdges"/>
<path d="M1916.2 1092.2h13.2v12.8h-13.2z" fill="#f9fc4e" shape-rendering="crispEdges"/>
<path d="M1929.4 1092.2h13.2v12.8h-13.2z" fill="#93d83f" shape-rendering="crispEdges"/>
<path d="M1942.6 1092.2h13.2v12.8h-13.2z" fill="#6fc078" shape-rendering="crispEdges"/>
<path d="M1969 1092.2h13.2v12.8h-13.2z" fill="#96c3ea" shape-rendering="crispEdges"/>
<path d="M1797.4 1105h13.2v12.8h-13.2z" fill="#66c360" shape-rendering="crispEdges"/>
<path d="M1810.6 1105h13.2v12.8h-13.2z" fill="#9cdb42" shape-rendering="crispEdges"/>
<path d="M1850.2 1105h13.2v12.8h-13.2z" fill="#ff8a4b" shape-rendering="crispEdges"/>
<path d="M1876.6 1105h13.2v12.8h-13.2z" fill="#ff8148" shape-rendering="crispEdges"/>
<path d="M1889.8 1105h13.2v12.8h-13.2z" fill="#ffa54e" shape-rendering="crispEdges"/>
<path d="M1903 1105h13.2v12.8h-13.2z" fill="#ffe74e" shape-rendering="crispEdges"/>
<path d="M1942.6 1105h13.2v12.8h-13.2zM1797.4 1117.8h13.2v12.8h-13.2zM1903 1143.4h13.2v12.8h-13.2z" fill="#6fba9f" shape-rendering="crispEdges"/>
<path d="M1969 1105h13.2v12.8h-13.2zM1929.4 1156.2h13.2v12.8h-13.2z" fill="#a5c9ed" shape-rendering="crispEdges"/>
<path d="M1771 1117.8h13.2v12.8h-13.2z" fill="#9cc6ed" shape-rendering="crispEdges"/>
<path d="M1823.8 1117.8h13.2v12.8h-13.2z" fill="#a5db42" shape-rendering="crispEdges"/>
<path d="M1837 1117.8h13.2v12.8h-13.2z" fill="#e1f34e" shape-rendering="crispEdges"/>
<path d="M1850.2 1117.8h13.2v12.8h-13.2z" fill="#ffea4e" shape-rendering="crispEdges"/>
<path d="M1863.4 1117.8h13.2v12.8h-13.2z" fill="#ffd54e" shape-rendering="crispEdges"/>
<path d="M1876.6 1117.8h13.2v12.8h-13.2z" fill="#ffde4e" shape-rendering="crispEdges"/>
<path d="M1889.8 1117.8h13.2v12.8h-13.2z" fill="#f3f94e" shape-rendering="crispEdges"/>
<path d="M1876.6 1130.6h13.2v12.8h-13.2z" fill="#b1de45" shape-rendering="crispEdges"/>
<path d="M1903 1130.6h13.2v12.8h-13.2z" fill="#69c93f" shape-rendering="crispEdges"/>
<path d="M1942.6 1130.6h13.2v12.8h-13.2zM1929.4 1143.4h13.2v12.8h-13.2z" fill="#78b4e1" shape-rendering="crispEdges"/>
<path d="M1797.4 1143.4h13.2v12.8h-13.2z" fill="#87bde7" shape-rendering="crispEdges"/>
<path d="M1823.8 1143.4h13.2v12.8h-13.2z" fill="#6fb4ae" shape-rendering="crispEdges"/>
<path d="M1850.2 1143.4h13.2v12.8h-13.2z" fill="#69c363" shape-rendering="crispEdges"/>
<path d="M1876.6 1143.4h13.2v12.8h-13.2z" fill="#66c35a" shape-rendering="crispEdges"/>
<path d="M1889.8 1143.4h13.2v12.8h-13.2z" fill="#6fc07b" shape-rendering="crispEdges"/>
<path d="M1942.6 1143.4h13.2v12.8h-13.2z" fill="#9fc9ed" shape-rendering="crispEdges"/>
<path d="M1823.8 1156.2h13.2v12.8h-13.2z" fill="#75b1e1" shape-rendering="crispEdges"/>
<path d="M1942.6 1169h13.2v12.8h-13.2zM1810.6 1181.8h13.2v12.8h-13.2z" fill="#d8e4f6" shape-rendering="crispEdges"/>
<path d="M1863.4 1194.6h13.2v12.8h-13.2z" fill="#d8e7f6" shape-rendering="crispEdges"/>
<rect x="1543" y="791" width="242" height="137" fill="#fff"/>
<rect x="1540.7" y="757.6" width="679.4" height="610" fill="none" stroke="#9c9ea2" stroke-width="2.8"/>
<rect x="1543.2" y="760.1" width="674.4" height="605" fill="none" stroke="#d2d4d6" stroke-width="2.2"/>
<rect x="1582" y="786.5" width="9" height="4.5" fill="#8a8a8a"/>
<rect x="1626.5" y="1284.6" width="169.3" height="13.1" fill="#000"/>
<g font-family="'DejaVu Sans',Verdana,sans-serif" font-weight="bold" fill="#111">
<text x="1953.8" y="1272.5" font-size="43" textLength="226" lengthAdjust="spacingAndGlyphs">λ=520 nm</text>
<text x="1953.8" y="1336.3" font-size="43" textLength="226" lengthAdjust="spacingAndGlyphs">Z=485 μm</text>
<text x="1664" y="1340" font-size="36" textLength="94" lengthAdjust="spacingAndGlyphs">2 μm</text>
</g>
<rect x="2246.5" y="755" width="60" height="614" fill="url(#cb)"/>
<rect x="2247.9" y="756.4" width="57.2" height="611.2" fill="none" stroke="#9c9ea2" stroke-width="2.8"/>
<rect x="2250.4" y="758.9" width="52.2" height="606.2" fill="none" stroke="#d2d4d6" stroke-width="2.2"/>
<rect x="2296.5" y="833.5" width="6" height="3" fill="#000" opacity="0.35"/>
<rect x="2296.5" y="955.5" width="6" height="3" fill="#000" opacity="0.35"/>
<rect x="2296.5" y="1077.5" width="6" height="3" fill="#000" opacity="0.35"/>
<rect x="2296.5" y="1199.5" width="6" height="3" fill="#000" opacity="0.35"/>
<g font-family="'Liberation Sans',Arial,sans-serif" font-size="42.5" fill="#2a2a2a">
<text x="2320" y="853">0.8</text>
<text x="2320" y="975.2">0.6</text>
<text x="2320" y="1097.4">0.4</text>
<text x="2320" y="1219.5">0.2</text>
<text x="2320" y="1339.5">0</text>
</g>
<rect x="1539.3" y="1442.5" width="678.3" height="611" fill="#f5f8fd"/>
<path d="M1834 1579.7h13v12.8h-13zM1847 1579.7h13v12.8h-13zM1860 1579.7h13v12.8h-13zM1873 1579.7h13v12.8h-13zM1886 1579.7h13v12.8h-13zM1899 1579.7h13v12.8h-13zM1912 1579.7h13v12.8h-13zM1808 1592.5h13v12.8h-13zM1938 1592.5h13v12.8h-13zM1782 1605.3h13v12.8h-13zM1964 1605.3h13v12.8h-13zM1730 1656.5h13v12.8h-13zM2016 1656.5h13v12.8h-13zM1717 1682.1h13v12.8h-13zM2029 1682.1h13v12.8h-13zM1704 1720.5h13v12.8h-13zM2042 1720.5h13v12.8h-13zM1704 1733.3h13v12.8h-13zM2042 1733.3h13v12.8h-13zM1704 1746.1h13v12.8h-13zM2042 1746.1h13v12.8h-13zM1704 1758.9h13v12.8h-13zM2042 1758.9h13v12.8h-13zM1704 1771.7h13v12.8h-13zM2042 1771.7h13v12.8h-13zM1717 1810.1h13v12.8h-13zM2029 1810.1h13v12.8h-13zM1730 1835.7h13v12.8h-13zM2016 1835.7h13v12.8h-13zM1782 1886.9h13v12.8h-13zM1964 1886.9h13v12.8h-13zM1808 1899.7h13v12.8h-13zM1938 1899.7h13v12.8h-13zM1834 1912.5h13v12.8h-13zM1847 1912.5h13v12.8h-13zM1860 1912.5h13v12.8h-13zM1873 1912.5h13v12.8h-13zM1886 1912.5h13v12.8h-13zM1899 1912.5h13v12.8h-13zM1912 1912.5h13v12.8h-13z" fill="#f0f6fc" shape-rendering="crispEdges"/>
<path d="M1821 1592.5h13v12.8h-13zM1834 1592.5h13v12.8h-13zM1912 1592.5h13v12.8h-13zM1925 1592.5h13v12.8h-13zM1795 1605.3h13v12.8h-13zM1951 1605.3h13v12.8h-13zM1769 1618.1h13v12.8h-13zM1977 1618.1h13v12.8h-13zM1756 1630.9h13v12.8h-13zM1990 1630.9h13v12.8h-13zM1743 1643.7h13v12.8h-13zM2003 1643.7h13v12.8h-13zM1743 1656.5h13v12.8h-13zM2003 1656.5h13v12.8h-13zM1730 1669.3h13v12.8h-13zM2016 1669.3h13v12.8h-13zM1717 1694.9h13v12.8h-13zM2029 1694.9h13v12.8h-13zM1717 1707.7h13v12.8h-13zM2029 1707.7h13v12.8h-13zM1717 1720.5h13v12.8h-13zM2029 1720.5h13v12.8h-13zM1717 1771.7h13v12.8h-13zM2029 1771.7h13v12.8h-13zM1717 1784.5h13v12.8h-13zM2029 1784.5h13v12.8h-13zM1717 1797.3h13v12.8h-13zM2029 1797.3h13v12.8h-13zM1730 1822.9h13v12.8h-13zM2016 1822.9h13v12.8h-13zM1743 1835.7h13v12.8h-13zM2003 1835.7h13v12.8h-13zM1743 1848.5h13v12.8h-13zM2003 1848.5h13v12.8h-13zM1756 1861.3h13v12.8h-13zM1990 1861.3h13v12.8h-13zM1769 1874.1h13v12.8h-13zM1977 1874.1h13v12.8h-13zM1795 1886.9h13v12.8h-13zM1951 1886.9h13v12.8h-13zM1821 1899.7h13v12.8h-13zM1834 1899.7h13v12.8h-13zM1912 1899.7h13v12.8h-13zM1925 1899.7h13v12.8h-13z" fill="#f0f3fc" shape-rendering="crispEdges"/>
<path d="M1847 1592.5h13v12.8h-13zM1860 1592.5h13v12.8h-13zM1873 1592.5h13v12.8h-13zM1886 1592.5h13v12.8h-13zM1899 1592.5h13v12.8h-13zM1808 1605.3h13v12.8h-13zM1938 1605.3h13v12.8h-13zM1782 1618.1h13v12.8h-13zM1964 1618.1h13v12.8h-13zM1769 1630.9h13v12.8h-13zM1977 1630.9h13v12.8h-13zM1756 1643.7h13v12.8h-13zM1990 1643.7h13v12.8h-13zM1743 1669.3h13v12.8h-13zM2003 1669.3h13v12.8h-13zM1730 1682.1h13v12.8h-13zM2016 1682.1h13v12.8h-13zM1730 1694.9h13v12.8h-13zM2016 1694.9h13v12.8h-13zM1717 1733.3h13v12.8h-13zM2029 1733.3h13v12.8h-13zM1717 1746.1h13v12.8h-13zM2029 1746.1h13v12.8h-13zM1717 1758.9h13v12.8h-13zM2029 1758.9h13v12.8h-13zM1730 1797.3h13v12.8h-13zM2016 1797.3h13v12.8h-13zM1730 1810.1h13v12.8h-13zM2016 1810.1h13v12.8h-13zM1743 1822.9h13v12.8h-13zM2003 1822.9h13v12.8h-13zM1756 1848.5h13v12.8h-13zM1990 1848.5h13v12.8h-13zM1769 1861.3h13v12.8h-13zM1977 1861.3h13v12.8h-13zM1782 1874.1h13v12.8h-13zM1964 1874.1h13v12.8h-13zM1808 1886.9h13v12.8h-13zM1938 1886.9h13v12.8h-13zM1847 1899.7h13v12.8h-13zM1860 1899.7h13v12.8h-13zM1873 1899.7h13v12.8h-13zM1886 1899.7h13v12.8h-13zM1899 1899.7h13v12.8h-13z" fill="#edf3f9" shape-rendering="crispEdges"/>
<path d="M1821 1605.3h13v12.8h-13zM1925 1605.3h13v12.8h-13zM1795 1618.1h13v12.8h-13zM1951 1618.1h13v12.8h-13zM1795 1874.1h13v12.8h-13zM1951 1874.1h13v12.8h-13zM1821 1886.9h13v12.8h-13zM1925 1886.9h13v12.8h-13z" fill="#edf0f9" shape-rendering="crispEdges"/>
<path d="M1834 1605.3h13v12.8h-13zM1847 1605.3h13v12.8h-13zM1899 1605.3h13v12.8h-13zM1912 1605.3h13v12.8h-13zM1808 1618.1h13v12.8h-13zM1938 1618.1h13v12.8h-13zM1782 1630.9h13v12.8h-13zM1964 1630.9h13v12.8h-13zM1769 1643.7h13v12.8h-13zM1977 1643.7h13v12.8h-13zM1756 1656.5h13v12.8h-13zM1990 1656.5h13v12.8h-13zM1743 1682.1h13v12.8h-13zM2003 1682.1h13v12.8h-13zM1730 1707.7h13v12.8h-13zM2016 1707.7h13v12.8h-13zM1730 1720.5h13v12.8h-13zM2016 1720.5h13v12.8h-13zM1730 1733.3h13v12.8h-13zM2016 1733.3h13v12.8h-13zM1730 1746.1h13v12.8h-13zM2016 1746.1h13v12.8h-13zM1730 1758.9h13v12.8h-13zM2016 1758.9h13v12.8h-13zM1730 1771.7h13v12.8h-13zM2016 1771.7h13v12.8h-13zM1730 1784.5h13v12.8h-13zM2016 1784.5h13v12.8h-13zM1743 1810.1h13v12.8h-13zM2003 1810.1h13v12.8h-13zM1756 1835.7h13v12.8h-13zM1990 1835.7h13v12.8h-13zM1769 1848.5h13v12.8h-13zM1977 1848.5h13v12.8h-13zM1782 1861.3h13v12.8h-13zM1964 1861.3h13v12.8h-13zM1808 1874.1h13v12.8h-13zM1938 1874.1h13v12.8h-13zM1834 1886.9h13v12.8h-13zM1847 1886.9h13v12.8h-13zM1899 1886.9h13v12.8h-13zM1912 1886.9h13v12.8h-13z" fill="#eaf0f9" shape-rendering="crispEdges"/>
<path d="M1860 1605.3h13v12.8h-13zM1873 1605.3h13v12.8h-13zM1886 1605.3h13v12.8h-13zM1821 1618.1h13v12.8h-13zM1925 1618.1h13v12.8h-13zM1795 1630.9h13v12.8h-13zM1951 1630.9h13v12.8h-13zM1756 1669.3h13v12.8h-13zM1990 1669.3h13v12.8h-13zM1743 1694.9h13v12.8h-13zM2003 1694.9h13v12.8h-13zM1743 1797.3h13v12.8h-13zM2003 1797.3h13v12.8h-13zM1756 1822.9h13v12.8h-13zM1990 1822.9h13v12.8h-13zM1795 1861.3h13v12.8h-13zM1951 1861.3h13v12.8h-13zM1821 1874.1h13v12.8h-13zM1925 1874.1h13v12.8h-13zM1860 1886.9h13v12.8h-13zM1873 1886.9h13v12.8h-13zM1886 1886.9h13v12.8h-13z" fill="#e7edf9" shape-rendering="crispEdges"/>
<path d="M1834 1618.1h13v12.8h-13zM1912 1618.1h13v12.8h-13zM1756 1682.1h13v12.8h-13zM1990 1682.1h13v12.8h-13zM1743 1720.5h13v12.8h-13zM2003 1720.5h13v12.8h-13zM1743 1771.7h13v12.8h-13zM2003 1771.7h13v12.8h-13zM1756 1810.1h13v12.8h-13zM1990 1810.1h13v12.8h-13zM1834 1874.1h13v12.8h-13zM1912 1874.1h13v12.8h-13z" fill="#e1eaf6" shape-rendering="crispEdges"/>
<path d="M1847 1618.1h13v12.8h-13zM1899 1618.1h13v12.8h-13zM1769 1669.3h13v12.8h-13zM1977 1669.3h13v12.8h-13zM1743 1733.3h13v12.8h-13zM2003 1733.3h13v12.8h-13zM1743 1746.1h13v12.8h-13zM2003 1746.1h13v12.8h-13zM1743 1758.9h13v12.8h-13zM2003 1758.9h13v12.8h-13zM1769 1822.9h13v12.8h-13zM1977 1822.9h13v12.8h-13zM1847 1874.1h13v12.8h-13zM1899 1874.1h13v12.8h-13z" fill="#dbe7f6" shape-rendering="crispEdges"/>
<path d="M1860 1618.1h13v12.8h-13zM1886 1618.1h13v12.8h-13zM1795 1643.7h13v12.8h-13zM1951 1643.7h13v12.8h-13zM1795 1848.5h13v12.8h-13zM1951 1848.5h13v12.8h-13zM1860 1874.1h13v12.8h-13zM1886 1874.1h13v12.8h-13z" fill="#d8e4f6" shape-rendering="crispEdges"/>
<path d="M1873 1618.1h13v12.8h-13zM1782 1656.5h13v12.8h-13zM1964 1656.5h13v12.8h-13zM1756 1694.9h13v12.8h-13zM1990 1694.9h13v12.8h-13zM1756 1797.3h13v12.8h-13zM1990 1797.3h13v12.8h-13zM1782 1835.7h13v12.8h-13zM1964 1835.7h13v12.8h-13zM1873 1874.1h13v12.8h-13z" fill="#d8e4f3" shape-rendering="crispEdges"/>
<path d="M1808 1630.9h13v12.8h-13zM1938 1630.9h13v12.8h-13zM1808 1861.3h13v12.8h-13zM1938 1861.3h13v12.8h-13z" fill="#deeaf6" shape-rendering="crispEdges"/>
<path d="M1821 1630.9h13v12.8h-13zM1925 1630.9h13v12.8h-13zM1821 1861.3h13v12.8h-13zM1925 1861.3h13v12.8h-13z" fill="#d5e4f3" shape-rendering="crispEdges"/>
<path d="M1834 1630.9h13v12.8h-13zM1912 1630.9h13v12.8h-13zM1808 1643.7h13v12.8h-13zM1938 1643.7h13v12.8h-13zM1808 1848.5h13v12.8h-13zM1938 1848.5h13v12.8h-13zM1834 1861.3h13v12.8h-13zM1912 1861.3h13v12.8h-13z" fill="#c9dbf0" shape-rendering="crispEdges"/>
<path d="M1847 1630.9h13v12.8h-13zM1899 1630.9h13v12.8h-13zM1795 1656.5h13v12.8h-13zM1951 1656.5h13v12.8h-13zM1795 1835.7h13v12.8h-13zM1951 1835.7h13v12.8h-13zM1847 1861.3h13v12.8h-13zM1899 1861.3h13v12.8h-13z" fill="#c0d8f0" shape-rendering="crispEdges"/>
<path d="M1860 1630.9h13v12.8h-13zM1886 1630.9h13v12.8h-13zM1769 1694.9h13v12.8h-13zM1977 1694.9h13v12.8h-13zM1769 1797.3h13v12.8h-13zM1977 1797.3h13v12.8h-13zM1860 1861.3h13v12.8h-13zM1886 1861.3h13v12.8h-13z" fill="#bad5ed" shape-rendering="crispEdges"/>
<path d="M1873 1630.9h13v12.8h-13zM1873 1861.3h13v12.8h-13z" fill="#b7d2ed" shape-rendering="crispEdges"/>
<path d="M1782 1643.7h13v12.8h-13zM1964 1643.7h13v12.8h-13zM1769 1656.5h13v12.8h-13zM1977 1656.5h13v12.8h-13zM1769 1835.7h13v12.8h-13zM1977 1835.7h13v12.8h-13zM1782 1848.5h13v12.8h-13zM1964 1848.5h13v12.8h-13z" fill="#e4edf9" shape-rendering="crispEdges"/>
<path d="M1821 1643.7h13v12.8h-13zM1925 1643.7h13v12.8h-13zM1821 1848.5h13v12.8h-13zM1925 1848.5h13v12.8h-13z" fill="#b4d2ed" shape-rendering="crispEdges"/>
<path d="M1834 1643.7h13v12.8h-13zM1912 1643.7h13v12.8h-13zM1795 1669.3h13v12.8h-13zM1951 1669.3h13v12.8h-13zM1795 1822.9h13v12.8h-13zM1951 1822.9h13v12.8h-13zM1834 1848.5h13v12.8h-13zM1912 1848.5h13v12.8h-13z" fill="#a2c9ed" shape-rendering="crispEdges"/>
<path d="M1847 1643.7h13v12.8h-13zM1899 1643.7h13v12.8h-13zM1847 1848.5h13v12.8h-13zM1899 1848.5h13v12.8h-13z" fill="#90c0ea" shape-rendering="crispEdges"/>
<path d="M1860 1643.7h13v12.8h-13zM1886 1643.7h13v12.8h-13zM1821 1656.5h13v12.8h-13zM1925 1656.5h13v12.8h-13zM1821 1835.7h13v12.8h-13zM1925 1835.7h13v12.8h-13zM1860 1848.5h13v12.8h-13zM1886 1848.5h13v12.8h-13z" fill="#87bae7" shape-rendering="crispEdges"/>
<path d="M1873 1643.7h13v12.8h-13zM1873 1848.5h13v12.8h-13z" fill="#81b7e4" shape-rendering="crispEdges"/>
<path d="M1808 1656.5h13v12.8h-13zM1938 1656.5h13v12.8h-13zM1808 1835.7h13v12.8h-13zM1938 1835.7h13v12.8h-13z" fill="#a5cced" shape-rendering="crispEdges"/>
<path d="M1834 1656.5h13v12.8h-13zM1912 1656.5h13v12.8h-13zM1782 1707.7h13v12.8h-13zM1964 1707.7h13v12.8h-13zM1782 1784.5h13v12.8h-13zM1964 1784.5h13v12.8h-13zM1834 1835.7h13v12.8h-13zM1912 1835.7h13v12.8h-13z" fill="#6faede" shape-rendering="crispEdges"/>
<path d="M1847 1656.5h13v12.8h-13zM1899 1656.5h13v12.8h-13zM1795 1694.9h13v12.8h-13zM1951 1694.9h13v12.8h-13zM1795 1797.3h13v12.8h-13zM1951 1797.3h13v12.8h-13zM1847 1835.7h13v12.8h-13zM1899 1835.7h13v12.8h-13z" fill="#6faed2" shape-rendering="crispEdges"/>
<path d="M1860 1656.5h13v12.8h-13zM1886 1656.5h13v12.8h-13zM1860 1835.7h13v12.8h-13zM1886 1835.7h13v12.8h-13z" fill="#6fb1c0" shape-rendering="crispEdges"/>
<path d="M1873 1656.5h13v12.8h-13zM1873 1835.7h13v12.8h-13z" fill="#6fb4b7" shape-rendering="crispEdges"/>
<path d="M1782 1669.3h13v12.8h-13zM1964 1669.3h13v12.8h-13zM1782 1822.9h13v12.8h-13zM1964 1822.9h13v12.8h-13z" fill="#c3d8f0" shape-rendering="crispEdges"/>
<path d="M1808 1669.3h13v12.8h-13zM1938 1669.3h13v12.8h-13zM1808 1822.9h13v12.8h-13zM1938 1822.9h13v12.8h-13z" fill="#78b4e1" shape-rendering="crispEdges"/>
<path d="M1821 1669.3h13v12.8h-13zM1925 1669.3h13v12.8h-13zM1821 1822.9h13v12.8h-13zM1925 1822.9h13v12.8h-13z" fill="#6faecf" shape-rendering="crispEdges"/>
<path d="M1834 1669.3h13v12.8h-13zM1912 1669.3h13v12.8h-13zM1834 1822.9h13v12.8h-13zM1912 1822.9h13v12.8h-13z" fill="#6fba9f" shape-rendering="crispEdges"/>
<path d="M1847 1669.3h13v12.8h-13zM1899 1669.3h13v12.8h-13zM1847 1822.9h13v12.8h-13zM1899 1822.9h13v12.8h-13z" fill="#6cc078" shape-rendering="crispEdges"/>
<path d="M1860 1669.3h13v12.8h-13zM1886 1669.3h13v12.8h-13zM1795 1746.1h13v12.8h-13zM1951 1746.1h13v12.8h-13zM1860 1822.9h13v12.8h-13zM1886 1822.9h13v12.8h-13z" fill="#63c651" shape-rendering="crispEdges"/>
<path d="M1873 1669.3h13v12.8h-13zM1873 1822.9h13v12.8h-13z" fill="#60c642" shape-rendering="crispEdges"/>
<path d="M1769 1682.1h13v12.8h-13zM1977 1682.1h13v12.8h-13zM1769 1810.1h13v12.8h-13zM1977 1810.1h13v12.8h-13z" fill="#c9def0" shape-rendering="crispEdges"/>
<path d="M1782 1682.1h13v12.8h-13zM1964 1682.1h13v12.8h-13zM1769 1707.7h13v12.8h-13zM1977 1707.7h13v12.8h-13zM1769 1784.5h13v12.8h-13zM1977 1784.5h13v12.8h-13zM1782 1810.1h13v12.8h-13zM1964 1810.1h13v12.8h-13z" fill="#a8cced" shape-rendering="crispEdges"/>
<path d="M1795 1682.1h13v12.8h-13zM1951 1682.1h13v12.8h-13zM1795 1810.1h13v12.8h-13zM1951 1810.1h13v12.8h-13z" fill="#7bb4e1" shape-rendering="crispEdges"/>
<path d="M1808 1682.1h13v12.8h-13zM1938 1682.1h13v12.8h-13zM1782 1746.1h13v12.8h-13zM1964 1746.1h13v12.8h-13zM1808 1810.1h13v12.8h-13zM1938 1810.1h13v12.8h-13z" fill="#6fb1c3" shape-rendering="crispEdges"/>
<path d="M1821 1682.1h13v12.8h-13zM1925 1682.1h13v12.8h-13zM1821 1810.1h13v12.8h-13zM1925 1810.1h13v12.8h-13z" fill="#6fbd84" shape-rendering="crispEdges"/>
<path d="M1834 1682.1h13v12.8h-13zM1912 1682.1h13v12.8h-13zM1834 1810.1h13v12.8h-13zM1912 1810.1h13v12.8h-13z" fill="#69c93f" shape-rendering="crispEdges"/>
<path d="M1847 1682.1h13v12.8h-13zM1899 1682.1h13v12.8h-13zM1847 1810.1h13v12.8h-13zM1899 1810.1h13v12.8h-13z" fill="#90d83f" shape-rendering="crispEdges"/>
<path d="M1860 1682.1h13v12.8h-13zM1886 1682.1h13v12.8h-13zM1860 1810.1h13v12.8h-13zM1886 1810.1h13v12.8h-13z" fill="#b7de48" shape-rendering="crispEdges"/>
<path d="M1873 1682.1h13v12.8h-13zM1873 1810.1h13v12.8h-13z" fill="#c0e448" shape-rendering="crispEdges"/>
<path d="M1782 1694.9h13v12.8h-13zM1964 1694.9h13v12.8h-13zM1769 1733.3h13v12.8h-13zM1977 1733.3h13v12.8h-13zM1769 1758.9h13v12.8h-13zM1977 1758.9h13v12.8h-13zM1782 1797.3h13v12.8h-13zM1964 1797.3h13v12.8h-13z" fill="#8dbde7" shape-rendering="crispEdges"/>
<path d="M1808 1694.9h13v12.8h-13zM1938 1694.9h13v12.8h-13zM1808 1797.3h13v12.8h-13zM1938 1797.3h13v12.8h-13z" fill="#6fbd87" shape-rendering="crispEdges"/>
<path d="M1821 1694.9h13v12.8h-13zM1925 1694.9h13v12.8h-13zM1821 1797.3h13v12.8h-13zM1925 1797.3h13v12.8h-13z" fill="#75cf3f" shape-rendering="crispEdges"/>
<path d="M1834 1694.9h13v12.8h-13zM1912 1694.9h13v12.8h-13zM1821 1707.7h13v12.8h-13zM1925 1707.7h13v12.8h-13zM1821 1784.5h13v12.8h-13zM1925 1784.5h13v12.8h-13zM1834 1797.3h13v12.8h-13zM1912 1797.3h13v12.8h-13z" fill="#bde148" shape-rendering="crispEdges"/>
<path d="M1847 1694.9h13v12.8h-13zM1899 1694.9h13v12.8h-13zM1847 1797.3h13v12.8h-13zM1899 1797.3h13v12.8h-13z" fill="#f3f94e" shape-rendering="crispEdges"/>
<path d="M1860 1694.9h13v12.8h-13zM1886 1694.9h13v12.8h-13zM1860 1797.3h13v12.8h-13zM1886 1797.3h13v12.8h-13z" fill="#ffd84e" shape-rendering="crispEdges"/>
<path d="M1873 1694.9h13v12.8h-13zM1873 1797.3h13v12.8h-13z" fill="#ffcc4e" shape-rendering="crispEdges"/>
<path d="M1743 1707.7h13v12.8h-13zM2003 1707.7h13v12.8h-13zM1743 1784.5h13v12.8h-13zM2003 1784.5h13v12.8h-13z" fill="#e4edf6" shape-rendering="crispEdges"/>
<path d="M1756 1707.7h13v12.8h-13zM1990 1707.7h13v12.8h-13zM1756 1784.5h13v12.8h-13zM1990 1784.5h13v12.8h-13z" fill="#ccdef3" shape-rendering="crispEdges"/>
<path d="M1795 1707.7h13v12.8h-13zM1951 1707.7h13v12.8h-13zM1795 1784.5h13v12.8h-13zM1951 1784.5h13v12.8h-13z" fill="#6fb7a5" shape-rendering="crispEdges"/>
<path d="M1808 1707.7h13v12.8h-13zM1938 1707.7h13v12.8h-13zM1808 1784.5h13v12.8h-13zM1938 1784.5h13v12.8h-13z" fill="#66c93f" shape-rendering="crispEdges"/>
<path d="M1834 1707.7h13v12.8h-13zM1912 1707.7h13v12.8h-13zM1834 1784.5h13v12.8h-13zM1912 1784.5h13v12.8h-13z" fill="#ffed4e" shape-rendering="crispEdges"/>
<path d="M1847 1707.7h13v12.8h-13zM1899 1707.7h13v12.8h-13zM1847 1784.5h13v12.8h-13zM1899 1784.5h13v12.8h-13z" fill="#ffa54e" shape-rendering="crispEdges"/>
<path d="M1860 1707.7h13v12.8h-13zM1886 1707.7h13v12.8h-13zM1860 1784.5h13v12.8h-13zM1886 1784.5h13v12.8h-13z" fill="#ff7e48" shape-rendering="crispEdges"/>
<path d="M1873 1707.7h13v12.8h-13zM1873 1784.5h13v12.8h-13z" fill="#ff6c48" shape-rendering="crispEdges"/>
<path d="M1756 1720.5h13v12.8h-13zM1990 1720.5h13v12.8h-13zM1756 1771.7h13v12.8h-13zM1990 1771.7h13v12.8h-13z" fill="#c3dbf0" shape-rendering="crispEdges"/>
<path d="M1769 1720.5h13v12.8h-13zM1977 1720.5h13v12.8h-13zM1769 1771.7h13v12.8h-13zM1977 1771.7h13v12.8h-13z" fill="#99c3ea" shape-rendering="crispEdges"/>
<path d="M1782 1720.5h13v12.8h-13zM1964 1720.5h13v12.8h-13zM1782 1771.7h13v12.8h-13zM1964 1771.7h13v12.8h-13z" fill="#6faed5" shape-rendering="crispEdges"/>
<path d="M1795 1720.5h13v12.8h-13zM1951 1720.5h13v12.8h-13zM1795 1771.7h13v12.8h-13zM1951 1771.7h13v12.8h-13z" fill="#6fbd81" shape-rendering="crispEdges"/>
<path d="M1808 1720.5h13v12.8h-13zM1938 1720.5h13v12.8h-13zM1808 1771.7h13v12.8h-13zM1938 1771.7h13v12.8h-13z" fill="#8ad53f" shape-rendering="crispEdges"/>
<path d="M1821 1720.5h13v12.8h-13zM1925 1720.5h13v12.8h-13zM1821 1771.7h13v12.8h-13zM1925 1771.7h13v12.8h-13z" fill="#f0f94e" shape-rendering="crispEdges"/>
<path d="M1834 1720.5h13v12.8h-13zM1912 1720.5h13v12.8h-13zM1834 1771.7h13v12.8h-13zM1912 1771.7h13v12.8h-13z" fill="#ffa84e" shape-rendering="crispEdges"/>
<path d="M1847 1720.5h13v12.8h-13zM1899 1720.5h13v12.8h-13zM1847 1771.7h13v12.8h-13zM1899 1771.7h13v12.8h-13z" fill="#ff5d45" shape-rendering="crispEdges"/>
<path d="M1860 1720.5h13v12.8h-13zM1886 1720.5h13v12.8h-13zM1860 1771.7h13v12.8h-13zM1886 1771.7h13v12.8h-13z" fill="#db3c2a" shape-rendering="crispEdges"/>
<path d="M1873 1720.5h13v12.8h-13zM1873 1771.7h13v12.8h-13z" fill="#c92d1e" shape-rendering="crispEdges"/>
<path d="M1756 1733.3h13v12.8h-13zM1990 1733.3h13v12.8h-13zM1756 1758.9h13v12.8h-13zM1990 1758.9h13v12.8h-13z" fill="#bdd8f0" shape-rendering="crispEdges"/>
<path d="M1782 1733.3h13v12.8h-13zM1964 1733.3h13v12.8h-13zM1782 1758.9h13v12.8h-13zM1964 1758.9h13v12.8h-13z" fill="#6fb1c9" shape-rendering="crispEdges"/>
<path d="M1795 1733.3h13v12.8h-13zM1951 1733.3h13v12.8h-13zM1795 1758.9h13v12.8h-13zM1951 1758.9h13v12.8h-13z" fill="#66c360" shape-rendering="crispEdges"/>
<path d="M1808 1733.3h13v12.8h-13zM1938 1733.3h13v12.8h-13zM1808 1758.9h13v12.8h-13zM1938 1758.9h13v12.8h-13z" fill="#aede45" shape-rendering="crispEdges"/>
<path d="M1821 1733.3h13v12.8h-13zM1925 1733.3h13v12.8h-13zM1821 1758.9h13v12.8h-13zM1925 1758.9h13v12.8h-13z" fill="#ffde4e" shape-rendering="crispEdges"/>
<path d="M1834 1733.3h13v12.8h-13zM1912 1733.3h13v12.8h-13zM1834 1758.9h13v12.8h-13zM1912 1758.9h13v12.8h-13z" fill="#ff8148" shape-rendering="crispEdges"/>
<path d="M1847 1733.3h13v12.8h-13zM1899 1733.3h13v12.8h-13zM1847 1758.9h13v12.8h-13zM1899 1758.9h13v12.8h-13z" fill="#db3c2d" shape-rendering="crispEdges"/>
<path d="M1860 1733.3h13v12.8h-13zM1886 1733.3h13v12.8h-13zM1860 1758.9h13v12.8h-13zM1886 1758.9h13v12.8h-13z" fill="#9c0f0f" shape-rendering="crispEdges"/>
<path d="M1873 1733.3h13v12.8h-13zM1873 1758.9h13v12.8h-13z" fill="#8d0606" shape-rendering="crispEdges"/>
<path d="M1756 1746.1h13v12.8h-13zM1990 1746.1h13v12.8h-13z" fill="#bdd5f0" shape-rendering="crispEdges"/>
<path d="M1769 1746.1h13v12.8h-13zM1977 1746.1h13v12.8h-13z" fill="#8abde7" shape-rendering="crispEdges"/>
<path d="M1808 1746.1h13v12.8h-13zM1938 1746.1h13v12.8h-13z" fill="#bae148" shape-rendering="crispEdges"/>
<path d="M1821 1746.1h13v12.8h-13zM1925 1746.1h13v12.8h-13z" fill="#ffd24e" shape-rendering="crispEdges"/>
<path d="M1834 1746.1h13v12.8h-13zM1912 1746.1h13v12.8h-13z" fill="#ff7248" shape-rendering="crispEdges"/>
<path d="M1847 1746.1h13v12.8h-13zM1899 1746.1h13v12.8h-13z" fill="#cc3021" shape-rendering="crispEdges"/>
<path d="M1860 1746.1h13v12.8h-13zM1886 1746.1h13v12.8h-13z" fill="#900606" shape-rendering="crispEdges"/>
<path d="M1873 1746.1h13v12.8h-13z" fill="#7e0000" shape-rendering="crispEdges"/>
<rect x="1569.8" y="1475" width="192" height="109" fill="#fff"/>
<rect x="1540.7" y="1443.9" width="675.5" height="608.2" fill="none" stroke="#9c9ea2" stroke-width="2.8"/>
<rect x="1543.2" y="1446.4" width="670.5" height="603.2" fill="none" stroke="#d2d4d6" stroke-width="2.2"/>
<rect x="1625.7" y="1970.2" width="168.8" height="13.1" fill="#000"/>
<g font-family="'DejaVu Sans',Verdana,sans-serif" font-weight="bold" fill="#111">
<text x="1951.6" y="1961.5" font-size="43" textLength="226" lengthAdjust="spacingAndGlyphs">λ=550 nm</text>
<text x="1951.6" y="2026" font-size="43" textLength="226" lengthAdjust="spacingAndGlyphs">Z=485 μm</text>
<text x="1672" y="2024" font-size="36" textLength="94" lengthAdjust="spacingAndGlyphs">2 μm</text>
</g>
<rect x="2242" y="1442.5" width="63" height="611" fill="url(#cb)"/>
<rect x="2243.4" y="1443.9" width="60.2" height="608.2" fill="none" stroke="#9c9ea2" stroke-width="2.8"/>
<rect x="2245.9" y="1446.4" width="55.2" height="603.2" fill="none" stroke="#d2d4d6" stroke-width="2.2"/>
<rect x="2295" y="1520" width="6" height="3" fill="#000" opacity="0.35"/>
<rect x="2295" y="1642.3" width="6" height="3" fill="#000" opacity="0.35"/>
<rect x="2295" y="1764.5" width="6" height="3" fill="#000" opacity="0.35"/>
<rect x="2295" y="1884.5" width="6" height="3" fill="#000" opacity="0.35"/>
<g font-family="'Liberation Sans',Arial,sans-serif" font-size="42.5" fill="#2a2a2a">
<text x="2316" y="1539.5">0.8</text>
<text x="2316" y="1661.8">0.6</text>
<text x="2316" y="1784">0.4</text>
<text x="2316" y="1904">0.2</text>
<text x="2316" y="2025">0</text>
</g>
</svg>
</body></html>
